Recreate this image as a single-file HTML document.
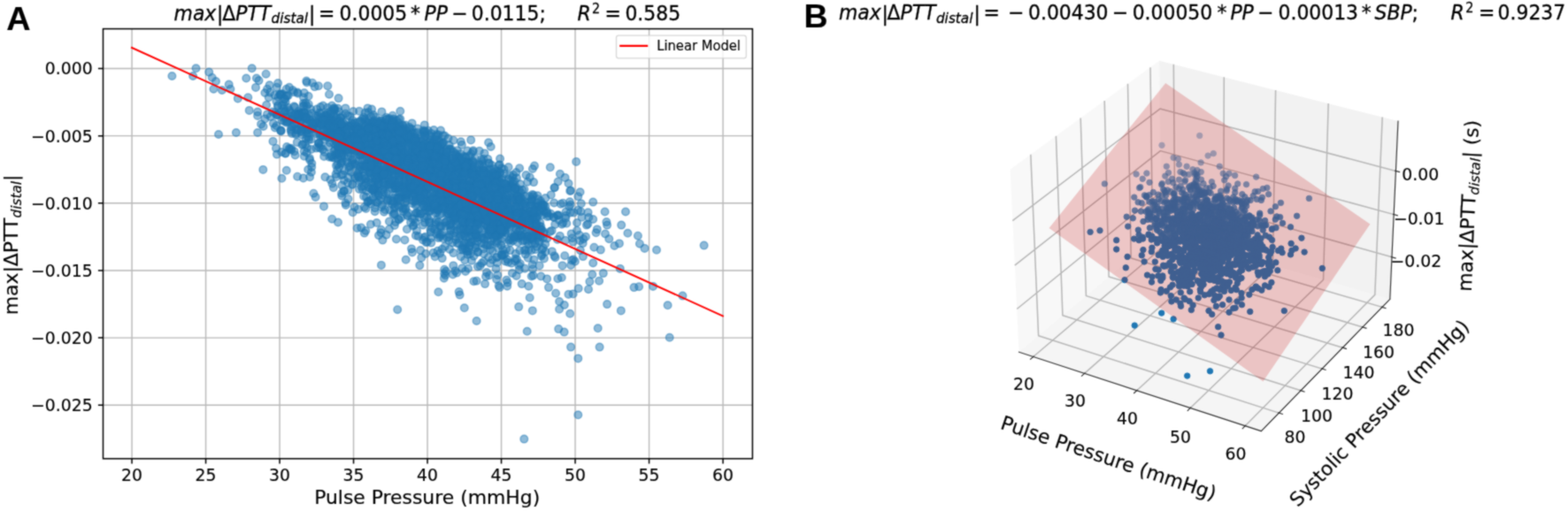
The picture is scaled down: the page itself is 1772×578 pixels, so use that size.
<!DOCTYPE html>
<html lang="en"><head><meta charset="utf-8"><title>Figure: PTT vs pulse pressure</title><style>html,body{margin:0;padding:0;background:#fff}body{width:1772px;height:578px;overflow:hidden}svg text{white-space:pre;stroke:#000;stroke-width:.16px;paint-order:stroke fill}</style></head><body><svg role="img" aria-label="Scatter plots of max delta PTT distal versus pulse pressure and systolic pressure" width="1772" height="578" viewBox="0 0 1772 578" style="display:block"><defs><filter id="soft" x="0" y="0" width="1772" height="578" filterUnits="userSpaceOnUse" color-interpolation-filters="sRGB"><feConvolveMatrix order="3" kernelMatrix="1 2 1 2 8 2 1 2 1" divisor="20" edgeMode="duplicate" preserveAlpha="true"/></filter></defs><g filter="url(#soft)"><rect width="1772" height="578" fill="#fff"/><rect x="116.5" y="32.6" width="733.9" height="486.2" fill="#fff"/>
<path d="M149.05 32.6V518.8M232.55 32.6V518.8M316.05 32.6V518.8M399.55 32.6V518.8M483.05 32.6V518.8M566.55 32.6V518.8M650.05 32.6V518.8M733.55 32.6V518.8M817.05 32.6V518.8M116.5 77.50H850.4M116.5 153.65H850.4M116.5 229.80H850.4M116.5 305.95H850.4M116.5 382.10H850.4M116.5 458.25H850.4" stroke="#b8b8b8" stroke-width="1.4" fill="none"/>
<g fill="#1f77b4" fill-opacity=".5" stroke="#1f77b4" stroke-opacity=".5" stroke-width="1.4">
<circle cx="544.4" cy="199.6" r="4.3"/><circle cx="470.1" cy="216.4" r="4.3"/><circle cx="487.4" cy="214.7" r="4.3"/><circle cx="543" cy="212.3" r="4.3"/><circle cx="504.7" cy="228.8" r="4.3"/><circle cx="362.2" cy="121.1" r="4.3"/><circle cx="439.2" cy="149.9" r="4.3"/><circle cx="561.9" cy="272.5" r="4.3"/><circle cx="545.9" cy="241.1" r="4.3"/><circle cx="420.6" cy="170.2" r="4.3"/><circle cx="377.3" cy="162.2" r="4.3"/><circle cx="492.6" cy="188.6" r="4.3"/><circle cx="450.6" cy="154.7" r="4.3"/><circle cx="494.5" cy="262.6" r="4.3"/><circle cx="587.8" cy="298.2" r="4.3"/><circle cx="534.3" cy="262.6" r="4.3"/><circle cx="560.5" cy="204.6" r="4.3"/><circle cx="569.3" cy="238" r="4.3"/><circle cx="503.4" cy="197.2" r="4.3"/><circle cx="559.9" cy="229.1" r="4.3"/><circle cx="590.2" cy="241.2" r="4.3"/><circle cx="562" cy="214" r="4.3"/><circle cx="503.9" cy="183.5" r="4.3"/><circle cx="404.9" cy="146.9" r="4.3"/><circle cx="465.1" cy="155.7" r="4.3"/><circle cx="522.6" cy="236" r="4.3"/><circle cx="541.9" cy="206.9" r="4.3"/><circle cx="426.4" cy="181.9" r="4.3"/><circle cx="424.2" cy="139.1" r="4.3"/><circle cx="336.1" cy="199.7" r="4.3"/><circle cx="505.3" cy="227.3" r="4.3"/><circle cx="432.1" cy="232" r="4.3"/><circle cx="459.9" cy="259.3" r="4.3"/><circle cx="435.2" cy="155" r="4.3"/><circle cx="498" cy="165.5" r="4.3"/><circle cx="488.3" cy="223.7" r="4.3"/><circle cx="398" cy="140.3" r="4.3"/><circle cx="596.6" cy="242.7" r="4.3"/><circle cx="576" cy="208.4" r="4.3"/><circle cx="407.3" cy="136.7" r="4.3"/><circle cx="612.4" cy="288" r="4.3"/><circle cx="529.3" cy="190.1" r="4.3"/><circle cx="463.7" cy="209.7" r="4.3"/><circle cx="510.5" cy="194.2" r="4.3"/><circle cx="428.8" cy="210.7" r="4.3"/><circle cx="563.1" cy="266.2" r="4.3"/><circle cx="523.7" cy="206.5" r="4.3"/><circle cx="447.6" cy="192.2" r="4.3"/><circle cx="595.3" cy="245" r="4.3"/><circle cx="553" cy="215.6" r="4.3"/><circle cx="371" cy="140.7" r="4.3"/><circle cx="613.7" cy="237.9" r="4.3"/><circle cx="551.3" cy="277.1" r="4.3"/><circle cx="335.8" cy="160.9" r="4.3"/><circle cx="540.6" cy="192" r="4.3"/><circle cx="441" cy="167.2" r="4.3"/><circle cx="564.8" cy="254.2" r="4.3"/><circle cx="532.7" cy="273.7" r="4.3"/><circle cx="392.6" cy="151.3" r="4.3"/><circle cx="546.2" cy="252" r="4.3"/><circle cx="387.4" cy="150.1" r="4.3"/><circle cx="586.2" cy="246.1" r="4.3"/><circle cx="658.7" cy="275.1" r="4.3"/><circle cx="527.4" cy="194" r="4.3"/><circle cx="509.1" cy="249.9" r="4.3"/><circle cx="481" cy="225.5" r="4.3"/><circle cx="635" cy="253.7" r="4.3"/><circle cx="506.5" cy="241.7" r="4.3"/><circle cx="439.4" cy="144.2" r="4.3"/><circle cx="513.2" cy="224" r="4.3"/><circle cx="464.3" cy="193.7" r="4.3"/><circle cx="441.2" cy="226.9" r="4.3"/><circle cx="455.9" cy="144.7" r="4.3"/><circle cx="473.7" cy="245.7" r="4.3"/><circle cx="577.8" cy="243.9" r="4.3"/><circle cx="440.8" cy="193.6" r="4.3"/><circle cx="471.6" cy="179.1" r="4.3"/><circle cx="453.5" cy="146.4" r="4.3"/><circle cx="515.7" cy="261.9" r="4.3"/><circle cx="440" cy="205.6" r="4.3"/><circle cx="533.1" cy="195.4" r="4.3"/><circle cx="454.6" cy="162.8" r="4.3"/><circle cx="549.5" cy="237.5" r="4.3"/><circle cx="551.7" cy="211.5" r="4.3"/><circle cx="576.5" cy="271" r="4.3"/><circle cx="462.8" cy="161.6" r="4.3"/><circle cx="593.8" cy="287.6" r="4.3"/><circle cx="471.6" cy="178.6" r="4.3"/><circle cx="487" cy="269.3" r="4.3"/><circle cx="468.9" cy="171.6" r="4.3"/><circle cx="505" cy="242.3" r="4.3"/><circle cx="371.1" cy="135.6" r="4.3"/><circle cx="495.3" cy="220.3" r="4.3"/><circle cx="343.7" cy="171.2" r="4.3"/><circle cx="468" cy="187.7" r="4.3"/><circle cx="435.2" cy="237.3" r="4.3"/><circle cx="433.3" cy="162" r="4.3"/><circle cx="515.3" cy="241.1" r="4.3"/><circle cx="594.5" cy="267.3" r="4.3"/><circle cx="445" cy="148.8" r="4.3"/><circle cx="398.4" cy="208.3" r="4.3"/><circle cx="508.4" cy="226.1" r="4.3"/><circle cx="533.5" cy="224" r="4.3"/><circle cx="518.2" cy="202.9" r="4.3"/><circle cx="424.8" cy="228.7" r="4.3"/><circle cx="491.6" cy="166.1" r="4.3"/><circle cx="386" cy="218.8" r="4.3"/><circle cx="531.6" cy="241.2" r="4.3"/><circle cx="430.7" cy="144.1" r="4.3"/><circle cx="471.5" cy="202.3" r="4.3"/><circle cx="478.3" cy="164.3" r="4.3"/><circle cx="484.6" cy="216.5" r="4.3"/><circle cx="490.3" cy="236.8" r="4.3"/><circle cx="370" cy="145.5" r="4.3"/><circle cx="432.1" cy="144.2" r="4.3"/><circle cx="646.7" cy="269.2" r="4.3"/><circle cx="592.7" cy="231" r="4.3"/><circle cx="430.5" cy="156.1" r="4.3"/><circle cx="495.5" cy="206" r="4.3"/><circle cx="403.6" cy="258" r="4.3"/><circle cx="531.6" cy="230.1" r="4.3"/><circle cx="485.2" cy="250.5" r="4.3"/><circle cx="507.4" cy="254.9" r="4.3"/><circle cx="539.3" cy="247.8" r="4.3"/><circle cx="489.3" cy="163.2" r="4.3"/><circle cx="521.3" cy="220.1" r="4.3"/><circle cx="468.3" cy="247.4" r="4.3"/><circle cx="505.3" cy="168.9" r="4.3"/><circle cx="550.4" cy="256.3" r="4.3"/><circle cx="569" cy="223.7" r="4.3"/><circle cx="484.7" cy="182.8" r="4.3"/><circle cx="399.6" cy="179.9" r="4.3"/><circle cx="523" cy="182.5" r="4.3"/><circle cx="387.2" cy="150.9" r="4.3"/><circle cx="567" cy="239.4" r="4.3"/><circle cx="439.4" cy="165.2" r="4.3"/><circle cx="467.7" cy="208.2" r="4.3"/><circle cx="554.9" cy="242.9" r="4.3"/><circle cx="566.7" cy="288.4" r="4.3"/><circle cx="493.4" cy="248.8" r="4.3"/><circle cx="408.6" cy="211.2" r="4.3"/><circle cx="481.3" cy="234" r="4.3"/><circle cx="570.4" cy="226.2" r="4.3"/><circle cx="434.6" cy="193.6" r="4.3"/><circle cx="489.5" cy="218.3" r="4.3"/><circle cx="394.3" cy="192.7" r="4.3"/><circle cx="465" cy="156" r="4.3"/><circle cx="568.4" cy="216.3" r="4.3"/><circle cx="482.8" cy="273.8" r="4.3"/><circle cx="579.2" cy="200.5" r="4.3"/><circle cx="457.2" cy="229.4" r="4.3"/><circle cx="389.6" cy="162.6" r="4.3"/><circle cx="413.8" cy="222.7" r="4.3"/><circle cx="421.9" cy="155.1" r="4.3"/><circle cx="561.4" cy="251.3" r="4.3"/><circle cx="550.3" cy="242.2" r="4.3"/><circle cx="462.4" cy="199.7" r="4.3"/><circle cx="501.7" cy="190.9" r="4.3"/><circle cx="480.1" cy="251.7" r="4.3"/><circle cx="546.2" cy="214.7" r="4.3"/><circle cx="406" cy="214" r="4.3"/><circle cx="427.1" cy="164.9" r="4.3"/><circle cx="541.5" cy="185.8" r="4.3"/><circle cx="491.5" cy="162" r="4.3"/><circle cx="436.5" cy="157.6" r="4.3"/><circle cx="559.4" cy="199.3" r="4.3"/><circle cx="500.1" cy="226.7" r="4.3"/><circle cx="583.1" cy="211.5" r="4.3"/><circle cx="590.1" cy="243.6" r="4.3"/><circle cx="377.7" cy="170.6" r="4.3"/><circle cx="454.1" cy="189.1" r="4.3"/><circle cx="366.2" cy="176.9" r="4.3"/><circle cx="455.7" cy="142.8" r="4.3"/><circle cx="344.1" cy="145.9" r="4.3"/><circle cx="446.5" cy="210.4" r="4.3"/><circle cx="445.8" cy="213.1" r="4.3"/><circle cx="555.9" cy="220.4" r="4.3"/><circle cx="526" cy="268.3" r="4.3"/><circle cx="618.2" cy="269.7" r="4.3"/><circle cx="374.2" cy="141.5" r="4.3"/><circle cx="567.6" cy="221.1" r="4.3"/><circle cx="462.4" cy="186" r="4.3"/><circle cx="527.6" cy="283.8" r="4.3"/><circle cx="359.2" cy="130.6" r="4.3"/><circle cx="423.8" cy="219.1" r="4.3"/><circle cx="541.9" cy="193.3" r="4.3"/><circle cx="415.2" cy="193.3" r="4.3"/><circle cx="563.1" cy="193.5" r="4.3"/><circle cx="352.2" cy="189" r="4.3"/><circle cx="388.4" cy="216.4" r="4.3"/><circle cx="528.9" cy="232" r="4.3"/><circle cx="430.5" cy="224.5" r="4.3"/><circle cx="480.7" cy="188.5" r="4.3"/><circle cx="597" cy="243.1" r="4.3"/><circle cx="551.3" cy="179.9" r="4.3"/><circle cx="405.5" cy="156.7" r="4.3"/><circle cx="586" cy="228.3" r="4.3"/><circle cx="503.2" cy="197.4" r="4.3"/><circle cx="576.9" cy="274.3" r="4.3"/><circle cx="442.8" cy="208.4" r="4.3"/><circle cx="494.3" cy="194" r="4.3"/><circle cx="519.1" cy="192.5" r="4.3"/><circle cx="483.9" cy="181.4" r="4.3"/><circle cx="548.4" cy="192.7" r="4.3"/><circle cx="459" cy="209.8" r="4.3"/><circle cx="529.9" cy="184.1" r="4.3"/><circle cx="544.5" cy="213.4" r="4.3"/><circle cx="567.7" cy="201.5" r="4.3"/><circle cx="489.9" cy="168.4" r="4.3"/><circle cx="485.4" cy="229.3" r="4.3"/><circle cx="535.6" cy="218.8" r="4.3"/><circle cx="424.2" cy="132.4" r="4.3"/><circle cx="412.6" cy="127.6" r="4.3"/><circle cx="575.8" cy="247.3" r="4.3"/><circle cx="405" cy="169.4" r="4.3"/><circle cx="547.5" cy="230.2" r="4.3"/><circle cx="577.9" cy="264.8" r="4.3"/><circle cx="605" cy="259.9" r="4.3"/><circle cx="588.4" cy="223.7" r="4.3"/><circle cx="431.3" cy="146.5" r="4.3"/><circle cx="560.4" cy="223.4" r="4.3"/><circle cx="520.7" cy="266.8" r="4.3"/><circle cx="324.9" cy="121.4" r="4.3"/><circle cx="434" cy="239.7" r="4.3"/><circle cx="505.9" cy="205.4" r="4.3"/><circle cx="592.7" cy="265.6" r="4.3"/><circle cx="553.8" cy="246.7" r="4.3"/><circle cx="571.2" cy="295.6" r="4.3"/><circle cx="386.7" cy="182.8" r="4.3"/><circle cx="449.3" cy="227.9" r="4.3"/><circle cx="549.6" cy="242.1" r="4.3"/><circle cx="484.5" cy="199.5" r="4.3"/><circle cx="556.3" cy="293.7" r="4.3"/><circle cx="329.3" cy="169.6" r="4.3"/><circle cx="500.2" cy="195.1" r="4.3"/><circle cx="432.7" cy="198.3" r="4.3"/><circle cx="583" cy="214.2" r="4.3"/><circle cx="388.7" cy="143.2" r="4.3"/><circle cx="530" cy="224.6" r="4.3"/><circle cx="433.9" cy="195" r="4.3"/><circle cx="516.7" cy="275.3" r="4.3"/><circle cx="509" cy="260.9" r="4.3"/><circle cx="428.5" cy="201.9" r="4.3"/><circle cx="475.4" cy="225.1" r="4.3"/><circle cx="491.6" cy="290.3" r="4.3"/><circle cx="535.8" cy="248.7" r="4.3"/><circle cx="535.3" cy="205.7" r="4.3"/><circle cx="447" cy="213.5" r="4.3"/><circle cx="426.8" cy="178.4" r="4.3"/><circle cx="536.1" cy="194.5" r="4.3"/><circle cx="529.8" cy="236.1" r="4.3"/><circle cx="586.8" cy="305.1" r="4.3"/><circle cx="546.1" cy="246" r="4.3"/><circle cx="447.8" cy="141.6" r="4.3"/><circle cx="491.4" cy="182.2" r="4.3"/><circle cx="515.3" cy="271.2" r="4.3"/><circle cx="445.2" cy="144.2" r="4.3"/><circle cx="614.7" cy="264" r="4.3"/><circle cx="481.5" cy="167.2" r="4.3"/><circle cx="402.1" cy="150.7" r="4.3"/><circle cx="609.2" cy="267.1" r="4.3"/><circle cx="494" cy="180.3" r="4.3"/><circle cx="456.6" cy="207.7" r="4.3"/><circle cx="508.1" cy="281.9" r="4.3"/><circle cx="423.9" cy="184" r="4.3"/><circle cx="404.2" cy="171.7" r="4.3"/><circle cx="397.2" cy="169.6" r="4.3"/><circle cx="532.3" cy="225.2" r="4.3"/><circle cx="440.7" cy="190.1" r="4.3"/><circle cx="466" cy="178.7" r="4.3"/><circle cx="494.2" cy="183" r="4.3"/><circle cx="582.1" cy="295.2" r="4.3"/><circle cx="559.1" cy="265.5" r="4.3"/><circle cx="561.2" cy="291.2" r="4.3"/><circle cx="559.4" cy="260" r="4.3"/><circle cx="584.5" cy="230" r="4.3"/><circle cx="473.1" cy="195.4" r="4.3"/><circle cx="424.8" cy="154.8" r="4.3"/><circle cx="470.7" cy="240.6" r="4.3"/><circle cx="408.6" cy="174.3" r="4.3"/><circle cx="558.4" cy="224.9" r="4.3"/><circle cx="546.4" cy="203.9" r="4.3"/><circle cx="503.4" cy="201.4" r="4.3"/><circle cx="514.6" cy="218.7" r="4.3"/><circle cx="480.4" cy="172.4" r="4.3"/><circle cx="563.6" cy="201.8" r="4.3"/><circle cx="537.1" cy="257.8" r="4.3"/><circle cx="526.5" cy="232.5" r="4.3"/><circle cx="492.3" cy="253.8" r="4.3"/><circle cx="510.8" cy="227.9" r="4.3"/><circle cx="372.2" cy="133.2" r="4.3"/><circle cx="494" cy="237.7" r="4.3"/><circle cx="584.3" cy="221.5" r="4.3"/><circle cx="523.9" cy="257.4" r="4.3"/><circle cx="535.7" cy="201.6" r="4.3"/><circle cx="537.6" cy="263.6" r="4.3"/><circle cx="482.7" cy="208.2" r="4.3"/><circle cx="488" cy="234.3" r="4.3"/><circle cx="440.4" cy="159.1" r="4.3"/><circle cx="566" cy="229.7" r="4.3"/><circle cx="454.7" cy="185" r="4.3"/><circle cx="584.6" cy="220" r="4.3"/><circle cx="423.4" cy="185.7" r="4.3"/><circle cx="438.7" cy="218.7" r="4.3"/><circle cx="598" cy="239.4" r="4.3"/><circle cx="496.7" cy="222.6" r="4.3"/><circle cx="499.2" cy="241.4" r="4.3"/><circle cx="439.5" cy="202.9" r="4.3"/><circle cx="530.3" cy="213.4" r="4.3"/><circle cx="524.4" cy="200.5" r="4.3"/><circle cx="492.2" cy="241.2" r="4.3"/><circle cx="471.3" cy="209.4" r="4.3"/><circle cx="379.5" cy="176.2" r="4.3"/><circle cx="460.4" cy="193.2" r="4.3"/><circle cx="482.6" cy="245.1" r="4.3"/><circle cx="588.4" cy="222.9" r="4.3"/><circle cx="568.1" cy="216.1" r="4.3"/><circle cx="507" cy="267.8" r="4.3"/><circle cx="377.7" cy="143.9" r="4.3"/><circle cx="438.1" cy="227.9" r="4.3"/><circle cx="411.6" cy="198.9" r="4.3"/><circle cx="644.5" cy="240.6" r="4.3"/><circle cx="478" cy="271.5" r="4.3"/><circle cx="430.1" cy="176" r="4.3"/><circle cx="529.3" cy="284.3" r="4.3"/><circle cx="379" cy="169.4" r="4.3"/><circle cx="420" cy="164.8" r="4.3"/><circle cx="546.8" cy="206.8" r="4.3"/><circle cx="503.4" cy="210.4" r="4.3"/><circle cx="537.8" cy="234.9" r="4.3"/><circle cx="600.9" cy="252.4" r="4.3"/><circle cx="346.6" cy="172.6" r="4.3"/><circle cx="405.2" cy="160.2" r="4.3"/><circle cx="400.7" cy="143.5" r="4.3"/><circle cx="639.6" cy="239.5" r="4.3"/><circle cx="447.5" cy="221" r="4.3"/><circle cx="541.4" cy="200.6" r="4.3"/><circle cx="514.4" cy="196.8" r="4.3"/><circle cx="418.9" cy="253.8" r="4.3"/><circle cx="333.1" cy="140.3" r="4.3"/><circle cx="647.9" cy="293.5" r="4.3"/><circle cx="474.4" cy="188.8" r="4.3"/><circle cx="551.5" cy="213.8" r="4.3"/><circle cx="457.1" cy="185.9" r="4.3"/><circle cx="523.4" cy="195.7" r="4.3"/><circle cx="558" cy="203.6" r="4.3"/><circle cx="388.7" cy="175.6" r="4.3"/><circle cx="528.1" cy="243.9" r="4.3"/><circle cx="447.9" cy="149.9" r="4.3"/><circle cx="593.2" cy="250.8" r="4.3"/><circle cx="556.8" cy="208.9" r="4.3"/><circle cx="594" cy="249.4" r="4.3"/><circle cx="595.4" cy="273.1" r="4.3"/><circle cx="546.7" cy="223.6" r="4.3"/><circle cx="493.4" cy="153.9" r="4.3"/><circle cx="553.8" cy="231.4" r="4.3"/><circle cx="447.6" cy="190.3" r="4.3"/><circle cx="479.5" cy="188.7" r="4.3"/><circle cx="546.4" cy="207.8" r="4.3"/><circle cx="419.6" cy="207.3" r="4.3"/><circle cx="531.3" cy="287.2" r="4.3"/><circle cx="391.7" cy="160.9" r="4.3"/><circle cx="501.9" cy="179.3" r="4.3"/><circle cx="377.5" cy="178.5" r="4.3"/><circle cx="440.3" cy="190.1" r="4.3"/><circle cx="362" cy="137.6" r="4.3"/><circle cx="443.7" cy="170.7" r="4.3"/><circle cx="327.3" cy="168.8" r="4.3"/><circle cx="404.6" cy="144.8" r="4.3"/><circle cx="529.3" cy="228.6" r="4.3"/><circle cx="380.8" cy="174.6" r="4.3"/><circle cx="447.9" cy="212" r="4.3"/><circle cx="416.3" cy="171.1" r="4.3"/><circle cx="396.8" cy="142.5" r="4.3"/><circle cx="459.8" cy="154.8" r="4.3"/><circle cx="395.2" cy="154" r="4.3"/><circle cx="391" cy="155.9" r="4.3"/><circle cx="534.6" cy="260.7" r="4.3"/><circle cx="467.6" cy="203.1" r="4.3"/><circle cx="649.9" cy="295.7" r="4.3"/><circle cx="522.3" cy="303.4" r="4.3"/><circle cx="578.1" cy="251.6" r="4.3"/><circle cx="521.4" cy="194.3" r="4.3"/><circle cx="584.2" cy="227.6" r="4.3"/><circle cx="410.2" cy="148.3" r="4.3"/><circle cx="505.3" cy="182.1" r="4.3"/><circle cx="411.7" cy="173.7" r="4.3"/><circle cx="453.2" cy="185.4" r="4.3"/><circle cx="457.7" cy="224.3" r="4.3"/><circle cx="464.4" cy="173.2" r="4.3"/><circle cx="405.6" cy="193.8" r="4.3"/><circle cx="463.1" cy="145.4" r="4.3"/><circle cx="445.5" cy="235.6" r="4.3"/><circle cx="474.9" cy="179.4" r="4.3"/><circle cx="448.5" cy="163.9" r="4.3"/><circle cx="586.4" cy="240" r="4.3"/><circle cx="537" cy="213.6" r="4.3"/><circle cx="412.8" cy="158.9" r="4.3"/><circle cx="577.2" cy="269" r="4.3"/><circle cx="563.9" cy="211.6" r="4.3"/><circle cx="439.2" cy="200" r="4.3"/><circle cx="469.6" cy="241.3" r="4.3"/><circle cx="350" cy="136.4" r="4.3"/><circle cx="387" cy="158.2" r="4.3"/><circle cx="509" cy="214.1" r="4.3"/><circle cx="450.4" cy="173.2" r="4.3"/><circle cx="419.4" cy="230.6" r="4.3"/><circle cx="536" cy="213" r="4.3"/><circle cx="422.9" cy="165.3" r="4.3"/><circle cx="509.4" cy="259.7" r="4.3"/><circle cx="560.4" cy="226.8" r="4.3"/><circle cx="506.1" cy="217.1" r="4.3"/><circle cx="455.8" cy="161.6" r="4.3"/><circle cx="503.9" cy="214.3" r="4.3"/><circle cx="466" cy="171.8" r="4.3"/><circle cx="560.6" cy="303.9" r="4.3"/><circle cx="379" cy="157" r="4.3"/><circle cx="529.1" cy="183.5" r="4.3"/><circle cx="469.8" cy="224.3" r="4.3"/><circle cx="524.6" cy="235.7" r="4.3"/><circle cx="543.9" cy="228.2" r="4.3"/><circle cx="368.3" cy="130.9" r="4.3"/><circle cx="510.8" cy="206.9" r="4.3"/><circle cx="374.2" cy="135.3" r="4.3"/><circle cx="582.9" cy="268.5" r="4.3"/><circle cx="345.7" cy="147.1" r="4.3"/><circle cx="376.9" cy="212.3" r="4.3"/><circle cx="519.8" cy="180.2" r="4.3"/><circle cx="424.3" cy="213.8" r="4.3"/><circle cx="343.5" cy="127.6" r="4.3"/><circle cx="404.9" cy="165.5" r="4.3"/><circle cx="432.6" cy="142.7" r="4.3"/><circle cx="512.4" cy="286.1" r="4.3"/><circle cx="458.3" cy="235.6" r="4.3"/><circle cx="466" cy="247.3" r="4.3"/><circle cx="485.2" cy="239.8" r="4.3"/><circle cx="484.2" cy="230.5" r="4.3"/><circle cx="464.2" cy="149.1" r="4.3"/><circle cx="563.3" cy="225.6" r="4.3"/><circle cx="489.5" cy="190.8" r="4.3"/><circle cx="388.7" cy="155.4" r="4.3"/><circle cx="533" cy="294.7" r="4.3"/><circle cx="449.5" cy="189.3" r="4.3"/><circle cx="626.6" cy="212.2" r="4.3"/><circle cx="503.2" cy="311.5" r="4.3"/><circle cx="506.9" cy="220.3" r="4.3"/><circle cx="440.2" cy="189.3" r="4.3"/><circle cx="544.2" cy="274.6" r="4.3"/><circle cx="468.2" cy="171.3" r="4.3"/><circle cx="334.4" cy="145.8" r="4.3"/><circle cx="392.6" cy="142.2" r="4.3"/><circle cx="512.2" cy="208.3" r="4.3"/><circle cx="498.1" cy="211.4" r="4.3"/><circle cx="477.6" cy="208.2" r="4.3"/><circle cx="544.7" cy="185.6" r="4.3"/><circle cx="472.7" cy="159.5" r="4.3"/><circle cx="455.4" cy="197.8" r="4.3"/><circle cx="500" cy="193.7" r="4.3"/><circle cx="596.3" cy="267.7" r="4.3"/><circle cx="377.8" cy="157.1" r="4.3"/><circle cx="434.2" cy="198.8" r="4.3"/><circle cx="578.4" cy="248.7" r="4.3"/><circle cx="553.2" cy="219.3" r="4.3"/><circle cx="486.5" cy="181.1" r="4.3"/><circle cx="382.9" cy="126.2" r="4.3"/><circle cx="515.1" cy="220.1" r="4.3"/><circle cx="521.2" cy="226.7" r="4.3"/><circle cx="448.5" cy="141.6" r="4.3"/><circle cx="442.2" cy="137" r="4.3"/><circle cx="558.8" cy="243.2" r="4.3"/><circle cx="614.3" cy="231.9" r="4.3"/><circle cx="531.6" cy="207.1" r="4.3"/><circle cx="531.1" cy="259.3" r="4.3"/><circle cx="507.8" cy="234.3" r="4.3"/><circle cx="459.9" cy="175.2" r="4.3"/><circle cx="555.8" cy="208.3" r="4.3"/><circle cx="448.7" cy="223.9" r="4.3"/><circle cx="575.9" cy="198.3" r="4.3"/><circle cx="493.7" cy="169.8" r="4.3"/><circle cx="385.9" cy="141.7" r="4.3"/><circle cx="463.9" cy="212.3" r="4.3"/><circle cx="465.7" cy="229.9" r="4.3"/><circle cx="585.8" cy="224.9" r="4.3"/><circle cx="452.3" cy="134.6" r="4.3"/><circle cx="509.8" cy="205.8" r="4.3"/><circle cx="397.4" cy="167.6" r="4.3"/><circle cx="414.5" cy="173.2" r="4.3"/><circle cx="507.8" cy="179.1" r="4.3"/><circle cx="500" cy="223" r="4.3"/><circle cx="600.5" cy="270.1" r="4.3"/><circle cx="422.1" cy="167.1" r="4.3"/><circle cx="397.6" cy="168.7" r="4.3"/><circle cx="616.5" cy="284.7" r="4.3"/><circle cx="573.7" cy="224.7" r="4.3"/><circle cx="414.3" cy="215.9" r="4.3"/><circle cx="440.4" cy="237.5" r="4.3"/><circle cx="441.5" cy="182" r="4.3"/><circle cx="518.5" cy="275.2" r="4.3"/><circle cx="468.2" cy="213.8" r="4.3"/><circle cx="640.3" cy="252.8" r="4.3"/><circle cx="433.5" cy="170.2" r="4.3"/><circle cx="495.7" cy="195.2" r="4.3"/><circle cx="417.6" cy="162" r="4.3"/><circle cx="554.1" cy="245.3" r="4.3"/><circle cx="400.8" cy="145.6" r="4.3"/><circle cx="340.8" cy="143.6" r="4.3"/><circle cx="591.3" cy="241.3" r="4.3"/><circle cx="534.2" cy="223.3" r="4.3"/><circle cx="555.1" cy="238.6" r="4.3"/><circle cx="412.9" cy="150.7" r="4.3"/><circle cx="537.4" cy="280" r="4.3"/><circle cx="446.7" cy="213.3" r="4.3"/><circle cx="389" cy="170.3" r="4.3"/><circle cx="547.9" cy="239.9" r="4.3"/><circle cx="511" cy="241.7" r="4.3"/><circle cx="577.9" cy="236.3" r="4.3"/><circle cx="532.6" cy="174.1" r="4.3"/><circle cx="515.2" cy="253.2" r="4.3"/><circle cx="452.7" cy="227.2" r="4.3"/><circle cx="566.8" cy="190.3" r="4.3"/><circle cx="458.1" cy="184.1" r="4.3"/><circle cx="401.2" cy="145.8" r="4.3"/><circle cx="561.7" cy="290.9" r="4.3"/><circle cx="416" cy="138.6" r="4.3"/><circle cx="566.2" cy="207.1" r="4.3"/><circle cx="441.7" cy="162.4" r="4.3"/><circle cx="605" cy="247.4" r="4.3"/><circle cx="394.3" cy="188.9" r="4.3"/><circle cx="407" cy="152.6" r="4.3"/><circle cx="474.3" cy="300.1" r="4.3"/><circle cx="548.9" cy="241.7" r="4.3"/><circle cx="480.6" cy="176.3" r="4.3"/><circle cx="643.9" cy="228.3" r="4.3"/><circle cx="447.2" cy="165" r="4.3"/><circle cx="507.2" cy="272.2" r="4.3"/><circle cx="393" cy="206.5" r="4.3"/><circle cx="515.5" cy="180.9" r="4.3"/><circle cx="554" cy="277.1" r="4.3"/><circle cx="519.6" cy="211.6" r="4.3"/><circle cx="369.2" cy="142.3" r="4.3"/><circle cx="406" cy="159.4" r="4.3"/><circle cx="387.5" cy="197.5" r="4.3"/><circle cx="502.5" cy="196.4" r="4.3"/><circle cx="513.8" cy="236.6" r="4.3"/><circle cx="552" cy="291" r="4.3"/><circle cx="462.1" cy="220.7" r="4.3"/><circle cx="602.4" cy="245.1" r="4.3"/><circle cx="362" cy="152.9" r="4.3"/><circle cx="385.4" cy="142.5" r="4.3"/><circle cx="416.2" cy="127.1" r="4.3"/><circle cx="447.2" cy="207.3" r="4.3"/><circle cx="580.8" cy="237.1" r="4.3"/><circle cx="547.9" cy="242.5" r="4.3"/><circle cx="532.2" cy="240.4" r="4.3"/><circle cx="540" cy="250.1" r="4.3"/><circle cx="554.9" cy="221.2" r="4.3"/><circle cx="495.4" cy="152.4" r="4.3"/><circle cx="446.1" cy="180.6" r="4.3"/><circle cx="594.1" cy="256.9" r="4.3"/><circle cx="332.6" cy="171.3" r="4.3"/><circle cx="383.8" cy="147.2" r="4.3"/><circle cx="481.8" cy="181.1" r="4.3"/><circle cx="412.5" cy="148.8" r="4.3"/><circle cx="497" cy="265.7" r="4.3"/><circle cx="455" cy="190.3" r="4.3"/><circle cx="643.2" cy="233.6" r="4.3"/><circle cx="447" cy="192.1" r="4.3"/><circle cx="497.1" cy="268" r="4.3"/><circle cx="379.3" cy="140.7" r="4.3"/><circle cx="492.4" cy="227.5" r="4.3"/><circle cx="429.8" cy="164.3" r="4.3"/><circle cx="601.9" cy="271.3" r="4.3"/><circle cx="517.5" cy="220.3" r="4.3"/><circle cx="326.5" cy="135.9" r="4.3"/><circle cx="562.9" cy="260.4" r="4.3"/><circle cx="485.5" cy="252.1" r="4.3"/><circle cx="523.3" cy="195.8" r="4.3"/><circle cx="582.9" cy="286.9" r="4.3"/><circle cx="409.4" cy="166.6" r="4.3"/><circle cx="423.8" cy="142.2" r="4.3"/><circle cx="507.6" cy="209.3" r="4.3"/><circle cx="464" cy="179" r="4.3"/><circle cx="384.7" cy="133.3" r="4.3"/><circle cx="382.6" cy="144" r="4.3"/><circle cx="524.9" cy="247" r="4.3"/><circle cx="443.4" cy="231.2" r="4.3"/><circle cx="439.5" cy="149.6" r="4.3"/><circle cx="425.5" cy="187.6" r="4.3"/><circle cx="486.5" cy="175.4" r="4.3"/><circle cx="515.5" cy="200.8" r="4.3"/><circle cx="588.6" cy="228.5" r="4.3"/><circle cx="450.3" cy="196" r="4.3"/><circle cx="579.3" cy="208.2" r="4.3"/><circle cx="501.7" cy="202.5" r="4.3"/><circle cx="487.9" cy="188" r="4.3"/><circle cx="463" cy="198" r="4.3"/><circle cx="589" cy="239" r="4.3"/><circle cx="480" cy="181.3" r="4.3"/><circle cx="565.6" cy="264.9" r="4.3"/><circle cx="461.6" cy="157.8" r="4.3"/><circle cx="466" cy="150.2" r="4.3"/><circle cx="495" cy="237.7" r="4.3"/><circle cx="560.8" cy="200.6" r="4.3"/><circle cx="430.8" cy="202.7" r="4.3"/><circle cx="382.6" cy="166.9" r="4.3"/><circle cx="497.2" cy="286.6" r="4.3"/><circle cx="360.3" cy="166.8" r="4.3"/><circle cx="589.8" cy="240.5" r="4.3"/><circle cx="560.7" cy="220.3" r="4.3"/><circle cx="585.5" cy="267.7" r="4.3"/><circle cx="479.1" cy="268.7" r="4.3"/><circle cx="492.6" cy="206.1" r="4.3"/><circle cx="525.5" cy="254.4" r="4.3"/><circle cx="471.5" cy="190.1" r="4.3"/><circle cx="611.3" cy="256" r="4.3"/><circle cx="593.9" cy="282.8" r="4.3"/><circle cx="548.1" cy="235.1" r="4.3"/><circle cx="519" cy="182.7" r="4.3"/><circle cx="490.6" cy="211.6" r="4.3"/><circle cx="604.6" cy="233.6" r="4.3"/><circle cx="567.5" cy="203.4" r="4.3"/><circle cx="472.2" cy="200.1" r="4.3"/><circle cx="612.1" cy="259.8" r="4.3"/><circle cx="466.4" cy="181.1" r="4.3"/><circle cx="556.7" cy="240.5" r="4.3"/><circle cx="559.3" cy="228.4" r="4.3"/><circle cx="486.9" cy="262.6" r="4.3"/><circle cx="547.1" cy="270.6" r="4.3"/><circle cx="449.2" cy="148.6" r="4.3"/><circle cx="561.2" cy="256.4" r="4.3"/><circle cx="417.4" cy="171.7" r="4.3"/><circle cx="477.7" cy="199.9" r="4.3"/><circle cx="470.9" cy="230.9" r="4.3"/><circle cx="566.5" cy="277.6" r="4.3"/><circle cx="567.3" cy="272.9" r="4.3"/><circle cx="437.7" cy="169.6" r="4.3"/><circle cx="532.3" cy="192.5" r="4.3"/><circle cx="512" cy="240.7" r="4.3"/><circle cx="516.8" cy="254.7" r="4.3"/><circle cx="489.1" cy="171.7" r="4.3"/><circle cx="406.7" cy="175.7" r="4.3"/><circle cx="558" cy="254.3" r="4.3"/><circle cx="656.3" cy="239.3" r="4.3"/><circle cx="368.4" cy="130.4" r="4.3"/><circle cx="608.2" cy="243" r="4.3"/><circle cx="603.9" cy="250.8" r="4.3"/><circle cx="478.9" cy="212.6" r="4.3"/><circle cx="523.1" cy="240.3" r="4.3"/><circle cx="558.2" cy="218.6" r="4.3"/><circle cx="569.1" cy="227.9" r="4.3"/><circle cx="479.6" cy="152.2" r="4.3"/><circle cx="457" cy="220.2" r="4.3"/><circle cx="454.7" cy="210.8" r="4.3"/><circle cx="469.5" cy="178.4" r="4.3"/><circle cx="579.6" cy="223.9" r="4.3"/><circle cx="519.6" cy="218.1" r="4.3"/><circle cx="547.7" cy="194.9" r="4.3"/><circle cx="537.9" cy="265.4" r="4.3"/><circle cx="530.3" cy="184.3" r="4.3"/><circle cx="403" cy="153.7" r="4.3"/><circle cx="555.4" cy="228.3" r="4.3"/><circle cx="589.4" cy="253.9" r="4.3"/><circle cx="538" cy="235.1" r="4.3"/><circle cx="334.5" cy="150.9" r="4.3"/><circle cx="418.8" cy="213.2" r="4.3"/><circle cx="587.5" cy="255.5" r="4.3"/><circle cx="379.1" cy="137.2" r="4.3"/><circle cx="416" cy="145.5" r="4.3"/><circle cx="551.2" cy="202.4" r="4.3"/><circle cx="524.2" cy="186.3" r="4.3"/><circle cx="614.9" cy="292.4" r="4.3"/><circle cx="522.8" cy="188.5" r="4.3"/><circle cx="528.3" cy="170.6" r="4.3"/><circle cx="467.6" cy="254.7" r="4.3"/><circle cx="332.3" cy="120.3" r="4.3"/><circle cx="535.9" cy="213.5" r="4.3"/><circle cx="494" cy="235.8" r="4.3"/><circle cx="435.4" cy="169.7" r="4.3"/><circle cx="493.2" cy="195.2" r="4.3"/><circle cx="529.6" cy="229.1" r="4.3"/><circle cx="433.5" cy="145.3" r="4.3"/><circle cx="478.3" cy="147.6" r="4.3"/><circle cx="591" cy="267.6" r="4.3"/><circle cx="556" cy="198.6" r="4.3"/><circle cx="514.9" cy="267.1" r="4.3"/><circle cx="396.8" cy="194.7" r="4.3"/><circle cx="456.1" cy="146.4" r="4.3"/><circle cx="516.1" cy="181.7" r="4.3"/><circle cx="515.2" cy="235.1" r="4.3"/><circle cx="441.5" cy="172.9" r="4.3"/><circle cx="537.5" cy="200" r="4.3"/><circle cx="601.1" cy="225.7" r="4.3"/><circle cx="549.4" cy="224.8" r="4.3"/><circle cx="406.3" cy="191.9" r="4.3"/><circle cx="469.4" cy="251.8" r="4.3"/><circle cx="386.2" cy="143.2" r="4.3"/><circle cx="494.7" cy="185.1" r="4.3"/><circle cx="512.9" cy="222.1" r="4.3"/><circle cx="512.3" cy="214.5" r="4.3"/><circle cx="413.8" cy="137.6" r="4.3"/><circle cx="594.9" cy="244.4" r="4.3"/><circle cx="515.1" cy="246.4" r="4.3"/><circle cx="586.7" cy="225.4" r="4.3"/><circle cx="486.6" cy="173.1" r="4.3"/><circle cx="421.5" cy="137.7" r="4.3"/><circle cx="565.5" cy="254.7" r="4.3"/><circle cx="513.1" cy="234.2" r="4.3"/><circle cx="565.2" cy="195.3" r="4.3"/><circle cx="375.7" cy="178.2" r="4.3"/><circle cx="426.4" cy="199.7" r="4.3"/><circle cx="550.9" cy="236.1" r="4.3"/><circle cx="450.1" cy="192.7" r="4.3"/><circle cx="574.5" cy="202.8" r="4.3"/><circle cx="586.4" cy="223.1" r="4.3"/><circle cx="430.5" cy="156.7" r="4.3"/><circle cx="554.7" cy="248.9" r="4.3"/><circle cx="375.2" cy="145.9" r="4.3"/><circle cx="562.3" cy="260.1" r="4.3"/><circle cx="561.2" cy="208.5" r="4.3"/><circle cx="556.2" cy="260.5" r="4.3"/><circle cx="526.7" cy="233" r="4.3"/><circle cx="501" cy="220.9" r="4.3"/><circle cx="354.8" cy="148.5" r="4.3"/><circle cx="511.6" cy="245.5" r="4.3"/><circle cx="479.6" cy="205.5" r="4.3"/><circle cx="471.3" cy="210" r="4.3"/><circle cx="458.7" cy="176.4" r="4.3"/><circle cx="584.5" cy="254.6" r="4.3"/><circle cx="631.6" cy="243.6" r="4.3"/><circle cx="493.7" cy="175.8" r="4.3"/><circle cx="505.8" cy="203.6" r="4.3"/><circle cx="330.2" cy="135" r="4.3"/><circle cx="388.9" cy="154.2" r="4.3"/><circle cx="523.2" cy="277.6" r="4.3"/><circle cx="512.8" cy="263.3" r="4.3"/><circle cx="513.1" cy="205" r="4.3"/><circle cx="555.5" cy="231.8" r="4.3"/><circle cx="501.9" cy="179" r="4.3"/><circle cx="395.4" cy="131.4" r="4.3"/><circle cx="437" cy="189.7" r="4.3"/><circle cx="550.7" cy="233.2" r="4.3"/><circle cx="539.6" cy="218" r="4.3"/><circle cx="488.7" cy="225.7" r="4.3"/><circle cx="515" cy="229" r="4.3"/><circle cx="423.3" cy="217.2" r="4.3"/><circle cx="391.1" cy="169.6" r="4.3"/><circle cx="547" cy="222.7" r="4.3"/><circle cx="575.5" cy="251.9" r="4.3"/><circle cx="527.7" cy="284.7" r="4.3"/><circle cx="539.9" cy="301.5" r="4.3"/><circle cx="453.7" cy="156.2" r="4.3"/><circle cx="566.7" cy="231.7" r="4.3"/><circle cx="469.1" cy="220.8" r="4.3"/><circle cx="564.5" cy="221.2" r="4.3"/><circle cx="393.8" cy="177.3" r="4.3"/><circle cx="577.3" cy="240.3" r="4.3"/><circle cx="563.9" cy="264.6" r="4.3"/><circle cx="552.9" cy="184.8" r="4.3"/><circle cx="517" cy="181.3" r="4.3"/><circle cx="408" cy="175.2" r="4.3"/><circle cx="448.8" cy="173.6" r="4.3"/><circle cx="381.9" cy="179.4" r="4.3"/><circle cx="499.3" cy="199.5" r="4.3"/><circle cx="393.5" cy="201.1" r="4.3"/><circle cx="400.6" cy="154.4" r="4.3"/><circle cx="602.1" cy="304.2" r="4.3"/><circle cx="557.8" cy="239.1" r="4.3"/><circle cx="609.6" cy="261.7" r="4.3"/><circle cx="487.3" cy="150.9" r="4.3"/><circle cx="505.9" cy="188.1" r="4.3"/><circle cx="522.9" cy="195.6" r="4.3"/><circle cx="400.9" cy="185.5" r="4.3"/><circle cx="524.6" cy="187.1" r="4.3"/><circle cx="325.2" cy="137.7" r="4.3"/><circle cx="522.5" cy="227.8" r="4.3"/><circle cx="391.8" cy="148.6" r="4.3"/><circle cx="440.6" cy="166.4" r="4.3"/><circle cx="578" cy="251.7" r="4.3"/><circle cx="432.4" cy="154.6" r="4.3"/><circle cx="337" cy="126.1" r="4.3"/><circle cx="545.9" cy="192.3" r="4.3"/><circle cx="554.6" cy="211.3" r="4.3"/><circle cx="421.9" cy="189.6" r="4.3"/><circle cx="597.3" cy="276.2" r="4.3"/><circle cx="460" cy="180.5" r="4.3"/><circle cx="409.3" cy="146.4" r="4.3"/><circle cx="528.3" cy="250.6" r="4.3"/><circle cx="502.1" cy="218.6" r="4.3"/><circle cx="515.6" cy="230" r="4.3"/><circle cx="393.4" cy="215.1" r="4.3"/><circle cx="534.3" cy="244.9" r="4.3"/><circle cx="491.2" cy="207.6" r="4.3"/><circle cx="530.4" cy="218.2" r="4.3"/><circle cx="465.5" cy="146.1" r="4.3"/><circle cx="571" cy="256.1" r="4.3"/><circle cx="360.2" cy="143.1" r="4.3"/><circle cx="514.2" cy="245.7" r="4.3"/><circle cx="444.8" cy="151.3" r="4.3"/><circle cx="427.9" cy="171.2" r="4.3"/><circle cx="470.7" cy="223.5" r="4.3"/><circle cx="614.6" cy="262.2" r="4.3"/><circle cx="469.1" cy="186.1" r="4.3"/><circle cx="379.6" cy="163.9" r="4.3"/><circle cx="503.6" cy="198.6" r="4.3"/><circle cx="520.5" cy="186.8" r="4.3"/><circle cx="480.8" cy="267.7" r="4.3"/><circle cx="489" cy="188.4" r="4.3"/><circle cx="379.7" cy="151.1" r="4.3"/><circle cx="450.9" cy="234.3" r="4.3"/><circle cx="428.2" cy="191.7" r="4.3"/><circle cx="580" cy="250.9" r="4.3"/><circle cx="545.7" cy="269.5" r="4.3"/><circle cx="412.4" cy="154.2" r="4.3"/><circle cx="424.9" cy="203.1" r="4.3"/><circle cx="558.9" cy="237.7" r="4.3"/><circle cx="447.9" cy="143" r="4.3"/><circle cx="535.8" cy="237.4" r="4.3"/><circle cx="404.1" cy="170.4" r="4.3"/><circle cx="585.6" cy="241.5" r="4.3"/><circle cx="451" cy="188.2" r="4.3"/><circle cx="601.6" cy="220" r="4.3"/><circle cx="486.8" cy="232.8" r="4.3"/><circle cx="423.6" cy="185.5" r="4.3"/><circle cx="535.3" cy="192.1" r="4.3"/><circle cx="501" cy="269.9" r="4.3"/><circle cx="570.7" cy="255.5" r="4.3"/><circle cx="444.5" cy="140.8" r="4.3"/><circle cx="523.1" cy="252" r="4.3"/><circle cx="494.9" cy="224.7" r="4.3"/><circle cx="375.1" cy="119.5" r="4.3"/><circle cx="459" cy="176.9" r="4.3"/><circle cx="573.4" cy="232.9" r="4.3"/><circle cx="582.3" cy="292.7" r="4.3"/><circle cx="532.7" cy="192.5" r="4.3"/><circle cx="504.2" cy="199.7" r="4.3"/><circle cx="502.5" cy="221.3" r="4.3"/><circle cx="480.5" cy="237.9" r="4.3"/><circle cx="372.8" cy="139.4" r="4.3"/><circle cx="536.6" cy="178.7" r="4.3"/><circle cx="498.7" cy="265.5" r="4.3"/><circle cx="489.8" cy="285.9" r="4.3"/><circle cx="439.5" cy="142.3" r="4.3"/><circle cx="458.9" cy="179.5" r="4.3"/><circle cx="550" cy="228" r="4.3"/><circle cx="511.8" cy="241.1" r="4.3"/><circle cx="592.4" cy="283.1" r="4.3"/><circle cx="630.2" cy="243.6" r="4.3"/><circle cx="497" cy="255.7" r="4.3"/><circle cx="525.4" cy="185.6" r="4.3"/><circle cx="485.6" cy="238.6" r="4.3"/><circle cx="467.3" cy="202.7" r="4.3"/><circle cx="547.3" cy="193.2" r="4.3"/><circle cx="418.1" cy="179" r="4.3"/><circle cx="343.8" cy="105.1" r="4.3"/><circle cx="473.4" cy="208.5" r="4.3"/><circle cx="618.1" cy="315.4" r="4.3"/><circle cx="571.5" cy="212.6" r="4.3"/><circle cx="561.9" cy="202.2" r="4.3"/><circle cx="586" cy="269.2" r="4.3"/><circle cx="531.3" cy="210.6" r="4.3"/><circle cx="468.9" cy="150.4" r="4.3"/><circle cx="455.6" cy="239.3" r="4.3"/><circle cx="626.2" cy="229.5" r="4.3"/><circle cx="563.9" cy="242" r="4.3"/><circle cx="487.5" cy="173.2" r="4.3"/><circle cx="561.4" cy="232.6" r="4.3"/><circle cx="632.8" cy="266.9" r="4.3"/><circle cx="528.5" cy="234.9" r="4.3"/><circle cx="451.4" cy="211.6" r="4.3"/><circle cx="556" cy="187.1" r="4.3"/><circle cx="534.5" cy="221.8" r="4.3"/><circle cx="612.1" cy="231.4" r="4.3"/><circle cx="396.7" cy="153.5" r="4.3"/><circle cx="513.1" cy="203.3" r="4.3"/><circle cx="476" cy="218.9" r="4.3"/><circle cx="510.4" cy="197.2" r="4.3"/><circle cx="487.4" cy="169.8" r="4.3"/><circle cx="561.2" cy="194.1" r="4.3"/><circle cx="411.8" cy="263.6" r="4.3"/><circle cx="377.9" cy="125" r="4.3"/><circle cx="552.3" cy="239.1" r="4.3"/><circle cx="513.9" cy="248.6" r="4.3"/><circle cx="438.5" cy="209" r="4.3"/><circle cx="574.7" cy="213.3" r="4.3"/><circle cx="413.5" cy="235.9" r="4.3"/><circle cx="556.6" cy="283.7" r="4.3"/><circle cx="419.7" cy="181.2" r="4.3"/><circle cx="534.8" cy="195.9" r="4.3"/><circle cx="432.4" cy="271.6" r="4.3"/><circle cx="329.1" cy="167.8" r="4.3"/><circle cx="535.9" cy="230.3" r="4.3"/><circle cx="576" cy="237.7" r="4.3"/><circle cx="495.5" cy="164.7" r="4.3"/><circle cx="435.8" cy="164.7" r="4.3"/><circle cx="604.8" cy="251.9" r="4.3"/><circle cx="429.1" cy="201" r="4.3"/><circle cx="433.4" cy="145.9" r="4.3"/><circle cx="567.1" cy="260" r="4.3"/><circle cx="422.2" cy="158.5" r="4.3"/><circle cx="541.2" cy="251.4" r="4.3"/><circle cx="449" cy="187.3" r="4.3"/><circle cx="565.7" cy="263.9" r="4.3"/><circle cx="436.5" cy="162.3" r="4.3"/><circle cx="625.4" cy="245.5" r="4.3"/><circle cx="561.1" cy="196.3" r="4.3"/><circle cx="384.1" cy="148.2" r="4.3"/><circle cx="447.5" cy="171.5" r="4.3"/><circle cx="529.6" cy="217.6" r="4.3"/><circle cx="489.5" cy="207.3" r="4.3"/><circle cx="459.9" cy="162.3" r="4.3"/><circle cx="444.8" cy="134.6" r="4.3"/><circle cx="419.3" cy="143.6" r="4.3"/><circle cx="433.5" cy="217.3" r="4.3"/><circle cx="367.3" cy="130" r="4.3"/><circle cx="563.9" cy="186.8" r="4.3"/><circle cx="394.9" cy="143.3" r="4.3"/><circle cx="379.6" cy="197" r="4.3"/><circle cx="559.7" cy="203.3" r="4.3"/><circle cx="424.1" cy="159.5" r="4.3"/><circle cx="438.5" cy="149.5" r="4.3"/><circle cx="568.6" cy="235" r="4.3"/><circle cx="546.7" cy="260.7" r="4.3"/><circle cx="589.6" cy="240.3" r="4.3"/><circle cx="504.1" cy="251.3" r="4.3"/><circle cx="524.6" cy="207.2" r="4.3"/><circle cx="564.9" cy="217.8" r="4.3"/><circle cx="411.1" cy="221.9" r="4.3"/><circle cx="377.3" cy="145" r="4.3"/><circle cx="544.5" cy="220.7" r="4.3"/><circle cx="524.8" cy="231.1" r="4.3"/><circle cx="450.9" cy="248.5" r="4.3"/><circle cx="431.9" cy="145.5" r="4.3"/><circle cx="398.3" cy="169.9" r="4.3"/><circle cx="371.1" cy="140.7" r="4.3"/><circle cx="438.7" cy="149.7" r="4.3"/><circle cx="430.1" cy="191.5" r="4.3"/><circle cx="456" cy="235.6" r="4.3"/><circle cx="456.6" cy="150.3" r="4.3"/><circle cx="434.3" cy="201.7" r="4.3"/><circle cx="503.1" cy="175" r="4.3"/><circle cx="421.1" cy="139.4" r="4.3"/><circle cx="606.1" cy="245.5" r="4.3"/><circle cx="502.9" cy="180.3" r="4.3"/><circle cx="526.3" cy="178.2" r="4.3"/><circle cx="523.8" cy="259" r="4.3"/><circle cx="570.5" cy="208" r="4.3"/><circle cx="423.7" cy="239.2" r="4.3"/><circle cx="474.9" cy="198.4" r="4.3"/><circle cx="419.2" cy="159.2" r="4.3"/><circle cx="336.9" cy="129.1" r="4.3"/><circle cx="495.6" cy="206.5" r="4.3"/><circle cx="424.9" cy="173.5" r="4.3"/><circle cx="503.6" cy="189.4" r="4.3"/><circle cx="589.6" cy="245.4" r="4.3"/><circle cx="408.7" cy="162.2" r="4.3"/><circle cx="348.2" cy="146.4" r="4.3"/><circle cx="482" cy="195.9" r="4.3"/><circle cx="550.9" cy="251" r="4.3"/><circle cx="490.3" cy="163.9" r="4.3"/><circle cx="552.1" cy="241.9" r="4.3"/><circle cx="559.8" cy="197.9" r="4.3"/><circle cx="423" cy="195.2" r="4.3"/><circle cx="556" cy="244.2" r="4.3"/><circle cx="623.6" cy="260.9" r="4.3"/><circle cx="445.7" cy="190.6" r="4.3"/><circle cx="474.1" cy="213.4" r="4.3"/><circle cx="524.2" cy="216.8" r="4.3"/><circle cx="515.8" cy="238.5" r="4.3"/><circle cx="503.2" cy="236.4" r="4.3"/><circle cx="459.7" cy="155.9" r="4.3"/><circle cx="552.9" cy="262.2" r="4.3"/><circle cx="542.3" cy="186.6" r="4.3"/><circle cx="466.8" cy="255.8" r="4.3"/><circle cx="584.7" cy="244.1" r="4.3"/><circle cx="528.3" cy="188.3" r="4.3"/><circle cx="522.7" cy="280.3" r="4.3"/><circle cx="510.7" cy="181.8" r="4.3"/><circle cx="458.3" cy="141.5" r="4.3"/><circle cx="372.3" cy="177.7" r="4.3"/><circle cx="374.1" cy="149.7" r="4.3"/><circle cx="563.9" cy="240.9" r="4.3"/><circle cx="479" cy="210.8" r="4.3"/><circle cx="454" cy="218.9" r="4.3"/><circle cx="574.1" cy="211.9" r="4.3"/><circle cx="494.6" cy="218.7" r="4.3"/><circle cx="420.4" cy="139.2" r="4.3"/><circle cx="409.6" cy="172.2" r="4.3"/><circle cx="364.3" cy="146.2" r="4.3"/><circle cx="374.9" cy="138.7" r="4.3"/><circle cx="613.8" cy="269.3" r="4.3"/><circle cx="521" cy="190.7" r="4.3"/><circle cx="519.2" cy="269.6" r="4.3"/><circle cx="416.4" cy="161.9" r="4.3"/><circle cx="400.9" cy="185.4" r="4.3"/><circle cx="505" cy="184.8" r="4.3"/><circle cx="502.8" cy="199.7" r="4.3"/><circle cx="466.8" cy="181.8" r="4.3"/><circle cx="556" cy="199.4" r="4.3"/><circle cx="642.5" cy="207.5" r="4.3"/><circle cx="503.1" cy="214.4" r="4.3"/><circle cx="605.8" cy="265.9" r="4.3"/><circle cx="340.3" cy="148.7" r="4.3"/><circle cx="406.2" cy="170.4" r="4.3"/><circle cx="517.8" cy="202.9" r="4.3"/><circle cx="591.6" cy="239" r="4.3"/><circle cx="450.8" cy="145.9" r="4.3"/><circle cx="497.9" cy="217.5" r="4.3"/><circle cx="438.3" cy="162" r="4.3"/><circle cx="483.5" cy="169.1" r="4.3"/><circle cx="516.8" cy="250.2" r="4.3"/><circle cx="636.3" cy="252.1" r="4.3"/><circle cx="495.7" cy="158.9" r="4.3"/><circle cx="410.8" cy="154.2" r="4.3"/><circle cx="491.5" cy="180.8" r="4.3"/><circle cx="495.4" cy="269.1" r="4.3"/><circle cx="532" cy="209.1" r="4.3"/><circle cx="392.9" cy="131" r="4.3"/><circle cx="564.7" cy="256.5" r="4.3"/><circle cx="571.9" cy="225.1" r="4.3"/><circle cx="561.3" cy="198.7" r="4.3"/><circle cx="508.9" cy="254.9" r="4.3"/><circle cx="549.9" cy="205.9" r="4.3"/><circle cx="457.7" cy="173.3" r="4.3"/><circle cx="556.8" cy="204.8" r="4.3"/><circle cx="389" cy="161.8" r="4.3"/><circle cx="359.1" cy="139.6" r="4.3"/><circle cx="358.3" cy="142.6" r="4.3"/><circle cx="395.8" cy="165.6" r="4.3"/><circle cx="429.5" cy="140.6" r="4.3"/><circle cx="423.3" cy="141" r="4.3"/><circle cx="552" cy="228.9" r="4.3"/><circle cx="482.1" cy="187.9" r="4.3"/><circle cx="397.8" cy="155.2" r="4.3"/><circle cx="515.5" cy="245.9" r="4.3"/><circle cx="439.8" cy="193.6" r="4.3"/><circle cx="630.1" cy="243.5" r="4.3"/><circle cx="542.2" cy="258.6" r="4.3"/><circle cx="361.6" cy="138.6" r="4.3"/><circle cx="588.6" cy="250" r="4.3"/><circle cx="534.8" cy="249" r="4.3"/><circle cx="502.8" cy="278.7" r="4.3"/><circle cx="557.1" cy="230.5" r="4.3"/><circle cx="493" cy="229.8" r="4.3"/><circle cx="450.4" cy="247.7" r="4.3"/><circle cx="432.6" cy="214.6" r="4.3"/><circle cx="533.7" cy="246.8" r="4.3"/><circle cx="561.4" cy="246.4" r="4.3"/><circle cx="391.4" cy="157.5" r="4.3"/><circle cx="518.5" cy="190" r="4.3"/><circle cx="483.9" cy="202.3" r="4.3"/><circle cx="534.2" cy="216.3" r="4.3"/><circle cx="423.3" cy="150.3" r="4.3"/><circle cx="413.6" cy="187.8" r="4.3"/><circle cx="423.4" cy="204.4" r="4.3"/><circle cx="494.2" cy="213.2" r="4.3"/><circle cx="523.1" cy="241.4" r="4.3"/><circle cx="340.4" cy="131" r="4.3"/><circle cx="354.3" cy="138.4" r="4.3"/><circle cx="587.5" cy="266.7" r="4.3"/><circle cx="387.5" cy="167.4" r="4.3"/><circle cx="596.7" cy="246.6" r="4.3"/><circle cx="443.3" cy="137.3" r="4.3"/><circle cx="502.3" cy="222.9" r="4.3"/><circle cx="342.5" cy="120.1" r="4.3"/><circle cx="430.1" cy="164.5" r="4.3"/><circle cx="385.8" cy="197.9" r="4.3"/><circle cx="519.5" cy="258.5" r="4.3"/><circle cx="478" cy="189.6" r="4.3"/><circle cx="528.6" cy="288" r="4.3"/><circle cx="561.4" cy="252.3" r="4.3"/><circle cx="446.4" cy="164.9" r="4.3"/><circle cx="487.9" cy="192.1" r="4.3"/><circle cx="437.7" cy="226.5" r="4.3"/><circle cx="525.6" cy="281.1" r="4.3"/><circle cx="597.6" cy="247.2" r="4.3"/><circle cx="596.6" cy="250.5" r="4.3"/><circle cx="392.2" cy="152.5" r="4.3"/><circle cx="413" cy="152.3" r="4.3"/><circle cx="460.8" cy="150.5" r="4.3"/><circle cx="519.5" cy="219.5" r="4.3"/><circle cx="487.3" cy="274.6" r="4.3"/><circle cx="520.4" cy="174" r="4.3"/><circle cx="402.7" cy="187.5" r="4.3"/><circle cx="475.5" cy="174.1" r="4.3"/><circle cx="383.3" cy="148.8" r="4.3"/><circle cx="450.2" cy="165.4" r="4.3"/><circle cx="465.6" cy="194.8" r="4.3"/><circle cx="498.8" cy="163.3" r="4.3"/><circle cx="373.4" cy="203.3" r="4.3"/><circle cx="552.9" cy="311.4" r="4.3"/><circle cx="564.3" cy="212.8" r="4.3"/><circle cx="612.5" cy="282.5" r="4.3"/><circle cx="523" cy="241.6" r="4.3"/><circle cx="377.1" cy="127.9" r="4.3"/><circle cx="511.7" cy="245.8" r="4.3"/><circle cx="547.8" cy="229.9" r="4.3"/><circle cx="475.7" cy="215" r="4.3"/><circle cx="479.4" cy="233.9" r="4.3"/><circle cx="491.3" cy="202.8" r="4.3"/><circle cx="582.5" cy="213.4" r="4.3"/><circle cx="550" cy="249.7" r="4.3"/><circle cx="447.6" cy="188.7" r="4.3"/><circle cx="422.9" cy="138.7" r="4.3"/><circle cx="457.2" cy="191.7" r="4.3"/><circle cx="459.1" cy="184.3" r="4.3"/><circle cx="528" cy="219.6" r="4.3"/><circle cx="496.5" cy="168.7" r="4.3"/><circle cx="582.9" cy="252.3" r="4.3"/><circle cx="601" cy="225.2" r="4.3"/><circle cx="509.4" cy="230.4" r="4.3"/><circle cx="370.9" cy="166.1" r="4.3"/><circle cx="576.3" cy="240.9" r="4.3"/><circle cx="363.9" cy="153.4" r="4.3"/><circle cx="516.2" cy="308.6" r="4.3"/><circle cx="474.3" cy="210.8" r="4.3"/><circle cx="419.1" cy="132.1" r="4.3"/><circle cx="586.6" cy="214.6" r="4.3"/><circle cx="595.4" cy="262.1" r="4.3"/><circle cx="570" cy="258" r="4.3"/><circle cx="432.2" cy="197.6" r="4.3"/><circle cx="533" cy="220.8" r="4.3"/><circle cx="423.7" cy="235.2" r="4.3"/><circle cx="578.1" cy="297.7" r="4.3"/><circle cx="574.1" cy="209.7" r="4.3"/><circle cx="533.5" cy="198.6" r="4.3"/><circle cx="415.5" cy="228.7" r="4.3"/><circle cx="428.9" cy="172.9" r="4.3"/><circle cx="496.6" cy="236" r="4.3"/><circle cx="593.5" cy="246" r="4.3"/><circle cx="515.8" cy="179.6" r="4.3"/><circle cx="388.9" cy="203.9" r="4.3"/><circle cx="454.9" cy="169.5" r="4.3"/><circle cx="436.4" cy="209.2" r="4.3"/><circle cx="394.7" cy="148.7" r="4.3"/><circle cx="496.2" cy="194" r="4.3"/><circle cx="597" cy="266.4" r="4.3"/><circle cx="447.5" cy="180.5" r="4.3"/><circle cx="378" cy="122.2" r="4.3"/><circle cx="564.4" cy="225.3" r="4.3"/><circle cx="523.8" cy="266.9" r="4.3"/><circle cx="486.2" cy="175.8" r="4.3"/><circle cx="457.4" cy="184.8" r="4.3"/><circle cx="598.1" cy="239" r="4.3"/><circle cx="542.5" cy="221.8" r="4.3"/><circle cx="458.7" cy="146.7" r="4.3"/><circle cx="419.2" cy="190.6" r="4.3"/><circle cx="347.6" cy="135.5" r="4.3"/><circle cx="445.9" cy="242.2" r="4.3"/><circle cx="559" cy="258.4" r="4.3"/><circle cx="373.7" cy="128.4" r="4.3"/><circle cx="452.8" cy="190.4" r="4.3"/><circle cx="527.7" cy="262.2" r="4.3"/><circle cx="411" cy="210.6" r="4.3"/><circle cx="596.6" cy="251.2" r="4.3"/><circle cx="564.6" cy="194.9" r="4.3"/><circle cx="563" cy="280.9" r="4.3"/><circle cx="552.8" cy="200.8" r="4.3"/><circle cx="516.1" cy="196.2" r="4.3"/><circle cx="378.3" cy="123.9" r="4.3"/><circle cx="471.8" cy="145.4" r="4.3"/><circle cx="525.4" cy="275" r="4.3"/><circle cx="371.4" cy="155.7" r="4.3"/><circle cx="404.8" cy="182.3" r="4.3"/><circle cx="530.8" cy="212" r="4.3"/><circle cx="421.8" cy="171.1" r="4.3"/><circle cx="428.2" cy="207.4" r="4.3"/><circle cx="435" cy="162.1" r="4.3"/><circle cx="539.6" cy="272.7" r="4.3"/><circle cx="520.6" cy="223.3" r="4.3"/><circle cx="436.6" cy="265.6" r="4.3"/><circle cx="417.1" cy="227.2" r="4.3"/><circle cx="441" cy="142.6" r="4.3"/><circle cx="432.2" cy="165.8" r="4.3"/><circle cx="370.3" cy="131.5" r="4.3"/><circle cx="524" cy="176.7" r="4.3"/><circle cx="548.2" cy="244" r="4.3"/><circle cx="562.4" cy="241" r="4.3"/><circle cx="577.6" cy="232.4" r="4.3"/><circle cx="459.9" cy="186.4" r="4.3"/><circle cx="458.7" cy="195.9" r="4.3"/><circle cx="508.3" cy="265.4" r="4.3"/><circle cx="413.8" cy="185.6" r="4.3"/><circle cx="440.9" cy="194.8" r="4.3"/><circle cx="570.7" cy="262.5" r="4.3"/><circle cx="555.2" cy="272.7" r="4.3"/><circle cx="426.4" cy="172.5" r="4.3"/><circle cx="384.3" cy="146.4" r="4.3"/><circle cx="547.3" cy="241.3" r="4.3"/><circle cx="536.4" cy="251.8" r="4.3"/><circle cx="577.6" cy="209.4" r="4.3"/><circle cx="499.6" cy="281.8" r="4.3"/><circle cx="511.4" cy="198.8" r="4.3"/><circle cx="430.9" cy="138.6" r="4.3"/><circle cx="467.6" cy="155" r="4.3"/><circle cx="526" cy="306.9" r="4.3"/><circle cx="476.8" cy="185.6" r="4.3"/><circle cx="466.4" cy="168.3" r="4.3"/><circle cx="542.6" cy="300.7" r="4.3"/><circle cx="352.3" cy="128" r="4.3"/><circle cx="465.7" cy="226.9" r="4.3"/><circle cx="412.5" cy="187.5" r="4.3"/><circle cx="446.8" cy="170.7" r="4.3"/><circle cx="551.7" cy="266.8" r="4.3"/><circle cx="514.5" cy="227.4" r="4.3"/><circle cx="479.6" cy="246.1" r="4.3"/><circle cx="472.2" cy="193.1" r="4.3"/><circle cx="468.6" cy="228" r="4.3"/><circle cx="341.4" cy="145.9" r="4.3"/><circle cx="596.7" cy="291.8" r="4.3"/><circle cx="352.7" cy="144.8" r="4.3"/><circle cx="533.2" cy="188.4" r="4.3"/><circle cx="521.3" cy="211" r="4.3"/><circle cx="488.4" cy="163.5" r="4.3"/><circle cx="569.1" cy="261.7" r="4.3"/><circle cx="556.2" cy="253.2" r="4.3"/><circle cx="590.4" cy="214.9" r="4.3"/><circle cx="444.3" cy="242.4" r="4.3"/><circle cx="553.1" cy="191.6" r="4.3"/><circle cx="380.1" cy="199.9" r="4.3"/><circle cx="602.1" cy="269.8" r="4.3"/><circle cx="440.1" cy="178.1" r="4.3"/><circle cx="405.5" cy="143.4" r="4.3"/><circle cx="577.8" cy="255.1" r="4.3"/><circle cx="514.9" cy="188.7" r="4.3"/><circle cx="516.7" cy="226.1" r="4.3"/><circle cx="377.1" cy="130.6" r="4.3"/><circle cx="500.7" cy="176.4" r="4.3"/><circle cx="569.1" cy="288.3" r="4.3"/><circle cx="374.6" cy="146.4" r="4.3"/><circle cx="450.6" cy="209.3" r="4.3"/><circle cx="462.9" cy="158.4" r="4.3"/><circle cx="565.7" cy="210" r="4.3"/><circle cx="402.2" cy="160.4" r="4.3"/><circle cx="356.6" cy="222.9" r="4.3"/><circle cx="547.7" cy="213.1" r="4.3"/><circle cx="607" cy="233.9" r="4.3"/><circle cx="488.1" cy="257.8" r="4.3"/><circle cx="477" cy="217" r="4.3"/><circle cx="455.3" cy="236.6" r="4.3"/><circle cx="357.2" cy="131.3" r="4.3"/><circle cx="416.6" cy="136.4" r="4.3"/><circle cx="539.3" cy="268.9" r="4.3"/><circle cx="494.9" cy="201" r="4.3"/><circle cx="534.4" cy="182.1" r="4.3"/><circle cx="382.5" cy="149.4" r="4.3"/><circle cx="542.7" cy="236.2" r="4.3"/><circle cx="477.7" cy="194.7" r="4.3"/><circle cx="528.9" cy="183.1" r="4.3"/><circle cx="341.4" cy="163.9" r="4.3"/><circle cx="531.9" cy="210.9" r="4.3"/><circle cx="459.9" cy="160.9" r="4.3"/><circle cx="577.5" cy="243.8" r="4.3"/><circle cx="446.8" cy="152.4" r="4.3"/><circle cx="402.3" cy="142.5" r="4.3"/><circle cx="431.7" cy="201.8" r="4.3"/><circle cx="568.3" cy="261.2" r="4.3"/><circle cx="544.8" cy="248.6" r="4.3"/><circle cx="517.4" cy="244.3" r="4.3"/><circle cx="495.6" cy="251" r="4.3"/><circle cx="564.7" cy="186.2" r="4.3"/><circle cx="414.9" cy="156.2" r="4.3"/><circle cx="538.8" cy="251.5" r="4.3"/><circle cx="402" cy="164.8" r="4.3"/><circle cx="508.1" cy="215.7" r="4.3"/><circle cx="530.9" cy="255.2" r="4.3"/><circle cx="414.4" cy="151" r="4.3"/><circle cx="530.7" cy="176.2" r="4.3"/><circle cx="464.4" cy="189.1" r="4.3"/><circle cx="554" cy="234.1" r="4.3"/><circle cx="495.1" cy="237.2" r="4.3"/><circle cx="487.1" cy="184.3" r="4.3"/><circle cx="480.7" cy="169.5" r="4.3"/><circle cx="422.6" cy="167.6" r="4.3"/><circle cx="630" cy="271" r="4.3"/><circle cx="356.4" cy="140.4" r="4.3"/><circle cx="507.5" cy="192.1" r="4.3"/><circle cx="444.7" cy="174.3" r="4.3"/><circle cx="578.4" cy="210.8" r="4.3"/><circle cx="518.2" cy="213.6" r="4.3"/><circle cx="569.4" cy="191.4" r="4.3"/><circle cx="509.5" cy="193.1" r="4.3"/><circle cx="371.4" cy="148.8" r="4.3"/><circle cx="496.4" cy="234.5" r="4.3"/><circle cx="453" cy="182.4" r="4.3"/><circle cx="585.2" cy="274.2" r="4.3"/><circle cx="418.5" cy="195.4" r="4.3"/><circle cx="518.5" cy="211.1" r="4.3"/><circle cx="424.5" cy="156" r="4.3"/><circle cx="553.9" cy="297.7" r="4.3"/><circle cx="405.5" cy="200.6" r="4.3"/><circle cx="496.3" cy="218.6" r="4.3"/><circle cx="439.9" cy="134.1" r="4.3"/><circle cx="462.6" cy="189.4" r="4.3"/><circle cx="451.4" cy="174.9" r="4.3"/><circle cx="506.7" cy="226.4" r="4.3"/><circle cx="490.1" cy="173.5" r="4.3"/><circle cx="509.4" cy="184.9" r="4.3"/><circle cx="534.4" cy="171.8" r="4.3"/><circle cx="446.5" cy="204.5" r="4.3"/><circle cx="475.2" cy="199.2" r="4.3"/><circle cx="422.8" cy="198.8" r="4.3"/><circle cx="452.3" cy="193.2" r="4.3"/><circle cx="567.6" cy="262.5" r="4.3"/><circle cx="535.4" cy="318.2" r="4.3"/><circle cx="495.2" cy="199.2" r="4.3"/><circle cx="480.7" cy="162.5" r="4.3"/><circle cx="632.9" cy="196.8" r="4.3"/><circle cx="550.9" cy="256.2" r="4.3"/><circle cx="590.5" cy="257.9" r="4.3"/><circle cx="496.8" cy="203.4" r="4.3"/><circle cx="524.8" cy="221.4" r="4.3"/><circle cx="369.7" cy="147.2" r="4.3"/><circle cx="520.1" cy="231" r="4.3"/><circle cx="437.3" cy="188.9" r="4.3"/><circle cx="543.2" cy="217.5" r="4.3"/><circle cx="618.3" cy="244.9" r="4.3"/><circle cx="428.9" cy="176.6" r="4.3"/><circle cx="470.2" cy="158.6" r="4.3"/><circle cx="534.1" cy="210.8" r="4.3"/><circle cx="517.1" cy="223.5" r="4.3"/><circle cx="344.7" cy="134.6" r="4.3"/><circle cx="511.8" cy="212.1" r="4.3"/><circle cx="460.5" cy="244.2" r="4.3"/><circle cx="449.5" cy="179" r="4.3"/><circle cx="554.6" cy="237.4" r="4.3"/><circle cx="437.1" cy="176.9" r="4.3"/><circle cx="483" cy="196.7" r="4.3"/><circle cx="479.1" cy="225.6" r="4.3"/><circle cx="437.4" cy="165.3" r="4.3"/><circle cx="581.6" cy="205.1" r="4.3"/><circle cx="498" cy="224.8" r="4.3"/><circle cx="539.6" cy="198.5" r="4.3"/><circle cx="634.8" cy="314" r="4.3"/><circle cx="455" cy="141.4" r="4.3"/><circle cx="493.3" cy="217.9" r="4.3"/><circle cx="479.9" cy="212.9" r="4.3"/><circle cx="583.2" cy="232.8" r="4.3"/><circle cx="530.3" cy="238.8" r="4.3"/><circle cx="552.2" cy="184.4" r="4.3"/><circle cx="371" cy="153.8" r="4.3"/><circle cx="512.3" cy="211.1" r="4.3"/><circle cx="471.4" cy="163.7" r="4.3"/><circle cx="482.8" cy="174.1" r="4.3"/><circle cx="509.9" cy="168.7" r="4.3"/><circle cx="389.2" cy="192.9" r="4.3"/><circle cx="439.2" cy="152" r="4.3"/><circle cx="433.7" cy="143.3" r="4.3"/><circle cx="484.4" cy="161" r="4.3"/><circle cx="532.4" cy="210.3" r="4.3"/><circle cx="560.7" cy="197.9" r="4.3"/><circle cx="457.2" cy="195.3" r="4.3"/><circle cx="566.6" cy="251.1" r="4.3"/><circle cx="482.7" cy="178.8" r="4.3"/><circle cx="496.4" cy="226.5" r="4.3"/><circle cx="533.6" cy="191.2" r="4.3"/><circle cx="481.3" cy="196.9" r="4.3"/><circle cx="486.6" cy="190.8" r="4.3"/><circle cx="431.2" cy="234.2" r="4.3"/><circle cx="464.1" cy="251.4" r="4.3"/><circle cx="601.6" cy="299.2" r="4.3"/><circle cx="411.5" cy="168" r="4.3"/><circle cx="508.1" cy="168.2" r="4.3"/><circle cx="440.8" cy="191.8" r="4.3"/><circle cx="491.1" cy="185.2" r="4.3"/><circle cx="476.6" cy="164.5" r="4.3"/><circle cx="546.9" cy="275.9" r="4.3"/><circle cx="534.4" cy="246.7" r="4.3"/><circle cx="589.8" cy="225.6" r="4.3"/><circle cx="603.2" cy="266" r="4.3"/><circle cx="416.3" cy="211.9" r="4.3"/><circle cx="537.7" cy="280.6" r="4.3"/><circle cx="534.7" cy="243.5" r="4.3"/><circle cx="425.3" cy="178" r="4.3"/><circle cx="423.1" cy="138.9" r="4.3"/><circle cx="570.6" cy="225.3" r="4.3"/><circle cx="490.2" cy="208.4" r="4.3"/><circle cx="535.7" cy="203" r="4.3"/><circle cx="364.8" cy="134.9" r="4.3"/><circle cx="513.9" cy="236.2" r="4.3"/><circle cx="585.4" cy="238.8" r="4.3"/><circle cx="391.1" cy="149.8" r="4.3"/><circle cx="381.7" cy="122.5" r="4.3"/><circle cx="582.9" cy="225.9" r="4.3"/><circle cx="360.9" cy="132.9" r="4.3"/><circle cx="450.1" cy="146.9" r="4.3"/><circle cx="554.9" cy="259.7" r="4.3"/><circle cx="415.3" cy="145.6" r="4.3"/><circle cx="462.5" cy="218.5" r="4.3"/><circle cx="577.1" cy="203.7" r="4.3"/><circle cx="412.9" cy="142" r="4.3"/><circle cx="586.4" cy="300.2" r="4.3"/><circle cx="425.5" cy="193.1" r="4.3"/><circle cx="610.3" cy="251.9" r="4.3"/><circle cx="423.9" cy="183.9" r="4.3"/><circle cx="421.9" cy="213.6" r="4.3"/><circle cx="507.1" cy="207.5" r="4.3"/><circle cx="540.7" cy="259.7" r="4.3"/><circle cx="577.3" cy="251.3" r="4.3"/><circle cx="543.6" cy="215.5" r="4.3"/><circle cx="498.4" cy="173.3" r="4.3"/><circle cx="567.2" cy="251" r="4.3"/><circle cx="504.5" cy="202.4" r="4.3"/><circle cx="363.3" cy="141.5" r="4.3"/><circle cx="502.5" cy="217.2" r="4.3"/><circle cx="422.2" cy="169.8" r="4.3"/><circle cx="366.1" cy="133.5" r="4.3"/><circle cx="544.5" cy="212.5" r="4.3"/><circle cx="485.8" cy="206" r="4.3"/><circle cx="423.7" cy="214.1" r="4.3"/><circle cx="390.9" cy="232" r="4.3"/><circle cx="487.5" cy="155" r="4.3"/><circle cx="575" cy="249.6" r="4.3"/><circle cx="430.1" cy="170.7" r="4.3"/><circle cx="427.8" cy="151.8" r="4.3"/><circle cx="570.2" cy="249.8" r="4.3"/><circle cx="427.2" cy="215.8" r="4.3"/><circle cx="502.3" cy="209.6" r="4.3"/><circle cx="500.3" cy="172" r="4.3"/><circle cx="415.7" cy="228" r="4.3"/><circle cx="444" cy="143.4" r="4.3"/><circle cx="448.1" cy="168.1" r="4.3"/><circle cx="542.2" cy="195.6" r="4.3"/><circle cx="495.4" cy="172.9" r="4.3"/><circle cx="595.9" cy="270.9" r="4.3"/><circle cx="503.4" cy="206.6" r="4.3"/><circle cx="421.4" cy="215.1" r="4.3"/><circle cx="533.6" cy="204.3" r="4.3"/><circle cx="447" cy="251.1" r="4.3"/><circle cx="470.7" cy="199.5" r="4.3"/><circle cx="478.4" cy="170.3" r="4.3"/><circle cx="583.5" cy="259.5" r="4.3"/><circle cx="413.4" cy="207.4" r="4.3"/><circle cx="387.5" cy="154.2" r="4.3"/><circle cx="410.1" cy="164.6" r="4.3"/><circle cx="443.4" cy="161.1" r="4.3"/><circle cx="403.2" cy="152.6" r="4.3"/><circle cx="485.9" cy="159" r="4.3"/><circle cx="558.5" cy="273.2" r="4.3"/><circle cx="467.3" cy="218.3" r="4.3"/><circle cx="574.5" cy="234.4" r="4.3"/><circle cx="486.6" cy="200" r="4.3"/><circle cx="573.4" cy="242.1" r="4.3"/><circle cx="516.1" cy="203.3" r="4.3"/><circle cx="423.9" cy="211.6" r="4.3"/><circle cx="535.3" cy="289.7" r="4.3"/><circle cx="617.9" cy="238.9" r="4.3"/><circle cx="648.5" cy="240.5" r="4.3"/><circle cx="370.7" cy="155.7" r="4.3"/><circle cx="442.8" cy="191.4" r="4.3"/><circle cx="423" cy="136.3" r="4.3"/><circle cx="365.7" cy="139.6" r="4.3"/><circle cx="381.1" cy="145.7" r="4.3"/><circle cx="551.7" cy="259.5" r="4.3"/><circle cx="408.2" cy="257.6" r="4.3"/><circle cx="446.1" cy="157.8" r="4.3"/><circle cx="603.3" cy="293.8" r="4.3"/><circle cx="459.1" cy="220.7" r="4.3"/><circle cx="662" cy="267.8" r="4.3"/><circle cx="549.7" cy="207" r="4.3"/><circle cx="430.5" cy="263.3" r="4.3"/><circle cx="450.3" cy="180.8" r="4.3"/><circle cx="521.5" cy="225.3" r="4.3"/><circle cx="599.5" cy="242.5" r="4.3"/><circle cx="468.7" cy="220.3" r="4.3"/><circle cx="411.8" cy="234.3" r="4.3"/><circle cx="496" cy="199" r="4.3"/><circle cx="320.5" cy="117.7" r="4.3"/><circle cx="368.6" cy="139.4" r="4.3"/><circle cx="422.8" cy="192.1" r="4.3"/><circle cx="562.8" cy="231.8" r="4.3"/><circle cx="602.6" cy="241.5" r="4.3"/><circle cx="338.2" cy="127.7" r="4.3"/><circle cx="551.6" cy="249.8" r="4.3"/><circle cx="474.1" cy="239.3" r="4.3"/><circle cx="490.5" cy="165.3" r="4.3"/><circle cx="532.5" cy="190" r="4.3"/><circle cx="495" cy="165.3" r="4.3"/><circle cx="548.9" cy="265.4" r="4.3"/><circle cx="543.9" cy="242.3" r="4.3"/><circle cx="491.1" cy="259.4" r="4.3"/><circle cx="474.1" cy="194.1" r="4.3"/><circle cx="416.7" cy="203.5" r="4.3"/><circle cx="487.9" cy="161.2" r="4.3"/><circle cx="509.1" cy="240.3" r="4.3"/><circle cx="427.5" cy="219.8" r="4.3"/><circle cx="516.5" cy="190.9" r="4.3"/><circle cx="498.5" cy="169" r="4.3"/><circle cx="451.8" cy="142.8" r="4.3"/><circle cx="522" cy="225.7" r="4.3"/><circle cx="485.1" cy="182.5" r="4.3"/><circle cx="494.7" cy="283.8" r="4.3"/><circle cx="481.6" cy="274.1" r="4.3"/><circle cx="531" cy="228.9" r="4.3"/><circle cx="376.9" cy="122.7" r="4.3"/><circle cx="614.2" cy="239" r="4.3"/><circle cx="608.7" cy="233.3" r="4.3"/><circle cx="515.1" cy="173.8" r="4.3"/><circle cx="452.8" cy="196.6" r="4.3"/><circle cx="415.6" cy="150.1" r="4.3"/><circle cx="322.3" cy="173.5" r="4.3"/><circle cx="350.1" cy="200.3" r="4.3"/><circle cx="386.7" cy="130.9" r="4.3"/><circle cx="472.8" cy="201.7" r="4.3"/><circle cx="599" cy="228.4" r="4.3"/><circle cx="463" cy="181.5" r="4.3"/><circle cx="577.3" cy="215.9" r="4.3"/><circle cx="567.3" cy="208.3" r="4.3"/><circle cx="430.9" cy="168.6" r="4.3"/><circle cx="590.5" cy="251.1" r="4.3"/><circle cx="429.4" cy="144.3" r="4.3"/><circle cx="515.8" cy="211" r="4.3"/><circle cx="570.2" cy="260.7" r="4.3"/><circle cx="438.6" cy="224.8" r="4.3"/><circle cx="575.7" cy="256.3" r="4.3"/><circle cx="465.6" cy="139.4" r="4.3"/><circle cx="511.9" cy="243" r="4.3"/><circle cx="549.9" cy="255.2" r="4.3"/><circle cx="562.9" cy="240.3" r="4.3"/><circle cx="367.4" cy="200.3" r="4.3"/><circle cx="373.5" cy="129" r="4.3"/><circle cx="461.5" cy="241" r="4.3"/><circle cx="385.9" cy="184.4" r="4.3"/><circle cx="485.6" cy="235" r="4.3"/><circle cx="431.2" cy="136.5" r="4.3"/><circle cx="564.2" cy="232.4" r="4.3"/><circle cx="579.8" cy="205.4" r="4.3"/><circle cx="537.7" cy="213.7" r="4.3"/><circle cx="412" cy="164.3" r="4.3"/><circle cx="443.3" cy="157.6" r="4.3"/><circle cx="489.9" cy="223.8" r="4.3"/><circle cx="456.9" cy="221.6" r="4.3"/><circle cx="502.3" cy="214.4" r="4.3"/><circle cx="580.1" cy="197.8" r="4.3"/><circle cx="462.2" cy="158.9" r="4.3"/><circle cx="465.5" cy="170.9" r="4.3"/><circle cx="577.4" cy="223.3" r="4.3"/><circle cx="503" cy="230.8" r="4.3"/><circle cx="430" cy="199.5" r="4.3"/><circle cx="604.2" cy="242.6" r="4.3"/><circle cx="593.6" cy="228.6" r="4.3"/><circle cx="448.1" cy="136.3" r="4.3"/><circle cx="559.1" cy="206.3" r="4.3"/><circle cx="420.5" cy="214.6" r="4.3"/><circle cx="526.6" cy="184.5" r="4.3"/><circle cx="501.4" cy="234.6" r="4.3"/><circle cx="409.2" cy="191.6" r="4.3"/><circle cx="550.1" cy="241.6" r="4.3"/><circle cx="496.1" cy="188.4" r="4.3"/><circle cx="521.6" cy="211.4" r="4.3"/><circle cx="441.7" cy="168.4" r="4.3"/><circle cx="479.2" cy="228.2" r="4.3"/><circle cx="509.4" cy="238.1" r="4.3"/><circle cx="546.3" cy="223.3" r="4.3"/><circle cx="514.8" cy="236.4" r="4.3"/><circle cx="343.8" cy="176.8" r="4.3"/><circle cx="504.5" cy="193.8" r="4.3"/><circle cx="450.7" cy="134.9" r="4.3"/><circle cx="503" cy="210.3" r="4.3"/><circle cx="598.1" cy="243.2" r="4.3"/><circle cx="346.4" cy="140.2" r="4.3"/><circle cx="470.1" cy="158.9" r="4.3"/><circle cx="497.4" cy="161.3" r="4.3"/><circle cx="514.2" cy="245.2" r="4.3"/><circle cx="525.3" cy="294.2" r="4.3"/><circle cx="385.6" cy="166.6" r="4.3"/><circle cx="466.6" cy="158.8" r="4.3"/><circle cx="482.4" cy="196.7" r="4.3"/><circle cx="499.4" cy="232.5" r="4.3"/><circle cx="410.8" cy="148.9" r="4.3"/><circle cx="535.4" cy="240.8" r="4.3"/><circle cx="534.3" cy="244.2" r="4.3"/><circle cx="559.1" cy="263.5" r="4.3"/><circle cx="518.7" cy="186.3" r="4.3"/><circle cx="386.3" cy="160.8" r="4.3"/><circle cx="500.6" cy="195" r="4.3"/><circle cx="539.8" cy="237.7" r="4.3"/><circle cx="566.8" cy="213.3" r="4.3"/><circle cx="546.3" cy="179.8" r="4.3"/><circle cx="603" cy="220.7" r="4.3"/><circle cx="490.6" cy="196.1" r="4.3"/><circle cx="540.4" cy="252.3" r="4.3"/><circle cx="555.4" cy="214.3" r="4.3"/><circle cx="451.3" cy="210.4" r="4.3"/><circle cx="544.4" cy="207.6" r="4.3"/><circle cx="479" cy="149.9" r="4.3"/><circle cx="533.8" cy="187.2" r="4.3"/><circle cx="555" cy="223.4" r="4.3"/><circle cx="545.1" cy="246.6" r="4.3"/><circle cx="429.4" cy="153" r="4.3"/><circle cx="602.1" cy="222.6" r="4.3"/><circle cx="491.2" cy="158" r="4.3"/><circle cx="445.7" cy="224" r="4.3"/><circle cx="453.8" cy="186.8" r="4.3"/><circle cx="573.5" cy="253.1" r="4.3"/><circle cx="504.1" cy="207.4" r="4.3"/><circle cx="529.8" cy="221.5" r="4.3"/><circle cx="526.3" cy="236.4" r="4.3"/><circle cx="531.1" cy="203.3" r="4.3"/><circle cx="396.8" cy="176.2" r="4.3"/><circle cx="514.7" cy="230.3" r="4.3"/><circle cx="540.1" cy="285" r="4.3"/><circle cx="410.7" cy="154.9" r="4.3"/><circle cx="548.7" cy="220.7" r="4.3"/><circle cx="327.2" cy="126.1" r="4.3"/><circle cx="427.5" cy="191.9" r="4.3"/><circle cx="493.3" cy="158.4" r="4.3"/><circle cx="488.9" cy="198.4" r="4.3"/><circle cx="416.2" cy="146.3" r="4.3"/><circle cx="423.3" cy="198.9" r="4.3"/><circle cx="508.4" cy="207.2" r="4.3"/><circle cx="398.2" cy="146.5" r="4.3"/><circle cx="590.7" cy="273" r="4.3"/><circle cx="567.7" cy="234" r="4.3"/><circle cx="379.4" cy="135.2" r="4.3"/><circle cx="527.2" cy="183.3" r="4.3"/><circle cx="458.7" cy="191.6" r="4.3"/><circle cx="612.8" cy="243.1" r="4.3"/><circle cx="593.8" cy="234.3" r="4.3"/><circle cx="645.7" cy="264.4" r="4.3"/><circle cx="535.8" cy="230" r="4.3"/><circle cx="396.4" cy="159.8" r="4.3"/><circle cx="366.6" cy="171.9" r="4.3"/><circle cx="485.3" cy="201.2" r="4.3"/><circle cx="422.2" cy="161.8" r="4.3"/><circle cx="482.8" cy="213.2" r="4.3"/><circle cx="576.3" cy="244.1" r="4.3"/><circle cx="479.1" cy="173.5" r="4.3"/><circle cx="468.1" cy="167.8" r="4.3"/><circle cx="540" cy="206.7" r="4.3"/><circle cx="584.1" cy="293.2" r="4.3"/><circle cx="360.7" cy="127.5" r="4.3"/><circle cx="449.3" cy="165.2" r="4.3"/><circle cx="488.5" cy="189.4" r="4.3"/><circle cx="346.7" cy="93.3" r="4.3"/><circle cx="462.2" cy="201.5" r="4.3"/><circle cx="517.4" cy="188" r="4.3"/><circle cx="482.1" cy="220.1" r="4.3"/><circle cx="593.1" cy="303.7" r="4.3"/><circle cx="546.7" cy="295.7" r="4.3"/><circle cx="563.9" cy="249.4" r="4.3"/><circle cx="374.6" cy="152.9" r="4.3"/><circle cx="408.7" cy="163.8" r="4.3"/><circle cx="472.6" cy="168.1" r="4.3"/><circle cx="588" cy="234.4" r="4.3"/><circle cx="573.6" cy="319.7" r="4.3"/><circle cx="451.1" cy="196.5" r="4.3"/><circle cx="463" cy="200.3" r="4.3"/><circle cx="400.9" cy="156.8" r="4.3"/><circle cx="420.3" cy="195.4" r="4.3"/><circle cx="493.8" cy="240.2" r="4.3"/><circle cx="605.2" cy="255.6" r="4.3"/><circle cx="587.4" cy="265.4" r="4.3"/><circle cx="339.4" cy="134.5" r="4.3"/><circle cx="466.7" cy="161" r="4.3"/><circle cx="503.2" cy="232.8" r="4.3"/><circle cx="439.8" cy="161" r="4.3"/><circle cx="433.8" cy="187.6" r="4.3"/><circle cx="340.6" cy="127.5" r="4.3"/><circle cx="626.5" cy="289.4" r="4.3"/><circle cx="470.6" cy="198.6" r="4.3"/><circle cx="477.1" cy="201.1" r="4.3"/><circle cx="425.6" cy="179.4" r="4.3"/><circle cx="488" cy="163" r="4.3"/><circle cx="443.7" cy="130.7" r="4.3"/><circle cx="540.6" cy="216" r="4.3"/><circle cx="563.9" cy="229.5" r="4.3"/><circle cx="492.5" cy="183.9" r="4.3"/><circle cx="519.9" cy="246.6" r="4.3"/><circle cx="390.5" cy="128.5" r="4.3"/><circle cx="536" cy="245.6" r="4.3"/><circle cx="553.8" cy="260" r="4.3"/><circle cx="588.8" cy="218.2" r="4.3"/><circle cx="346.3" cy="91.6" r="4.3"/><circle cx="395.4" cy="158.7" r="4.3"/><circle cx="413.1" cy="142.5" r="4.3"/><circle cx="588" cy="208.3" r="4.3"/><circle cx="611" cy="227.2" r="4.3"/><circle cx="529.8" cy="213" r="4.3"/><circle cx="518.1" cy="231.8" r="4.3"/><circle cx="437.9" cy="141.1" r="4.3"/><circle cx="429.6" cy="150.6" r="4.3"/><circle cx="491.7" cy="232.2" r="4.3"/><circle cx="520.8" cy="160.3" r="4.3"/><circle cx="362.1" cy="164" r="4.3"/><circle cx="498.2" cy="170.7" r="4.3"/><circle cx="435.8" cy="179.3" r="4.3"/><circle cx="527.6" cy="197.5" r="4.3"/><circle cx="555.6" cy="247.5" r="4.3"/><circle cx="601.1" cy="252.2" r="4.3"/><circle cx="537.5" cy="211.2" r="4.3"/><circle cx="453.8" cy="222.6" r="4.3"/><circle cx="554.8" cy="198.1" r="4.3"/><circle cx="442.4" cy="192.5" r="4.3"/><circle cx="460.1" cy="216.1" r="4.3"/><circle cx="594.3" cy="245.1" r="4.3"/><circle cx="450.5" cy="223.9" r="4.3"/><circle cx="517.1" cy="226.4" r="4.3"/><circle cx="554.9" cy="250.5" r="4.3"/><circle cx="580.9" cy="267.2" r="4.3"/><circle cx="518.8" cy="204" r="4.3"/><circle cx="386.3" cy="221.5" r="4.3"/><circle cx="534.6" cy="271.7" r="4.3"/><circle cx="541.7" cy="249.2" r="4.3"/><circle cx="503.5" cy="208.1" r="4.3"/><circle cx="392.9" cy="167.8" r="4.3"/><circle cx="368.8" cy="144.9" r="4.3"/><circle cx="517" cy="239.4" r="4.3"/><circle cx="606.4" cy="279" r="4.3"/><circle cx="487.6" cy="207" r="4.3"/><circle cx="533.4" cy="220" r="4.3"/><circle cx="432.4" cy="140" r="4.3"/><circle cx="497.1" cy="212" r="4.3"/><circle cx="412.5" cy="136.8" r="4.3"/><circle cx="508.1" cy="168.9" r="4.3"/><circle cx="519" cy="213.7" r="4.3"/><circle cx="483.9" cy="238.7" r="4.3"/><circle cx="617.3" cy="241.2" r="4.3"/><circle cx="569.5" cy="258.2" r="4.3"/><circle cx="603.9" cy="241.6" r="4.3"/><circle cx="485.6" cy="190.1" r="4.3"/><circle cx="557.1" cy="251.9" r="4.3"/><circle cx="518.9" cy="218.2" r="4.3"/><circle cx="436.5" cy="132.8" r="4.3"/><circle cx="472" cy="241" r="4.3"/><circle cx="554.3" cy="197.4" r="4.3"/><circle cx="385.6" cy="173.9" r="4.3"/><circle cx="450.8" cy="199.1" r="4.3"/><circle cx="626.7" cy="212.2" r="4.3"/><circle cx="478.4" cy="162.5" r="4.3"/><circle cx="502.1" cy="309.5" r="4.3"/><circle cx="353.4" cy="139.7" r="4.3"/><circle cx="529.2" cy="190.5" r="4.3"/><circle cx="425" cy="204.7" r="4.3"/><circle cx="544.9" cy="213.1" r="4.3"/><circle cx="487.4" cy="225.9" r="4.3"/><circle cx="588.7" cy="266.5" r="4.3"/><circle cx="451.9" cy="211.7" r="4.3"/><circle cx="467.6" cy="194.1" r="4.3"/><circle cx="446.4" cy="153.3" r="4.3"/><circle cx="537.2" cy="232.9" r="4.3"/><circle cx="518.6" cy="178.3" r="4.3"/><circle cx="424.1" cy="153" r="4.3"/><circle cx="427.6" cy="205.5" r="4.3"/><circle cx="439.6" cy="136" r="4.3"/><circle cx="427.1" cy="208.7" r="4.3"/><circle cx="459.2" cy="224.2" r="4.3"/><circle cx="529.3" cy="248.7" r="4.3"/><circle cx="386.9" cy="146" r="4.3"/><circle cx="448.9" cy="157.9" r="4.3"/><circle cx="549.5" cy="202.1" r="4.3"/><circle cx="479.2" cy="172" r="4.3"/><circle cx="396.2" cy="157.7" r="4.3"/><circle cx="507.6" cy="177.7" r="4.3"/><circle cx="493.9" cy="176.2" r="4.3"/><circle cx="463.7" cy="215.1" r="4.3"/><circle cx="496.7" cy="181.8" r="4.3"/><circle cx="644.7" cy="231.5" r="4.3"/><circle cx="550.9" cy="222.1" r="4.3"/><circle cx="428.7" cy="153.2" r="4.3"/><circle cx="348.2" cy="191.8" r="4.3"/><circle cx="462.5" cy="181.7" r="4.3"/><circle cx="418.7" cy="148.8" r="4.3"/><circle cx="347.1" cy="167.1" r="4.3"/><circle cx="556.9" cy="205.6" r="4.3"/><circle cx="417.7" cy="173.4" r="4.3"/><circle cx="529.7" cy="275" r="4.3"/><circle cx="525.1" cy="263.9" r="4.3"/><circle cx="348.6" cy="129.1" r="4.3"/><circle cx="494.8" cy="212.9" r="4.3"/><circle cx="517.3" cy="177.1" r="4.3"/><circle cx="375.3" cy="150.5" r="4.3"/><circle cx="551.8" cy="239.5" r="4.3"/><circle cx="585.8" cy="253.8" r="4.3"/><circle cx="657.5" cy="245.8" r="4.3"/><circle cx="564.7" cy="205.4" r="4.3"/><circle cx="543.4" cy="243.8" r="4.3"/><circle cx="456.1" cy="204.8" r="4.3"/><circle cx="551" cy="206.5" r="4.3"/><circle cx="435.5" cy="155.6" r="4.3"/><circle cx="466.7" cy="177.1" r="4.3"/><circle cx="413.6" cy="151.7" r="4.3"/><circle cx="534.8" cy="233.8" r="4.3"/><circle cx="525.6" cy="206.2" r="4.3"/><circle cx="605.1" cy="234.3" r="4.3"/><circle cx="419.4" cy="144.7" r="4.3"/><circle cx="609.8" cy="256.2" r="4.3"/><circle cx="444.8" cy="229.3" r="4.3"/><circle cx="512.5" cy="193.1" r="4.3"/><circle cx="362.2" cy="167.8" r="4.3"/><circle cx="526.9" cy="202" r="4.3"/><circle cx="534.1" cy="213" r="4.3"/><circle cx="553.8" cy="258.7" r="4.3"/><circle cx="441.6" cy="199.1" r="4.3"/><circle cx="436.4" cy="135.1" r="4.3"/><circle cx="448.5" cy="169.9" r="4.3"/><circle cx="532.3" cy="262.7" r="4.3"/><circle cx="432.8" cy="158.4" r="4.3"/><circle cx="555.7" cy="227.7" r="4.3"/><circle cx="521.4" cy="207.6" r="4.3"/><circle cx="379.5" cy="148.3" r="4.3"/><circle cx="407.1" cy="188.4" r="4.3"/><circle cx="459.9" cy="242.9" r="4.3"/><circle cx="540" cy="265.7" r="4.3"/><circle cx="402.1" cy="154.1" r="4.3"/><circle cx="477.7" cy="226.7" r="4.3"/><circle cx="443" cy="194.4" r="4.3"/><circle cx="571.7" cy="253.3" r="4.3"/><circle cx="550" cy="308.1" r="4.3"/><circle cx="630.6" cy="205.5" r="4.3"/><circle cx="441.6" cy="168" r="4.3"/><circle cx="476" cy="159.6" r="4.3"/><circle cx="469.7" cy="154.8" r="4.3"/><circle cx="501.6" cy="191.1" r="4.3"/><circle cx="406.5" cy="205.2" r="4.3"/><circle cx="514.5" cy="238.6" r="4.3"/><circle cx="503.5" cy="218.1" r="4.3"/><circle cx="364.8" cy="168.9" r="4.3"/><circle cx="525.5" cy="251.2" r="4.3"/><circle cx="478.8" cy="197.1" r="4.3"/><circle cx="500.2" cy="220.7" r="4.3"/><circle cx="526.2" cy="260.6" r="4.3"/><circle cx="562.3" cy="311.2" r="4.3"/><circle cx="450.5" cy="139.3" r="4.3"/><circle cx="544.2" cy="220" r="4.3"/><circle cx="484.1" cy="171.1" r="4.3"/><circle cx="420.5" cy="147.7" r="4.3"/><circle cx="479.6" cy="216.1" r="4.3"/><circle cx="411.5" cy="160.1" r="4.3"/><circle cx="392.7" cy="168.8" r="4.3"/><circle cx="587" cy="246.6" r="4.3"/><circle cx="415.2" cy="163.9" r="4.3"/><circle cx="499.7" cy="205.2" r="4.3"/><circle cx="539.9" cy="268.1" r="4.3"/><circle cx="381.6" cy="136.2" r="4.3"/><circle cx="426.5" cy="176.9" r="4.3"/><circle cx="520.6" cy="210.6" r="4.3"/><circle cx="468.3" cy="207.1" r="4.3"/><circle cx="609.9" cy="274.1" r="4.3"/><circle cx="512.2" cy="200.3" r="4.3"/><circle cx="498.1" cy="219.9" r="4.3"/><circle cx="535.8" cy="215.8" r="4.3"/><circle cx="583.7" cy="245.4" r="4.3"/><circle cx="504.5" cy="171" r="4.3"/><circle cx="413.1" cy="202.5" r="4.3"/><circle cx="524.4" cy="252.3" r="4.3"/><circle cx="425" cy="158.4" r="4.3"/><circle cx="560.5" cy="265.4" r="4.3"/><circle cx="505.2" cy="269" r="4.3"/><circle cx="626" cy="245.9" r="4.3"/><circle cx="425.5" cy="202.3" r="4.3"/><circle cx="580.1" cy="239.2" r="4.3"/><circle cx="602.8" cy="248.5" r="4.3"/><circle cx="435.5" cy="168.9" r="4.3"/><circle cx="410.1" cy="186.5" r="4.3"/><circle cx="476.9" cy="175.9" r="4.3"/><circle cx="483.9" cy="147.8" r="4.3"/><circle cx="427.1" cy="188.9" r="4.3"/><circle cx="602.1" cy="248.9" r="4.3"/><circle cx="622.4" cy="241.8" r="4.3"/><circle cx="542.1" cy="239.9" r="4.3"/><circle cx="495.4" cy="178.7" r="4.3"/><circle cx="529.6" cy="281.2" r="4.3"/><circle cx="594.6" cy="254" r="4.3"/><circle cx="611.8" cy="229.8" r="4.3"/><circle cx="416.5" cy="163.8" r="4.3"/><circle cx="480.8" cy="148.7" r="4.3"/><circle cx="468.7" cy="179.8" r="4.3"/><circle cx="507.7" cy="224.4" r="4.3"/><circle cx="386.5" cy="161.1" r="4.3"/><circle cx="507.1" cy="242.1" r="4.3"/><circle cx="386.8" cy="175.1" r="4.3"/><circle cx="377.4" cy="151.3" r="4.3"/><circle cx="459.2" cy="187" r="4.3"/><circle cx="462.6" cy="143.8" r="4.3"/><circle cx="496.4" cy="195.8" r="4.3"/><circle cx="601.9" cy="232.1" r="4.3"/><circle cx="403" cy="147.5" r="4.3"/><circle cx="423.2" cy="174.9" r="4.3"/><circle cx="462.2" cy="211.1" r="4.3"/><circle cx="486.2" cy="225.7" r="4.3"/><circle cx="445.1" cy="160.9" r="4.3"/><circle cx="408.2" cy="173.1" r="4.3"/><circle cx="522.9" cy="247.8" r="4.3"/><circle cx="483.1" cy="192.3" r="4.3"/><circle cx="495.6" cy="229.1" r="4.3"/><circle cx="546.8" cy="281.5" r="4.3"/><circle cx="546.7" cy="192.7" r="4.3"/><circle cx="553.8" cy="201.6" r="4.3"/><circle cx="529.7" cy="267.4" r="4.3"/><circle cx="531.7" cy="222.8" r="4.3"/><circle cx="456.3" cy="192.7" r="4.3"/><circle cx="544.7" cy="240.2" r="4.3"/><circle cx="598" cy="222.1" r="4.3"/><circle cx="401.3" cy="152.2" r="4.3"/><circle cx="627.2" cy="253.9" r="4.3"/><circle cx="527.4" cy="275.2" r="4.3"/><circle cx="460.2" cy="153.4" r="4.3"/><circle cx="360.1" cy="161.7" r="4.3"/><circle cx="430.8" cy="170.9" r="4.3"/><circle cx="557.2" cy="195.4" r="4.3"/><circle cx="409.8" cy="181" r="4.3"/><circle cx="388.9" cy="140.1" r="4.3"/><circle cx="443.5" cy="176.7" r="4.3"/><circle cx="571.9" cy="257.1" r="4.3"/><circle cx="534" cy="233.8" r="4.3"/><circle cx="567.7" cy="289.6" r="4.3"/><circle cx="396.9" cy="167.6" r="4.3"/><circle cx="497" cy="243" r="4.3"/><circle cx="512.5" cy="171.8" r="4.3"/><circle cx="583.9" cy="201.4" r="4.3"/><circle cx="559.7" cy="246.7" r="4.3"/><circle cx="446.1" cy="187.5" r="4.3"/><circle cx="570" cy="196.5" r="4.3"/><circle cx="509.3" cy="240.3" r="4.3"/><circle cx="511.3" cy="274.5" r="4.3"/><circle cx="463" cy="185.4" r="4.3"/><circle cx="374.2" cy="177.2" r="4.3"/><circle cx="509.9" cy="193.7" r="4.3"/><circle cx="454" cy="180" r="4.3"/><circle cx="456.9" cy="153.2" r="4.3"/><circle cx="438.2" cy="186" r="4.3"/><circle cx="486.4" cy="211.1" r="4.3"/><circle cx="404.9" cy="236.7" r="4.3"/><circle cx="449.4" cy="232.5" r="4.3"/><circle cx="387.7" cy="168.8" r="4.3"/><circle cx="610.9" cy="267.8" r="4.3"/><circle cx="633.7" cy="230.7" r="4.3"/><circle cx="381.7" cy="166" r="4.3"/><circle cx="431.5" cy="193.8" r="4.3"/><circle cx="382.6" cy="151.4" r="4.3"/><circle cx="432.4" cy="170.5" r="4.3"/><circle cx="487.9" cy="190.6" r="4.3"/><circle cx="570.8" cy="225.6" r="4.3"/><circle cx="424.2" cy="171.7" r="4.3"/><circle cx="570.3" cy="207.6" r="4.3"/><circle cx="636.2" cy="229.7" r="4.3"/><circle cx="445.6" cy="169.3" r="4.3"/><circle cx="561.1" cy="266" r="4.3"/><circle cx="345" cy="163.2" r="4.3"/><circle cx="563.1" cy="217.7" r="4.3"/><circle cx="579.7" cy="272.2" r="4.3"/><circle cx="381.6" cy="186.1" r="4.3"/><circle cx="531.6" cy="274.8" r="4.3"/><circle cx="412.2" cy="134.6" r="4.3"/><circle cx="556.4" cy="257.8" r="4.3"/><circle cx="484.7" cy="248.3" r="4.3"/><circle cx="479" cy="218.4" r="4.3"/><circle cx="435.2" cy="181.9" r="4.3"/><circle cx="421.9" cy="129.9" r="4.3"/><circle cx="379.5" cy="174" r="4.3"/><circle cx="600.1" cy="239" r="4.3"/><circle cx="475" cy="179.2" r="4.3"/><circle cx="533.4" cy="267.3" r="4.3"/><circle cx="404.4" cy="196.7" r="4.3"/><circle cx="627.5" cy="291.2" r="4.3"/><circle cx="455.6" cy="187.5" r="4.3"/><circle cx="556" cy="259.6" r="4.3"/><circle cx="337.2" cy="132.9" r="4.3"/><circle cx="474.7" cy="177.3" r="4.3"/><circle cx="451.5" cy="218.6" r="4.3"/><circle cx="474.7" cy="196.1" r="4.3"/><circle cx="539.4" cy="202.2" r="4.3"/><circle cx="524.6" cy="183" r="4.3"/><circle cx="459" cy="201.5" r="4.3"/><circle cx="498.4" cy="179.4" r="4.3"/><circle cx="490.5" cy="180.7" r="4.3"/><circle cx="528.8" cy="230.1" r="4.3"/><circle cx="579.5" cy="226.4" r="4.3"/><circle cx="458.7" cy="219.6" r="4.3"/><circle cx="547.4" cy="210.6" r="4.3"/><circle cx="351.9" cy="194.7" r="4.3"/><circle cx="384.9" cy="153.9" r="4.3"/><circle cx="385.2" cy="184.6" r="4.3"/><circle cx="586.9" cy="230.8" r="4.3"/><circle cx="367.6" cy="157.7" r="4.3"/><circle cx="483.5" cy="233.4" r="4.3"/><circle cx="572.9" cy="253.8" r="4.3"/><circle cx="379.9" cy="159.3" r="4.3"/><circle cx="373" cy="139.9" r="4.3"/><circle cx="475.5" cy="224.3" r="4.3"/><circle cx="525.6" cy="198.6" r="4.3"/><circle cx="419.2" cy="201.9" r="4.3"/><circle cx="322.8" cy="173.6" r="4.3"/><circle cx="573.6" cy="226.2" r="4.3"/><circle cx="507.1" cy="190.1" r="4.3"/><circle cx="418.2" cy="193.3" r="4.3"/><circle cx="470.6" cy="169.4" r="4.3"/><circle cx="385.7" cy="178.9" r="4.3"/><circle cx="549.9" cy="216.4" r="4.3"/><circle cx="491.2" cy="181.9" r="4.3"/><circle cx="578.8" cy="211" r="4.3"/><circle cx="569.2" cy="248.1" r="4.3"/><circle cx="456" cy="182.3" r="4.3"/><circle cx="502.7" cy="199.2" r="4.3"/><circle cx="568.7" cy="247.7" r="4.3"/><circle cx="518.7" cy="195.2" r="4.3"/><circle cx="388.4" cy="143" r="4.3"/><circle cx="489.4" cy="179.4" r="4.3"/><circle cx="351.7" cy="157.7" r="4.3"/><circle cx="508.2" cy="231.6" r="4.3"/><circle cx="560.1" cy="244.8" r="4.3"/><circle cx="600.7" cy="312.5" r="4.3"/><circle cx="473.5" cy="199.3" r="4.3"/><circle cx="347" cy="154.6" r="4.3"/><circle cx="421.6" cy="212.8" r="4.3"/><circle cx="461.1" cy="187" r="4.3"/><circle cx="432.8" cy="163.9" r="4.3"/><circle cx="489.3" cy="160.8" r="4.3"/><circle cx="405" cy="146.3" r="4.3"/><circle cx="525.5" cy="210" r="4.3"/><circle cx="436.6" cy="174.6" r="4.3"/><circle cx="540.3" cy="248.7" r="4.3"/><circle cx="428.9" cy="144.8" r="4.3"/><circle cx="429.3" cy="182" r="4.3"/><circle cx="564.6" cy="230.7" r="4.3"/><circle cx="499" cy="221.1" r="4.3"/><circle cx="360" cy="162" r="4.3"/><circle cx="525.7" cy="217.1" r="4.3"/><circle cx="506" cy="240.8" r="4.3"/><circle cx="411.1" cy="187.7" r="4.3"/><circle cx="585.8" cy="262.2" r="4.3"/><circle cx="519" cy="219" r="4.3"/><circle cx="352.3" cy="184.8" r="4.3"/><circle cx="472.7" cy="267.3" r="4.3"/><circle cx="440.9" cy="207.6" r="4.3"/><circle cx="446.5" cy="234" r="4.3"/><circle cx="575.6" cy="221.5" r="4.3"/><circle cx="443.3" cy="213.5" r="4.3"/><circle cx="431.7" cy="198" r="4.3"/><circle cx="409.7" cy="213.9" r="4.3"/><circle cx="523.2" cy="215.2" r="4.3"/><circle cx="444.2" cy="201.4" r="4.3"/><circle cx="398" cy="185.4" r="4.3"/><circle cx="492.5" cy="251.2" r="4.3"/><circle cx="443.8" cy="227.2" r="4.3"/><circle cx="449.8" cy="162.1" r="4.3"/><circle cx="492.4" cy="189" r="4.3"/><circle cx="475.9" cy="200.1" r="4.3"/><circle cx="461.4" cy="168.5" r="4.3"/><circle cx="538.7" cy="196.5" r="4.3"/><circle cx="351.2" cy="140.2" r="4.3"/><circle cx="460.1" cy="220.4" r="4.3"/><circle cx="496.7" cy="201.6" r="4.3"/><circle cx="385.6" cy="167.6" r="4.3"/><circle cx="478" cy="173.6" r="4.3"/><circle cx="515.3" cy="176" r="4.3"/><circle cx="577.4" cy="213.9" r="4.3"/><circle cx="336.3" cy="104.5" r="4.3"/><circle cx="602" cy="254.8" r="4.3"/><circle cx="469.7" cy="232.1" r="4.3"/><circle cx="549" cy="202.5" r="4.3"/><circle cx="477.9" cy="254.6" r="4.3"/><circle cx="383.2" cy="189.1" r="4.3"/><circle cx="382.3" cy="139.2" r="4.3"/><circle cx="520.8" cy="219.6" r="4.3"/><circle cx="529.2" cy="248.4" r="4.3"/><circle cx="409.4" cy="134.4" r="4.3"/><circle cx="504.3" cy="182.7" r="4.3"/><circle cx="536.8" cy="234.7" r="4.3"/><circle cx="471" cy="261" r="4.3"/><circle cx="397.9" cy="180.8" r="4.3"/><circle cx="487.9" cy="196.9" r="4.3"/><circle cx="433.8" cy="210.3" r="4.3"/><circle cx="425.4" cy="149.2" r="4.3"/><circle cx="374.1" cy="140.7" r="4.3"/><circle cx="492.2" cy="193.1" r="4.3"/><circle cx="576.7" cy="250.1" r="4.3"/><circle cx="591.8" cy="248.2" r="4.3"/><circle cx="572.3" cy="237.7" r="4.3"/><circle cx="573.8" cy="237.1" r="4.3"/><circle cx="501.2" cy="161.4" r="4.3"/><circle cx="607.2" cy="229.4" r="4.3"/><circle cx="565.8" cy="224.9" r="4.3"/><circle cx="600.4" cy="261.1" r="4.3"/><circle cx="510.1" cy="188.9" r="4.3"/><circle cx="468.3" cy="163.8" r="4.3"/><circle cx="430.2" cy="136.5" r="4.3"/><circle cx="571.6" cy="263.5" r="4.3"/><circle cx="555.4" cy="196.4" r="4.3"/><circle cx="533.3" cy="193.8" r="4.3"/><circle cx="601.3" cy="274.8" r="4.3"/><circle cx="458.3" cy="211.9" r="4.3"/><circle cx="559.9" cy="218.1" r="4.3"/><circle cx="597.3" cy="282.8" r="4.3"/><circle cx="561.4" cy="219.4" r="4.3"/><circle cx="524.8" cy="266.4" r="4.3"/><circle cx="364.4" cy="153.6" r="4.3"/><circle cx="548" cy="247.1" r="4.3"/><circle cx="407.3" cy="152" r="4.3"/><circle cx="592.5" cy="214.2" r="4.3"/><circle cx="520.6" cy="180.4" r="4.3"/><circle cx="569.7" cy="217.6" r="4.3"/><circle cx="462.1" cy="158.4" r="4.3"/><circle cx="539.2" cy="209.1" r="4.3"/><circle cx="571.2" cy="251.6" r="4.3"/><circle cx="639.6" cy="243.9" r="4.3"/><circle cx="328.7" cy="146.6" r="4.3"/><circle cx="439.9" cy="250.5" r="4.3"/><circle cx="387.5" cy="138" r="4.3"/><circle cx="606.3" cy="252.8" r="4.3"/><circle cx="435.7" cy="139.4" r="4.3"/><circle cx="585.6" cy="222.1" r="4.3"/><circle cx="443" cy="167" r="4.3"/><circle cx="545.1" cy="238.6" r="4.3"/><circle cx="593.7" cy="243.8" r="4.3"/><circle cx="511.3" cy="200.8" r="4.3"/><circle cx="596.9" cy="249.7" r="4.3"/><circle cx="516.6" cy="227.2" r="4.3"/><circle cx="594.2" cy="233.2" r="4.3"/><circle cx="427.1" cy="141.4" r="4.3"/><circle cx="485.8" cy="165.3" r="4.3"/><circle cx="446.1" cy="203.3" r="4.3"/><circle cx="455.8" cy="172.9" r="4.3"/><circle cx="497.7" cy="226.5" r="4.3"/><circle cx="453.2" cy="246.3" r="4.3"/><circle cx="493.1" cy="220.8" r="4.3"/><circle cx="539.7" cy="208" r="4.3"/><circle cx="553" cy="252.2" r="4.3"/><circle cx="400.6" cy="199.7" r="4.3"/><circle cx="445.6" cy="241.4" r="4.3"/><circle cx="448.7" cy="183.6" r="4.3"/><circle cx="502.8" cy="205.6" r="4.3"/><circle cx="549.2" cy="239" r="4.3"/><circle cx="362.9" cy="133.3" r="4.3"/><circle cx="557.8" cy="229.9" r="4.3"/><circle cx="492.8" cy="192.9" r="4.3"/><circle cx="521.2" cy="259.9" r="4.3"/><circle cx="526.2" cy="234" r="4.3"/><circle cx="552.3" cy="209.1" r="4.3"/><circle cx="372.8" cy="161.5" r="4.3"/><circle cx="532.4" cy="244" r="4.3"/><circle cx="382.3" cy="169.5" r="4.3"/><circle cx="606.4" cy="265.7" r="4.3"/><circle cx="534.3" cy="266.1" r="4.3"/><circle cx="419.6" cy="178.2" r="4.3"/><circle cx="384.4" cy="139.2" r="4.3"/><circle cx="513.8" cy="201.2" r="4.3"/><circle cx="557" cy="232.3" r="4.3"/><circle cx="428.5" cy="226.4" r="4.3"/><circle cx="540.3" cy="248.6" r="4.3"/><circle cx="438.7" cy="154.9" r="4.3"/><circle cx="537.9" cy="214.1" r="4.3"/><circle cx="417.2" cy="195" r="4.3"/><circle cx="484" cy="220.3" r="4.3"/><circle cx="514.6" cy="247" r="4.3"/><circle cx="370.1" cy="121.7" r="4.3"/><circle cx="490.2" cy="180" r="4.3"/><circle cx="390.5" cy="229.7" r="4.3"/><circle cx="434.4" cy="143.2" r="4.3"/><circle cx="554.3" cy="220.4" r="4.3"/><circle cx="468.4" cy="214.6" r="4.3"/><circle cx="572.8" cy="228.7" r="4.3"/><circle cx="431.3" cy="163.8" r="4.3"/><circle cx="365.5" cy="140.9" r="4.3"/><circle cx="443.9" cy="179.2" r="4.3"/><circle cx="423.5" cy="160.6" r="4.3"/><circle cx="375.4" cy="207.8" r="4.3"/><circle cx="396.5" cy="142" r="4.3"/><circle cx="411.1" cy="132.7" r="4.3"/><circle cx="581.4" cy="215.6" r="4.3"/><circle cx="478.6" cy="148.7" r="4.3"/><circle cx="493.4" cy="151.9" r="4.3"/><circle cx="575" cy="248.9" r="4.3"/><circle cx="450" cy="193.7" r="4.3"/><circle cx="566.3" cy="219.7" r="4.3"/><circle cx="506.5" cy="156.6" r="4.3"/><circle cx="446.1" cy="210" r="4.3"/><circle cx="470.3" cy="212.4" r="4.3"/><circle cx="457.2" cy="160.4" r="4.3"/><circle cx="428" cy="163.1" r="4.3"/><circle cx="430.7" cy="138.4" r="4.3"/><circle cx="574.3" cy="296.8" r="4.3"/><circle cx="555.3" cy="265.6" r="4.3"/><circle cx="444.6" cy="160.8" r="4.3"/><circle cx="360.3" cy="162.3" r="4.3"/><circle cx="531" cy="277.6" r="4.3"/><circle cx="417.3" cy="187.3" r="4.3"/><circle cx="330.3" cy="134.9" r="4.3"/><circle cx="326.7" cy="167.7" r="4.3"/><circle cx="503.9" cy="235.8" r="4.3"/><circle cx="564.9" cy="260.6" r="4.3"/><circle cx="342.3" cy="163.1" r="4.3"/><circle cx="586.8" cy="252.3" r="4.3"/><circle cx="544.9" cy="182.5" r="4.3"/><circle cx="429.9" cy="141.2" r="4.3"/><circle cx="550" cy="249.2" r="4.3"/><circle cx="395.8" cy="187.8" r="4.3"/><circle cx="410.2" cy="145.9" r="4.3"/><circle cx="466.2" cy="165.8" r="4.3"/><circle cx="521.9" cy="207.4" r="4.3"/><circle cx="463.4" cy="193.7" r="4.3"/><circle cx="409.3" cy="148.8" r="4.3"/><circle cx="392" cy="145.8" r="4.3"/><circle cx="477.9" cy="178.7" r="4.3"/><circle cx="385.2" cy="133" r="4.3"/><circle cx="489.3" cy="176.9" r="4.3"/><circle cx="542.9" cy="247.7" r="4.3"/><circle cx="550" cy="267.5" r="4.3"/><circle cx="614.6" cy="233.1" r="4.3"/><circle cx="336.6" cy="133.2" r="4.3"/><circle cx="417.9" cy="179.3" r="4.3"/><circle cx="469.9" cy="266.4" r="4.3"/><circle cx="498" cy="207.9" r="4.3"/><circle cx="477.7" cy="230" r="4.3"/><circle cx="568.3" cy="216" r="4.3"/><circle cx="358.1" cy="146.6" r="4.3"/><circle cx="453.4" cy="160.1" r="4.3"/><circle cx="376.2" cy="137.1" r="4.3"/><circle cx="495.7" cy="213.1" r="4.3"/><circle cx="380.3" cy="156.5" r="4.3"/><circle cx="545.1" cy="214.8" r="4.3"/><circle cx="456.7" cy="205.7" r="4.3"/><circle cx="463.4" cy="210.9" r="4.3"/><circle cx="473.3" cy="221.1" r="4.3"/><circle cx="382.2" cy="165.3" r="4.3"/><circle cx="605" cy="282.2" r="4.3"/><circle cx="519.6" cy="233.6" r="4.3"/><circle cx="524.6" cy="223.4" r="4.3"/><circle cx="442.3" cy="147.3" r="4.3"/><circle cx="482" cy="170.8" r="4.3"/><circle cx="530.7" cy="251.3" r="4.3"/><circle cx="416.6" cy="179.7" r="4.3"/><circle cx="550.5" cy="196.5" r="4.3"/><circle cx="498.3" cy="257" r="4.3"/><circle cx="451.2" cy="203.4" r="4.3"/><circle cx="482.9" cy="166" r="4.3"/><circle cx="385.6" cy="140.2" r="4.3"/><circle cx="491.6" cy="154.8" r="4.3"/><circle cx="576.4" cy="283.1" r="4.3"/><circle cx="456.4" cy="207.1" r="4.3"/><circle cx="450.6" cy="158.4" r="4.3"/><circle cx="523" cy="282.1" r="4.3"/><circle cx="489.9" cy="207.9" r="4.3"/><circle cx="391.7" cy="183.3" r="4.3"/><circle cx="406.4" cy="137.9" r="4.3"/><circle cx="449.8" cy="155.8" r="4.3"/><circle cx="562.7" cy="244.4" r="4.3"/><circle cx="576.9" cy="253.6" r="4.3"/><circle cx="406.6" cy="162.1" r="4.3"/><circle cx="528.3" cy="208.9" r="4.3"/><circle cx="546.7" cy="233.2" r="4.3"/><circle cx="393.5" cy="225" r="4.3"/><circle cx="515" cy="175.3" r="4.3"/><circle cx="613.9" cy="280.6" r="4.3"/><circle cx="500.5" cy="229.1" r="4.3"/><circle cx="442.6" cy="141.5" r="4.3"/><circle cx="578.9" cy="309" r="4.3"/><circle cx="445.3" cy="191.4" r="4.3"/><circle cx="482.9" cy="234.9" r="4.3"/><circle cx="393.5" cy="184.5" r="4.3"/><circle cx="513.8" cy="185.9" r="4.3"/><circle cx="440.2" cy="169.9" r="4.3"/><circle cx="452.3" cy="169" r="4.3"/><circle cx="655.3" cy="272.3" r="4.3"/><circle cx="443.9" cy="205.3" r="4.3"/><circle cx="486.7" cy="176.8" r="4.3"/><circle cx="380.5" cy="151" r="4.3"/><circle cx="426.9" cy="166.7" r="4.3"/><circle cx="407.4" cy="161.7" r="4.3"/><circle cx="427.2" cy="150.4" r="4.3"/><circle cx="609.3" cy="238.1" r="4.3"/><circle cx="469.4" cy="185.9" r="4.3"/><circle cx="616.4" cy="233.3" r="4.3"/><circle cx="492.5" cy="204.7" r="4.3"/><circle cx="472.2" cy="212.2" r="4.3"/><circle cx="544.3" cy="195.3" r="4.3"/><circle cx="581" cy="234.2" r="4.3"/><circle cx="406.4" cy="168.7" r="4.3"/><circle cx="372.8" cy="152.1" r="4.3"/><circle cx="552" cy="265" r="4.3"/><circle cx="445.9" cy="254.9" r="4.3"/><circle cx="535.1" cy="183.6" r="4.3"/><circle cx="452.6" cy="158.7" r="4.3"/><circle cx="583.6" cy="265.6" r="4.3"/><circle cx="423.4" cy="146.8" r="4.3"/><circle cx="455.3" cy="150.8" r="4.3"/><circle cx="459.1" cy="227.7" r="4.3"/><circle cx="474.8" cy="212" r="4.3"/><circle cx="491.9" cy="193.3" r="4.3"/><circle cx="480.8" cy="154" r="4.3"/><circle cx="401.9" cy="155.4" r="4.3"/><circle cx="507" cy="221.3" r="4.3"/><circle cx="539.5" cy="201.4" r="4.3"/><circle cx="511" cy="219.8" r="4.3"/><circle cx="454.9" cy="178.5" r="4.3"/><circle cx="590.2" cy="230.2" r="4.3"/><circle cx="454.6" cy="167.6" r="4.3"/><circle cx="534.2" cy="252.9" r="4.3"/><circle cx="471.3" cy="149.9" r="4.3"/><circle cx="531.9" cy="246.5" r="4.3"/><circle cx="357.3" cy="139.3" r="4.3"/><circle cx="487.6" cy="164.9" r="4.3"/><circle cx="426.8" cy="192.7" r="4.3"/><circle cx="474.4" cy="228" r="4.3"/><circle cx="379" cy="156.1" r="4.3"/><circle cx="560.3" cy="197.3" r="4.3"/><circle cx="545.2" cy="242.1" r="4.3"/><circle cx="578.3" cy="217.1" r="4.3"/><circle cx="561.8" cy="297.3" r="4.3"/><circle cx="644.2" cy="215.9" r="4.3"/><circle cx="654.8" cy="265.9" r="4.3"/><circle cx="609.7" cy="239.8" r="4.3"/><circle cx="607.9" cy="268.9" r="4.3"/><circle cx="576.2" cy="225.9" r="4.3"/><circle cx="567" cy="260.6" r="4.3"/><circle cx="377.8" cy="151.7" r="4.3"/><circle cx="498.7" cy="189" r="4.3"/><circle cx="484.2" cy="228.7" r="4.3"/><circle cx="460.1" cy="217.6" r="4.3"/><circle cx="536.8" cy="235.9" r="4.3"/><circle cx="601.5" cy="268" r="4.3"/><circle cx="519" cy="230.8" r="4.3"/><circle cx="416.1" cy="149.7" r="4.3"/><circle cx="362.9" cy="140.7" r="4.3"/><circle cx="478.8" cy="158" r="4.3"/><circle cx="407.7" cy="158.4" r="4.3"/><circle cx="563.7" cy="323.3" r="4.3"/><circle cx="531.3" cy="233.4" r="4.3"/><circle cx="570.9" cy="245.5" r="4.3"/><circle cx="434.2" cy="211.8" r="4.3"/><circle cx="431.5" cy="160.6" r="4.3"/><circle cx="567" cy="241.9" r="4.3"/><circle cx="485.6" cy="153" r="4.3"/><circle cx="506.6" cy="227.3" r="4.3"/><circle cx="466.9" cy="222.2" r="4.3"/><circle cx="351.7" cy="168.9" r="4.3"/><circle cx="409.3" cy="181.3" r="4.3"/><circle cx="399.9" cy="156.1" r="4.3"/><circle cx="398.3" cy="208.9" r="4.3"/><circle cx="456.6" cy="210.5" r="4.3"/><circle cx="414.5" cy="179.1" r="4.3"/><circle cx="560" cy="236.7" r="4.3"/><circle cx="510.8" cy="226.7" r="4.3"/><circle cx="471.1" cy="207.8" r="4.3"/><circle cx="536.3" cy="221.7" r="4.3"/><circle cx="443.6" cy="135.8" r="4.3"/><circle cx="513.8" cy="197.2" r="4.3"/><circle cx="467.8" cy="189" r="4.3"/><circle cx="439.9" cy="259.3" r="4.3"/><circle cx="569.8" cy="248.5" r="4.3"/><circle cx="492.1" cy="169" r="4.3"/><circle cx="522.8" cy="203.1" r="4.3"/><circle cx="515.9" cy="187.1" r="4.3"/><circle cx="343.6" cy="126.6" r="4.3"/><circle cx="664.3" cy="253.5" r="4.3"/><circle cx="433.4" cy="207.3" r="4.3"/><circle cx="479.9" cy="170.2" r="4.3"/><circle cx="498.3" cy="208.7" r="4.3"/><circle cx="526.3" cy="188" r="4.3"/><circle cx="362.4" cy="128" r="4.3"/><circle cx="380.6" cy="133.6" r="4.3"/><circle cx="515" cy="235.9" r="4.3"/><circle cx="493.1" cy="195.3" r="4.3"/><circle cx="413.9" cy="177.5" r="4.3"/><circle cx="536.5" cy="230.2" r="4.3"/><circle cx="429.4" cy="168.4" r="4.3"/><circle cx="486.5" cy="260" r="4.3"/><circle cx="534.3" cy="194.2" r="4.3"/><circle cx="366.6" cy="136" r="4.3"/><circle cx="609" cy="272.6" r="4.3"/><circle cx="567.2" cy="216.8" r="4.3"/><circle cx="507" cy="219.1" r="4.3"/><circle cx="490.1" cy="177.5" r="4.3"/><circle cx="508.6" cy="228" r="4.3"/><circle cx="479" cy="175.7" r="4.3"/><circle cx="442.5" cy="186.4" r="4.3"/><circle cx="406" cy="175.1" r="4.3"/><circle cx="631.7" cy="249" r="4.3"/><circle cx="531.7" cy="246.4" r="4.3"/><circle cx="464.3" cy="203.2" r="4.3"/><circle cx="430.9" cy="180.4" r="4.3"/><circle cx="478.8" cy="176.7" r="4.3"/><circle cx="480.2" cy="148.5" r="4.3"/><circle cx="455.7" cy="189.6" r="4.3"/><circle cx="485.6" cy="192.7" r="4.3"/><circle cx="437.6" cy="152" r="4.3"/><circle cx="473.6" cy="189.3" r="4.3"/><circle cx="381.4" cy="139.3" r="4.3"/><circle cx="463.9" cy="201.9" r="4.3"/><circle cx="460.2" cy="188.6" r="4.3"/><circle cx="522.4" cy="199.8" r="4.3"/><circle cx="432.1" cy="173.7" r="4.3"/><circle cx="454.3" cy="148.2" r="4.3"/><circle cx="548.8" cy="243.4" r="4.3"/><circle cx="545.1" cy="231" r="4.3"/><circle cx="403.6" cy="159" r="4.3"/><circle cx="597.3" cy="253.6" r="4.3"/><circle cx="401.4" cy="201.5" r="4.3"/><circle cx="434.4" cy="196.4" r="4.3"/><circle cx="433.5" cy="160.2" r="4.3"/><circle cx="480.5" cy="163" r="4.3"/><circle cx="427.8" cy="221.2" r="4.3"/><circle cx="419.1" cy="226.6" r="4.3"/><circle cx="478" cy="202.6" r="4.3"/><circle cx="507.5" cy="186.8" r="4.3"/><circle cx="567.3" cy="287.9" r="4.3"/><circle cx="586.9" cy="226" r="4.3"/><circle cx="469.7" cy="226.7" r="4.3"/><circle cx="571.9" cy="222.9" r="4.3"/><circle cx="403.7" cy="138.2" r="4.3"/><circle cx="469.8" cy="156" r="4.3"/><circle cx="408.4" cy="157.4" r="4.3"/><circle cx="533.1" cy="223.8" r="4.3"/><circle cx="437.6" cy="176.1" r="4.3"/><circle cx="548.2" cy="230" r="4.3"/><circle cx="439.4" cy="209.2" r="4.3"/><circle cx="451" cy="209.7" r="4.3"/><circle cx="504.2" cy="177.1" r="4.3"/><circle cx="540.1" cy="285.4" r="4.3"/><circle cx="432.2" cy="164.5" r="4.3"/><circle cx="450.9" cy="148.6" r="4.3"/><circle cx="498.8" cy="226.8" r="4.3"/><circle cx="503.1" cy="234.3" r="4.3"/><circle cx="593" cy="230.7" r="4.3"/><circle cx="581.7" cy="263.5" r="4.3"/><circle cx="616.2" cy="275.9" r="4.3"/><circle cx="568.4" cy="282.5" r="4.3"/><circle cx="455.2" cy="213" r="4.3"/><circle cx="532.6" cy="196.8" r="4.3"/><circle cx="423.1" cy="147.6" r="4.3"/><circle cx="471.9" cy="164.6" r="4.3"/><circle cx="558.2" cy="191.1" r="4.3"/><circle cx="493.6" cy="184.9" r="4.3"/><circle cx="587.3" cy="283.3" r="4.3"/><circle cx="442.2" cy="203.7" r="4.3"/><circle cx="502.6" cy="251.5" r="4.3"/><circle cx="429.2" cy="139.2" r="4.3"/><circle cx="554.4" cy="241.8" r="4.3"/><circle cx="329.7" cy="150.9" r="4.3"/><circle cx="372.6" cy="149.5" r="4.3"/><circle cx="522.3" cy="249.6" r="4.3"/><circle cx="525.4" cy="238.1" r="4.3"/><circle cx="471.9" cy="167.6" r="4.3"/><circle cx="404.7" cy="152.5" r="4.3"/><circle cx="527.6" cy="236.5" r="4.3"/><circle cx="477.1" cy="166.6" r="4.3"/><circle cx="404.7" cy="198.6" r="4.3"/><circle cx="477.5" cy="189.2" r="4.3"/><circle cx="549.5" cy="277.6" r="4.3"/><circle cx="461.8" cy="155.2" r="4.3"/><circle cx="527.1" cy="216.1" r="4.3"/><circle cx="499" cy="196.7" r="4.3"/><circle cx="405.3" cy="200" r="4.3"/><circle cx="572.1" cy="281.7" r="4.3"/><circle cx="370.9" cy="140.5" r="4.3"/><circle cx="529.3" cy="261.1" r="4.3"/><circle cx="484.5" cy="169.3" r="4.3"/><circle cx="511.9" cy="239.7" r="4.3"/><circle cx="546.6" cy="188.5" r="4.3"/><circle cx="420" cy="184.4" r="4.3"/><circle cx="492.3" cy="180.1" r="4.3"/><circle cx="425" cy="161.9" r="4.3"/><circle cx="463.5" cy="207.1" r="4.3"/><circle cx="499.8" cy="162.6" r="4.3"/><circle cx="576.4" cy="235.4" r="4.3"/><circle cx="502.3" cy="234" r="4.3"/><circle cx="556.5" cy="258.2" r="4.3"/><circle cx="499.1" cy="185.3" r="4.3"/><circle cx="555.5" cy="245.4" r="4.3"/><circle cx="476.1" cy="242" r="4.3"/><circle cx="493.3" cy="182" r="4.3"/><circle cx="544.7" cy="226.5" r="4.3"/><circle cx="563.9" cy="234.9" r="4.3"/><circle cx="355.8" cy="136.5" r="4.3"/><circle cx="403" cy="163.3" r="4.3"/><circle cx="438.2" cy="167.8" r="4.3"/><circle cx="411.4" cy="193.3" r="4.3"/><circle cx="502.2" cy="191.1" r="4.3"/><circle cx="475.1" cy="241.6" r="4.3"/><circle cx="506.8" cy="194.9" r="4.3"/><circle cx="484.4" cy="166.6" r="4.3"/><circle cx="367.5" cy="148.6" r="4.3"/><circle cx="508.5" cy="253.6" r="4.3"/><circle cx="436.8" cy="219.1" r="4.3"/><circle cx="421.6" cy="147" r="4.3"/><circle cx="432.2" cy="220.2" r="4.3"/><circle cx="537.8" cy="266" r="4.3"/><circle cx="510.8" cy="179.5" r="4.3"/><circle cx="543.7" cy="230.4" r="4.3"/><circle cx="511.3" cy="227.9" r="4.3"/><circle cx="478.8" cy="191.9" r="4.3"/><circle cx="370.3" cy="127.4" r="4.3"/><circle cx="575.4" cy="272" r="4.3"/><circle cx="537.8" cy="265.7" r="4.3"/><circle cx="365" cy="119.5" r="4.3"/><circle cx="653.1" cy="237.8" r="4.3"/><circle cx="417.5" cy="159" r="4.3"/><circle cx="500.3" cy="180.1" r="4.3"/><circle cx="471.8" cy="194.2" r="4.3"/><circle cx="379.5" cy="160.1" r="4.3"/><circle cx="379.4" cy="155.1" r="4.3"/><circle cx="488.9" cy="225.6" r="4.3"/><circle cx="416.2" cy="205.9" r="4.3"/><circle cx="525.3" cy="199.4" r="4.3"/><circle cx="611.7" cy="289.6" r="4.3"/><circle cx="523.3" cy="229.7" r="4.3"/><circle cx="415.6" cy="170" r="4.3"/><circle cx="376.8" cy="153.7" r="4.3"/><circle cx="529.4" cy="219.5" r="4.3"/><circle cx="517.2" cy="260.2" r="4.3"/><circle cx="454.9" cy="197.3" r="4.3"/><circle cx="373.3" cy="126" r="4.3"/><circle cx="486.2" cy="200.4" r="4.3"/><circle cx="560.5" cy="206.6" r="4.3"/><circle cx="426.4" cy="229.2" r="4.3"/><circle cx="583.6" cy="235.6" r="4.3"/><circle cx="396.4" cy="158.4" r="4.3"/><circle cx="455.3" cy="172" r="4.3"/><circle cx="435.8" cy="155.4" r="4.3"/><circle cx="460.3" cy="153.6" r="4.3"/><circle cx="468.1" cy="208.2" r="4.3"/><circle cx="491.3" cy="176.3" r="4.3"/><circle cx="348.5" cy="146.6" r="4.3"/><circle cx="471.3" cy="164.2" r="4.3"/><circle cx="514.7" cy="206.6" r="4.3"/><circle cx="463.8" cy="153.8" r="4.3"/><circle cx="616.4" cy="224.1" r="4.3"/><circle cx="345.7" cy="157" r="4.3"/><circle cx="481.3" cy="201.6" r="4.3"/><circle cx="349" cy="155.5" r="4.3"/><circle cx="524.1" cy="216.4" r="4.3"/><circle cx="529.5" cy="226.8" r="4.3"/><circle cx="514.6" cy="212.1" r="4.3"/><circle cx="500.2" cy="236.2" r="4.3"/><circle cx="427.7" cy="162.6" r="4.3"/><circle cx="570.1" cy="228.3" r="4.3"/><circle cx="411.1" cy="170" r="4.3"/><circle cx="604.7" cy="260.2" r="4.3"/><circle cx="346.2" cy="149.9" r="4.3"/><circle cx="579.5" cy="251.7" r="4.3"/><circle cx="494.9" cy="190.7" r="4.3"/><circle cx="573.2" cy="293.5" r="4.3"/><circle cx="506.9" cy="211.6" r="4.3"/><circle cx="469.1" cy="207.6" r="4.3"/><circle cx="521.6" cy="242.5" r="4.3"/><circle cx="530.3" cy="232.3" r="4.3"/><circle cx="339.8" cy="136.9" r="4.3"/><circle cx="439.3" cy="184.6" r="4.3"/><circle cx="452.4" cy="216.9" r="4.3"/><circle cx="613.4" cy="231.8" r="4.3"/><circle cx="469.8" cy="169" r="4.3"/><circle cx="546.7" cy="287" r="4.3"/><circle cx="552.1" cy="247.9" r="4.3"/><circle cx="492.1" cy="201.1" r="4.3"/><circle cx="604.5" cy="275.6" r="4.3"/><circle cx="384.7" cy="152.1" r="4.3"/><circle cx="523.9" cy="221.3" r="4.3"/><circle cx="478.1" cy="181.5" r="4.3"/><circle cx="499.6" cy="263.5" r="4.3"/><circle cx="464.2" cy="212" r="4.3"/><circle cx="466.6" cy="189.6" r="4.3"/><circle cx="544.3" cy="297.7" r="4.3"/><circle cx="415.5" cy="188.9" r="4.3"/><circle cx="321.3" cy="112.4" r="4.3"/><circle cx="477.2" cy="210.9" r="4.3"/><circle cx="458" cy="178.5" r="4.3"/><circle cx="458.4" cy="187.7" r="4.3"/><circle cx="424.5" cy="165.7" r="4.3"/><circle cx="416.7" cy="145" r="4.3"/><circle cx="483" cy="210.9" r="4.3"/><circle cx="460.6" cy="177.9" r="4.3"/><circle cx="543.6" cy="268.8" r="4.3"/><circle cx="500" cy="161.9" r="4.3"/><circle cx="564.3" cy="235.8" r="4.3"/><circle cx="400.7" cy="159.3" r="4.3"/><circle cx="554.2" cy="237.4" r="4.3"/><circle cx="582" cy="212.9" r="4.3"/><circle cx="587.5" cy="260.9" r="4.3"/><circle cx="507.8" cy="226.9" r="4.3"/><circle cx="384" cy="173.3" r="4.3"/><circle cx="620.5" cy="244.5" r="4.3"/><circle cx="342.9" cy="116.9" r="4.3"/><circle cx="447.4" cy="143.8" r="4.3"/><circle cx="341.8" cy="140.1" r="4.3"/><circle cx="479.6" cy="186.9" r="4.3"/><circle cx="600.5" cy="283.2" r="4.3"/><circle cx="621.7" cy="261.9" r="4.3"/><circle cx="482.1" cy="200.5" r="4.3"/><circle cx="419.6" cy="163.1" r="4.3"/><circle cx="605.3" cy="257.1" r="4.3"/><circle cx="399.7" cy="157.8" r="4.3"/><circle cx="415.5" cy="145" r="4.3"/><circle cx="394" cy="172.5" r="4.3"/><circle cx="471.6" cy="190.3" r="4.3"/><circle cx="381.1" cy="192.5" r="4.3"/><circle cx="431.6" cy="142.1" r="4.3"/><circle cx="570.6" cy="238.5" r="4.3"/><circle cx="526.4" cy="177.3" r="4.3"/><circle cx="479.7" cy="219.7" r="4.3"/><circle cx="526.5" cy="186.9" r="4.3"/><circle cx="561.5" cy="221.7" r="4.3"/><circle cx="536.2" cy="237.5" r="4.3"/><circle cx="383.5" cy="149.7" r="4.3"/><circle cx="504.2" cy="177.4" r="4.3"/><circle cx="546.2" cy="215.9" r="4.3"/><circle cx="384.6" cy="152.5" r="4.3"/><circle cx="434.2" cy="183.9" r="4.3"/><circle cx="494.1" cy="166.2" r="4.3"/><circle cx="558.1" cy="269.5" r="4.3"/><circle cx="497" cy="220" r="4.3"/><circle cx="449" cy="152.5" r="4.3"/><circle cx="507.6" cy="164.1" r="4.3"/><circle cx="560.5" cy="267.5" r="4.3"/><circle cx="478.6" cy="232.8" r="4.3"/><circle cx="450.5" cy="198.7" r="4.3"/><circle cx="329" cy="127.9" r="4.3"/><circle cx="437.9" cy="196.9" r="4.3"/><circle cx="541.3" cy="227.2" r="4.3"/><circle cx="498.6" cy="197.7" r="4.3"/><circle cx="520.6" cy="231.7" r="4.3"/><circle cx="456.3" cy="216.6" r="4.3"/><circle cx="492.5" cy="213.9" r="4.3"/><circle cx="448.2" cy="178.7" r="4.3"/><circle cx="521" cy="282.8" r="4.3"/><circle cx="399.2" cy="126" r="4.3"/><circle cx="453.6" cy="165.6" r="4.3"/><circle cx="349.1" cy="158" r="4.3"/><circle cx="456.1" cy="173.4" r="4.3"/><circle cx="532.5" cy="217.6" r="4.3"/><circle cx="516.7" cy="170.2" r="4.3"/><circle cx="433.8" cy="160" r="4.3"/><circle cx="357.9" cy="123.5" r="4.3"/><circle cx="427.1" cy="158.4" r="4.3"/><circle cx="555.1" cy="233.1" r="4.3"/><circle cx="413" cy="162.7" r="4.3"/><circle cx="556" cy="236.3" r="4.3"/><circle cx="557.6" cy="226.9" r="4.3"/><circle cx="531.3" cy="230.1" r="4.3"/><circle cx="407.7" cy="204" r="4.3"/><circle cx="601.5" cy="227.9" r="4.3"/><circle cx="450.4" cy="192.8" r="4.3"/><circle cx="408.4" cy="156.4" r="4.3"/><circle cx="534.5" cy="184" r="4.3"/><circle cx="365.5" cy="154.5" r="4.3"/><circle cx="474.6" cy="200.5" r="4.3"/><circle cx="566.7" cy="235.8" r="4.3"/><circle cx="611.5" cy="259.8" r="4.3"/><circle cx="539.3" cy="209.3" r="4.3"/><circle cx="503.2" cy="186.1" r="4.3"/><circle cx="407.2" cy="165.2" r="4.3"/><circle cx="374.6" cy="175.4" r="4.3"/><circle cx="385.7" cy="176.6" r="4.3"/><circle cx="618.6" cy="240.9" r="4.3"/><circle cx="454.3" cy="175.1" r="4.3"/><circle cx="437.2" cy="134.7" r="4.3"/><circle cx="556.4" cy="247.5" r="4.3"/><circle cx="549.8" cy="221.2" r="4.3"/><circle cx="461.3" cy="183.6" r="4.3"/><circle cx="397" cy="139.1" r="4.3"/><circle cx="424.5" cy="153.2" r="4.3"/><circle cx="443.9" cy="171.7" r="4.3"/><circle cx="437.4" cy="151.5" r="4.3"/><circle cx="543.6" cy="208.6" r="4.3"/><circle cx="361.6" cy="154" r="4.3"/><circle cx="384.2" cy="136.7" r="4.3"/><circle cx="555.6" cy="192.3" r="4.3"/><circle cx="428.9" cy="178.4" r="4.3"/><circle cx="541" cy="219.1" r="4.3"/><circle cx="511.1" cy="224.3" r="4.3"/><circle cx="426" cy="178.8" r="4.3"/><circle cx="338.8" cy="129.6" r="4.3"/><circle cx="541.5" cy="229.3" r="4.3"/><circle cx="471.6" cy="183.1" r="4.3"/><circle cx="449.2" cy="190.7" r="4.3"/><circle cx="357.4" cy="167.6" r="4.3"/><circle cx="545.7" cy="196.6" r="4.3"/><circle cx="532.7" cy="213.8" r="4.3"/><circle cx="554" cy="282.1" r="4.3"/><circle cx="482.5" cy="213.1" r="4.3"/><circle cx="531.2" cy="252.4" r="4.3"/><circle cx="398.3" cy="136" r="4.3"/><circle cx="522.8" cy="217.4" r="4.3"/><circle cx="503.7" cy="255.4" r="4.3"/><circle cx="386.1" cy="140" r="4.3"/><circle cx="505.1" cy="218.3" r="4.3"/><circle cx="602.4" cy="240.8" r="4.3"/><circle cx="444.7" cy="139.1" r="4.3"/><circle cx="383.7" cy="155.7" r="4.3"/><circle cx="450.5" cy="212.8" r="4.3"/><circle cx="607" cy="246.7" r="4.3"/><circle cx="623.8" cy="284.4" r="4.3"/><circle cx="372.7" cy="143.7" r="4.3"/><circle cx="476" cy="154.2" r="4.3"/><circle cx="486.1" cy="165.7" r="4.3"/><circle cx="483.5" cy="200.8" r="4.3"/><circle cx="478.7" cy="217.7" r="4.3"/><circle cx="449.8" cy="224.9" r="4.3"/><circle cx="507.7" cy="238" r="4.3"/><circle cx="483.2" cy="198.6" r="4.3"/><circle cx="589.8" cy="253.2" r="4.3"/><circle cx="465.5" cy="165" r="4.3"/><circle cx="466" cy="189" r="4.3"/><circle cx="439.5" cy="176.9" r="4.3"/><circle cx="503.7" cy="179.4" r="4.3"/><circle cx="490.9" cy="230.7" r="4.3"/><circle cx="484.6" cy="173" r="4.3"/><circle cx="550" cy="204.1" r="4.3"/><circle cx="509.9" cy="189.6" r="4.3"/><circle cx="520.8" cy="290.3" r="4.3"/><circle cx="580.8" cy="268.1" r="4.3"/><circle cx="461.5" cy="165.1" r="4.3"/><circle cx="573" cy="213.5" r="4.3"/><circle cx="509.8" cy="253.6" r="4.3"/><circle cx="496.9" cy="204" r="4.3"/><circle cx="434.5" cy="185.1" r="4.3"/><circle cx="432.2" cy="151.4" r="4.3"/><circle cx="551.9" cy="232.1" r="4.3"/><circle cx="541" cy="253.7" r="4.3"/><circle cx="521.9" cy="178.2" r="4.3"/><circle cx="599.8" cy="231.5" r="4.3"/><circle cx="581.9" cy="245.5" r="4.3"/><circle cx="380" cy="187.2" r="4.3"/><circle cx="567.5" cy="269.4" r="4.3"/><circle cx="398.7" cy="240.3" r="4.3"/><circle cx="549.8" cy="249.6" r="4.3"/><circle cx="416" cy="155.8" r="4.3"/><circle cx="481" cy="175.4" r="4.3"/><circle cx="471.7" cy="205.6" r="4.3"/><circle cx="505" cy="249.8" r="4.3"/><circle cx="670.2" cy="228.6" r="4.3"/><circle cx="451.2" cy="168.8" r="4.3"/><circle cx="479.4" cy="219.7" r="4.3"/><circle cx="493.1" cy="225.2" r="4.3"/><circle cx="561" cy="274.9" r="4.3"/><circle cx="544" cy="180.2" r="4.3"/><circle cx="412.2" cy="156.1" r="4.3"/><circle cx="598.8" cy="233.2" r="4.3"/><circle cx="567.9" cy="232.7" r="4.3"/><circle cx="593.3" cy="222" r="4.3"/><circle cx="606.3" cy="254.5" r="4.3"/><circle cx="386.3" cy="209.6" r="4.3"/><circle cx="553.9" cy="260.5" r="4.3"/><circle cx="442.9" cy="158.7" r="4.3"/><circle cx="497.7" cy="219" r="4.3"/><circle cx="457.9" cy="171.4" r="4.3"/><circle cx="437.8" cy="170.7" r="4.3"/><circle cx="413" cy="202.1" r="4.3"/><circle cx="405.1" cy="164.2" r="4.3"/><circle cx="495.4" cy="186.2" r="4.3"/><circle cx="530.9" cy="259.8" r="4.3"/><circle cx="401.4" cy="170.6" r="4.3"/><circle cx="505.4" cy="171.9" r="4.3"/><circle cx="385.7" cy="164.9" r="4.3"/><circle cx="434.9" cy="170.8" r="4.3"/><circle cx="480.2" cy="200.8" r="4.3"/><circle cx="527.6" cy="211.3" r="4.3"/><circle cx="401" cy="139" r="4.3"/><circle cx="446.1" cy="177.8" r="4.3"/><circle cx="475.8" cy="175.8" r="4.3"/><circle cx="514.3" cy="183.2" r="4.3"/><circle cx="438.6" cy="152.9" r="4.3"/><circle cx="467.3" cy="211.3" r="4.3"/><circle cx="349.9" cy="178.9" r="4.3"/><circle cx="413.1" cy="188.4" r="4.3"/><circle cx="425.2" cy="159.8" r="4.3"/><circle cx="336.8" cy="129.3" r="4.3"/><circle cx="570.6" cy="287.3" r="4.3"/><circle cx="479.4" cy="153.5" r="4.3"/><circle cx="562.5" cy="220.6" r="4.3"/><circle cx="451.8" cy="149.6" r="4.3"/><circle cx="447.5" cy="179.4" r="4.3"/><circle cx="449.3" cy="157.3" r="4.3"/><circle cx="433.9" cy="196.9" r="4.3"/><circle cx="608.4" cy="238.1" r="4.3"/><circle cx="476.3" cy="179.3" r="4.3"/><circle cx="558.1" cy="245.3" r="4.3"/><circle cx="603.6" cy="238.1" r="4.3"/><circle cx="585.5" cy="240.9" r="4.3"/><circle cx="424.6" cy="191.9" r="4.3"/><circle cx="559.5" cy="231.5" r="4.3"/><circle cx="439.5" cy="176.6" r="4.3"/><circle cx="421.7" cy="223.1" r="4.3"/><circle cx="381.5" cy="150.5" r="4.3"/><circle cx="475.1" cy="213.8" r="4.3"/><circle cx="563.1" cy="226.1" r="4.3"/><circle cx="447.6" cy="171.8" r="4.3"/><circle cx="461" cy="171.1" r="4.3"/><circle cx="489.6" cy="201.8" r="4.3"/><circle cx="419.2" cy="187.6" r="4.3"/><circle cx="503" cy="182.7" r="4.3"/><circle cx="403.9" cy="146" r="4.3"/><circle cx="535.4" cy="198" r="4.3"/><circle cx="377.4" cy="143.6" r="4.3"/><circle cx="479.3" cy="174.6" r="4.3"/><circle cx="474.9" cy="224.2" r="4.3"/><circle cx="575.7" cy="244.2" r="4.3"/><circle cx="408.6" cy="201.7" r="4.3"/><circle cx="408.1" cy="150.2" r="4.3"/><circle cx="559.7" cy="211.7" r="4.3"/><circle cx="546.7" cy="238.9" r="4.3"/><circle cx="357.4" cy="151.3" r="4.3"/><circle cx="404" cy="158.3" r="4.3"/><circle cx="515.2" cy="184" r="4.3"/><circle cx="470.4" cy="187.4" r="4.3"/><circle cx="444.3" cy="159.2" r="4.3"/><circle cx="450.1" cy="205.9" r="4.3"/><circle cx="514.5" cy="224.5" r="4.3"/><circle cx="498.2" cy="255.7" r="4.3"/><circle cx="445.8" cy="170" r="4.3"/><circle cx="525.9" cy="229.8" r="4.3"/><circle cx="458.3" cy="236.5" r="4.3"/><circle cx="537.4" cy="276.9" r="4.3"/><circle cx="498.3" cy="213.9" r="4.3"/><circle cx="500.5" cy="153.2" r="4.3"/><circle cx="525.2" cy="243.7" r="4.3"/><circle cx="502.2" cy="304.7" r="4.3"/><circle cx="602.1" cy="261.1" r="4.3"/><circle cx="536.4" cy="188.4" r="4.3"/><circle cx="539.2" cy="254.2" r="4.3"/><circle cx="473.1" cy="215.8" r="4.3"/><circle cx="536.7" cy="259.9" r="4.3"/><circle cx="592.5" cy="272" r="4.3"/><circle cx="511.4" cy="178.4" r="4.3"/><circle cx="321.4" cy="137.3" r="4.3"/><circle cx="489.5" cy="184.6" r="4.3"/><circle cx="509.5" cy="217.8" r="4.3"/><circle cx="442" cy="142.6" r="4.3"/><circle cx="524.8" cy="195.6" r="4.3"/><circle cx="539.5" cy="243.9" r="4.3"/><circle cx="608" cy="225.2" r="4.3"/><circle cx="612.1" cy="235.1" r="4.3"/><circle cx="426.7" cy="137.5" r="4.3"/><circle cx="639.3" cy="246.8" r="4.3"/><circle cx="552.1" cy="224.9" r="4.3"/><circle cx="475.8" cy="188.8" r="4.3"/><circle cx="565.8" cy="259.1" r="4.3"/><circle cx="468.4" cy="158.5" r="4.3"/><circle cx="523.2" cy="210.3" r="4.3"/><circle cx="416.6" cy="169.6" r="4.3"/><circle cx="538.8" cy="216.1" r="4.3"/><circle cx="350.1" cy="180.9" r="4.3"/><circle cx="365.6" cy="148.3" r="4.3"/><circle cx="493.2" cy="264.7" r="4.3"/><circle cx="381.4" cy="154.9" r="4.3"/><circle cx="534" cy="221.2" r="4.3"/><circle cx="389" cy="215.9" r="4.3"/><circle cx="437.6" cy="164.6" r="4.3"/><circle cx="335.7" cy="129.4" r="4.3"/><circle cx="342.1" cy="128.9" r="4.3"/><circle cx="301.9" cy="129.4" r="4.3"/><circle cx="346.9" cy="132.5" r="4.3"/><circle cx="305.6" cy="132" r="4.3"/><circle cx="317.5" cy="106.4" r="4.3"/><circle cx="348.6" cy="108.8" r="4.3"/><circle cx="331" cy="130.6" r="4.3"/><circle cx="332.5" cy="140.7" r="4.3"/><circle cx="317.4" cy="107.3" r="4.3"/><circle cx="353.7" cy="145.2" r="4.3"/><circle cx="336" cy="132.4" r="4.3"/><circle cx="336.9" cy="132.9" r="4.3"/><circle cx="343" cy="110.3" r="4.3"/><circle cx="340.1" cy="148.4" r="4.3"/><circle cx="317.1" cy="147.6" r="4.3"/><circle cx="335.7" cy="147.3" r="4.3"/><circle cx="322.5" cy="126.1" r="4.3"/><circle cx="330.9" cy="102" r="4.3"/><circle cx="326.9" cy="98.8" r="4.3"/><circle cx="351.2" cy="123.6" r="4.3"/><circle cx="310.8" cy="144.5" r="4.3"/><circle cx="314.1" cy="119.1" r="4.3"/><circle cx="335.8" cy="146.7" r="4.3"/><circle cx="319" cy="106.1" r="4.3"/><circle cx="324" cy="108.8" r="4.3"/><circle cx="312.4" cy="114.6" r="4.3"/><circle cx="317.6" cy="148.5" r="4.3"/><circle cx="312.8" cy="98.7" r="4.3"/><circle cx="305.2" cy="104.6" r="4.3"/><circle cx="334.4" cy="152.2" r="4.3"/><circle cx="318.6" cy="119.5" r="4.3"/><circle cx="341.1" cy="152.5" r="4.3"/><circle cx="322.9" cy="132.7" r="4.3"/><circle cx="343.9" cy="127.9" r="4.3"/><circle cx="323.7" cy="108.1" r="4.3"/><circle cx="317.4" cy="126.5" r="4.3"/><circle cx="343.5" cy="119.7" r="4.3"/><circle cx="323.7" cy="138.8" r="4.3"/><circle cx="324" cy="137.8" r="4.3"/><circle cx="312.4" cy="130.1" r="4.3"/><circle cx="337.1" cy="130.1" r="4.3"/><circle cx="317.7" cy="147.5" r="4.3"/><circle cx="345.3" cy="116.5" r="4.3"/><circle cx="310.6" cy="107.6" r="4.3"/><circle cx="346.7" cy="119.7" r="4.3"/><circle cx="345.8" cy="133.3" r="4.3"/><circle cx="320.6" cy="122.9" r="4.3"/><circle cx="329.5" cy="143.7" r="4.3"/><circle cx="328.9" cy="148.4" r="4.3"/><circle cx="343.3" cy="132.8" r="4.3"/><circle cx="320" cy="132.9" r="4.3"/><circle cx="350.1" cy="135.5" r="4.3"/><circle cx="313.1" cy="129.9" r="4.3"/><circle cx="352.7" cy="139.7" r="4.3"/><circle cx="346.2" cy="132.9" r="4.3"/><circle cx="348.2" cy="150.6" r="4.3"/><circle cx="310.8" cy="127.5" r="4.3"/><circle cx="348.7" cy="117.7" r="4.3"/><circle cx="331.3" cy="142.8" r="4.3"/><circle cx="322.1" cy="132.4" r="4.3"/><circle cx="325.7" cy="108.1" r="4.3"/><circle cx="347.2" cy="146.5" r="4.3"/><circle cx="314.3" cy="109.7" r="4.3"/><circle cx="316.1" cy="106.7" r="4.3"/><circle cx="332.1" cy="104.2" r="4.3"/><circle cx="341" cy="147.3" r="4.3"/><circle cx="331.2" cy="133.1" r="4.3"/><circle cx="333.7" cy="129.2" r="4.3"/><circle cx="333.2" cy="121.3" r="4.3"/><circle cx="314" cy="120.2" r="4.3"/><circle cx="322.7" cy="115.3" r="4.3"/><circle cx="327" cy="124.3" r="4.3"/><circle cx="351.9" cy="145.7" r="4.3"/><circle cx="321.6" cy="126.8" r="4.3"/><circle cx="194.4" cy="86" r="4.3"/><circle cx="218.1" cy="86" r="4.3"/><circle cx="221.5" cy="77.3" r="4.3"/><circle cx="236.2" cy="81.6" r="4.3"/><circle cx="239.7" cy="87.7" r="4.3"/><circle cx="244" cy="92" r="4.3"/><circle cx="241.4" cy="100.7" r="4.3"/><circle cx="250.9" cy="102" r="4.3"/><circle cx="258.7" cy="95.5" r="4.3"/><circle cx="260.4" cy="100.7" r="4.3"/><circle cx="268.8" cy="111.4" r="4.3"/><circle cx="280.3" cy="110.2" r="4.3"/><circle cx="278.3" cy="88.5" r="4.3"/><circle cx="284.7" cy="77.3" r="4.3"/><circle cx="289.9" cy="88.5" r="4.3"/><circle cx="292.5" cy="91.1" r="4.3"/><circle cx="300.6" cy="83.7" r="4.3"/><circle cx="289" cy="98.9" r="4.3"/><circle cx="281.7" cy="124.9" r="4.3"/><circle cx="291.1" cy="126.6" r="4.3"/><circle cx="291.1" cy="130.9" r="4.3"/><circle cx="247" cy="152" r="4.3"/><circle cx="266.9" cy="150" r="4.3"/><circle cx="291.1" cy="150" r="4.3"/><circle cx="314.1" cy="94.1" r="4.3"/><circle cx="304.6" cy="96.3" r="4.3"/><circle cx="302" cy="100.7" r="4.3"/><circle cx="299.4" cy="105" r="4.3"/><circle cx="303.7" cy="110.2" r="4.3"/><circle cx="301.1" cy="118.8" r="4.3"/><circle cx="308" cy="126.6" r="4.3"/><circle cx="299.4" cy="134.4" r="4.3"/><circle cx="295.1" cy="140.4" r="4.3"/><circle cx="297.6" cy="143" r="4.3"/><circle cx="308.9" cy="139.6" r="4.3"/><circle cx="312.4" cy="142.2" r="4.3"/><circle cx="323.6" cy="100.7" r="4.3"/><circle cx="316.7" cy="107.6" r="4.3"/><circle cx="321.9" cy="111.9" r="4.3"/><circle cx="336.6" cy="105.8" r="4.3"/><circle cx="353" cy="93.7" r="4.3"/><circle cx="355.6" cy="98.1" r="4.3"/><circle cx="359.9" cy="97.2" r="4.3"/><circle cx="370.3" cy="97.2" r="4.3"/><circle cx="372" cy="106.7" r="4.3"/><circle cx="313.2" cy="129.2" r="4.3"/><circle cx="318.4" cy="136.1" r="4.3"/><circle cx="382.6" cy="111.1" r="4.3"/><circle cx="390.4" cy="122.4" r="4.3"/><circle cx="406" cy="125.8" r="4.3"/><circle cx="415.5" cy="122.4" r="4.3"/><circle cx="420.1" cy="123.6" r="4.3"/><circle cx="431.4" cy="126.4" r="4.3"/><circle cx="452.3" cy="125.8" r="4.3"/><circle cx="479.8" cy="141.4" r="4.3"/><circle cx="490.2" cy="147.1" r="4.3"/><circle cx="498" cy="147.5" r="4.3"/><circle cx="502.5" cy="153.5" r="4.3"/><circle cx="512.4" cy="158.7" r="4.3"/><circle cx="532.2" cy="158.4" r="4.3"/><circle cx="521.9" cy="163.9" r="4.3"/><circle cx="552.1" cy="161.3" r="4.3"/><circle cx="554.7" cy="166" r="4.3"/><circle cx="534.8" cy="170.3" r="4.3"/><circle cx="541.8" cy="170.8" r="4.3"/><circle cx="547.5" cy="173.4" r="4.3"/><circle cx="565.1" cy="179.5" r="4.3"/><circle cx="574.6" cy="189" r="4.3"/><circle cx="587.1" cy="190.2" r="4.3"/><circle cx="583.3" cy="195" r="4.3"/><circle cx="604" cy="187.6" r="4.3"/><circle cx="601.9" cy="191" r="4.3"/><circle cx="621.8" cy="189.3" r="4.3"/><circle cx="651.2" cy="182.9" r="4.3"/><circle cx="638.6" cy="200.9" r="4.3"/><circle cx="594.5" cy="198" r="4.3"/><circle cx="598.8" cy="200.6" r="4.3"/><circle cx="603.1" cy="206.1" r="4.3"/><circle cx="596.2" cy="205.7" r="4.3"/><circle cx="645" cy="215.6" r="4.3"/><circle cx="655.6" cy="217.3" r="4.3"/><circle cx="653.3" cy="222.2" r="4.3"/><circle cx="656.8" cy="230.3" r="4.3"/><circle cx="622.7" cy="220.4" r="4.3"/><circle cx="664.6" cy="240.3" r="4.3"/><circle cx="683.6" cy="239.5" r="4.3"/><circle cx="707" cy="239.5" r="4.3"/><circle cx="607.5" cy="221.3" r="4.3"/><circle cx="795.6" cy="277.6" r="4.3"/><circle cx="742" cy="282.8" r="4.3"/><circle cx="728.5" cy="280.9" r="4.3"/><circle cx="722.9" cy="275.7" r="4.3"/><circle cx="720.9" cy="266.7" r="4.3"/><circle cx="709.4" cy="263.8" r="4.3"/><circle cx="702.2" cy="254.6" r="4.3"/><circle cx="685.4" cy="251.1" r="4.3"/><circle cx="686.1" cy="254.6" r="4.3"/><circle cx="665.3" cy="246" r="4.3"/><circle cx="670.2" cy="248" r="4.3"/><circle cx="662.9" cy="254.6" r="4.3"/><circle cx="674.8" cy="259.4" r="4.3"/><circle cx="673.6" cy="263.3" r="4.3"/><circle cx="684" cy="264.5" r="4.3"/><circle cx="688.3" cy="270.2" r="4.3"/><circle cx="694.4" cy="278" r="4.3"/><circle cx="699.9" cy="275.4" r="4.3"/><circle cx="671.4" cy="279.7" r="4.3"/><circle cx="678.8" cy="282.6" r="4.3"/><circle cx="670.2" cy="297.5" r="4.3"/><circle cx="700.8" cy="303.9" r="4.3"/><circle cx="669.3" cy="310.5" r="4.3"/><circle cx="681.8" cy="309.1" r="4.3"/><circle cx="677.1" cy="317.8" r="4.3"/><circle cx="666.4" cy="318.6" r="4.3"/><circle cx="630.4" cy="315.2" r="4.3"/><circle cx="652" cy="252" r="4.3"/><circle cx="652" cy="260.7" r="4.3"/><circle cx="659.4" cy="270.2" r="4.3"/><circle cx="655.8" cy="283.1" r="4.3"/><circle cx="658.9" cy="290.1" r="4.3"/><circle cx="646" cy="294.4" r="4.3"/><circle cx="638.2" cy="289.2" r="4.3"/><circle cx="635.6" cy="300.4" r="4.3"/><circle cx="647.7" cy="273.6" r="4.3"/><circle cx="639" cy="271.9" r="4.3"/><circle cx="665" cy="327.2" r="4.3"/><circle cx="653.7" cy="326.3" r="4.3"/><circle cx="647.7" cy="332.4" r="4.3"/><circle cx="642.5" cy="332.9" r="4.3"/><circle cx="628.1" cy="331.7" r="4.3"/><circle cx="632.1" cy="341" r="4.3"/><circle cx="637.8" cy="345" r="4.3"/><circle cx="632.1" cy="349.8" r="4.3"/><circle cx="644.2" cy="354.8" r="4.3"/><circle cx="686.1" cy="344.1" r="4.3"/><circle cx="701.8" cy="351.4" r="4.3"/><circle cx="716.5" cy="325.1" r="4.3"/><circle cx="722.1" cy="324.2" r="4.3"/><circle cx="738" cy="323.9" r="4.3"/><circle cx="771.4" cy="334.6" r="4.3"/><circle cx="754.6" cy="345.3" r="4.3"/><circle cx="756.7" cy="381.8" r="4.3"/><circle cx="675.7" cy="371.3" r="4.3"/><circle cx="631.2" cy="372.1" r="4.3"/><circle cx="637.6" cy="375.6" r="4.3"/><circle cx="645.1" cy="392.6" r="4.3"/><circle cx="677.6" cy="392.6" r="4.3"/><circle cx="620" cy="325.1" r="4.3"/><circle cx="645.1" cy="300" r="4.3"/><circle cx="449.2" cy="350.2" r="4.3"/><circle cx="458.7" cy="293.8" r="4.3"/><circle cx="476.3" cy="291.4" r="4.3"/><circle cx="499.7" cy="292.1" r="4.3"/><circle cx="495.4" cy="330.3" r="4.3"/><circle cx="501.8" cy="314.7" r="4.3"/><circle cx="504" cy="306.8" r="4.3"/><circle cx="511.8" cy="310.4" r="4.3"/><circle cx="512.3" cy="300.4" r="4.3"/><circle cx="514.4" cy="306.4" r="4.3"/><circle cx="518.7" cy="330.1" r="4.3"/><circle cx="519.6" cy="333.6" r="4.3"/><circle cx="524.8" cy="348.3" r="4.3"/><circle cx="538.6" cy="363" r="4.3"/><circle cx="529.1" cy="303.8" r="4.3"/><circle cx="538.6" cy="317.7" r="4.3"/><circle cx="548.1" cy="321.1" r="4.3"/><circle cx="549" cy="312.8" r="4.3"/><circle cx="561.1" cy="316" r="4.3"/><circle cx="564.6" cy="325.1" r="4.3"/><circle cx="573.2" cy="323.7" r="4.3"/><circle cx="572.4" cy="316.8" r="4.3"/><circle cx="583.6" cy="312" r="4.3"/><circle cx="589.7" cy="321.1" r="4.3"/><circle cx="597.4" cy="323.7" r="4.3"/><circle cx="602.6" cy="311.6" r="4.3"/><circle cx="611.3" cy="312.5" r="4.3"/><circle cx="609.6" cy="300.4" r="4.3"/><circle cx="598.7" cy="336.7" r="4.3"/><circle cx="586.2" cy="347.1" r="4.3"/><circle cx="601.8" cy="351.4" r="4.3"/><circle cx="595.7" cy="374.8" r="4.3"/><circle cx="653.3" cy="405.4" r="4.3"/><circle cx="653.3" cy="469.3" r="4.3"/><circle cx="592.3" cy="496.6" r="4.3"/><circle cx="297.3" cy="191.9" r="4.3"/><circle cx="323.8" cy="192.8" r="4.3"/><circle cx="318.4" cy="201.8" r="4.3"/><circle cx="342.8" cy="201.4" r="4.3"/><circle cx="354.4" cy="218.7" r="4.3"/><circle cx="366" cy="233.4" r="4.3"/><circle cx="312.9" cy="174.6" r="4.3"/><circle cx="312" cy="167.7" r="4.3"/><circle cx="308.5" cy="159.9" r="4.3"/><circle cx="318.1" cy="172" r="4.3"/><circle cx="324.1" cy="166" r="4.3"/><circle cx="333.6" cy="175.5" r="4.3"/><circle cx="400.6" cy="234.3" r="4.3"/><circle cx="375.2" cy="247.7" r="4.3"/><circle cx="382" cy="251.5" r="4.3"/><circle cx="413.3" cy="261" r="4.3"/><circle cx="425.7" cy="252" r="4.3"/><circle cx="430.6" cy="259.8" r="4.3"/><circle cx="428" cy="266.2" r="4.3"/><circle cx="430.9" cy="299.9" r="4.3"/><circle cx="447.9" cy="270.5" r="4.3"/><circle cx="457.4" cy="271.4" r="4.3"/><circle cx="465" cy="281.4" r="4.3"/><circle cx="465.9" cy="285.4" r="4.3"/><circle cx="475.1" cy="283.1" r="4.3"/><circle cx="481.1" cy="287" r="4.3"/>
</g>
<path d="M149 53.9L816.9 357.4" stroke="#f00" stroke-width="2" fill="none" stroke-linecap="square"/>
<rect x="116.5" y="32.6" width="733.9" height="486.2" fill="none" stroke="#000" stroke-width="1.5"/>
<path d="M149.05 518.8v5.6M232.55 518.8v5.6M316.05 518.8v5.6M399.55 518.8v5.6M483.05 518.8v5.6M566.55 518.8v5.6M650.05 518.8v5.6M733.55 518.8v5.6M817.05 518.8v5.6M116.5 77.50h-5.6M116.5 153.65h-5.6M116.5 229.80h-5.6M116.5 305.95h-5.6M116.5 382.10h-5.6M116.5 458.25h-5.6" stroke="#000" stroke-width="1.5" fill="none"/>
<g font-family='"DejaVu Sans","Liberation Sans",sans-serif' font-size="18.8" fill="#000">
<text x="149.05" y="544.3" text-anchor="middle">20</text>
<text x="232.55" y="544.3" text-anchor="middle">25</text>
<text x="316.05" y="544.3" text-anchor="middle">30</text>
<text x="399.55" y="544.3" text-anchor="middle">35</text>
<text x="483.05" y="544.3" text-anchor="middle">40</text>
<text x="566.55" y="544.3" text-anchor="middle">45</text>
<text x="650.05" y="544.3" text-anchor="middle">50</text>
<text x="733.55" y="544.3" text-anchor="middle">55</text>
<text x="817.05" y="544.3" text-anchor="middle">60</text>
<text x="104.6" y="84.40" text-anchor="end">0.000</text>
<text x="104.6" y="160.55" text-anchor="end">−0.005</text>
<text x="104.6" y="236.70" text-anchor="end">−0.010</text>
<text x="104.6" y="312.85" text-anchor="end">−0.015</text>
<text x="104.6" y="389.00" text-anchor="end">−0.020</text>
<text x="104.6" y="465.15" text-anchor="end">−0.025</text>
</g>
<text x="482.7" y="569.6" text-anchor="middle" font-family='"DejaVu Sans","Liberation Sans",sans-serif' font-size="21.9" fill="#000">Pulse Pressure (mmHg)</text>
<text transform="translate(19.9 356.2) rotate(-90)" font-family='"DejaVu Sans","Liberation Sans",sans-serif' font-size="21.9" fill="#000">max|ΔPTT<tspan font-style="italic" font-size="15.33" dy="3.6">distal</tspan><tspan dy="-3.6">|</tspan></text>
<rect x="696.5" y="40.1" width="146.8" height="25.7" rx="2.6" fill="#fff" fill-opacity=".8" stroke="#ccc" stroke-opacity=".8" stroke-width="1.28"/>
<path d="M700.2 51.9H732.2" stroke="#f00" stroke-width="2.4"/>
<text x="742.2" y="57.3" transform="matrix(1 0 0 1.07 0 -4.011)" font-family='"DejaVu Sans","Liberation Sans",sans-serif' font-size="14.75" fill="#000">Linear Model</text>
<text y="22.6" style="stroke-width:.3px" transform="matrix(1 0 0 1.055 0 -1.243)" font-family='"DejaVu Sans","Liberation Sans",sans-serif' font-size="21.9" fill="#000" xml:space="preserve"><tspan x="196.6" font-style="italic" y="22.6">max</tspan><tspan x="245.0" y="24.4">|</tspan><tspan x="251.2" y="22.6">Δ</tspan><tspan x="266.2" font-style="italic" y="22.6">PTT</tspan><tspan x="306.5" font-style="italic" y="26.2" font-size="15.33">distal</tspan><tspan x="349.0" y="24.4">|</tspan><tspan x="360.0" y="22.6">=</tspan><tspan x="383.6" y="22.6">0.0005</tspan><tspan x="464.0" y="22.6">*</tspan><tspan x="479.5" font-style="italic" y="22.6">PP</tspan><tspan x="510.3" y="22.6">−</tspan><tspan x="532.8" y="22.6">0.0115;</tspan><tspan x="652.6" font-style="italic" y="22.6">R</tspan><tspan x="669.0" y="15.0" font-size="14.34">2</tspan><tspan x="683.6" y="22.6">=</tspan><tspan x="706.4" y="22.6">0.585</tspan></text>
<text x="7.2" y="33.9" font-family='"Liberation Sans",sans-serif' font-weight="bold" font-size="37.8" fill="#000">A</text>
<text x="908.5" y="30.9" font-family='"Liberation Sans",sans-serif' font-weight="bold" font-size="37.5" fill="#000">B</text>
<path d="M1151.5 398.2L1312.5 263.3L1310.2 68.7L1141.6 191.8Z" fill="#f2f2f2" fill-opacity=".5"/>
<path d="M1312.5 263.3L1570.8 338.4L1580.0 137.1L1310.2 68.7Z" fill="#e6e6e6" fill-opacity=".5"/>
<path d="M1151.5 398.2L1425.3 487.6L1570.8 338.4L1312.5 263.3Z" fill="#ececec" fill-opacity=".5"/>
<path d="M1167.7 403.5L1327.9 267.7L1326.3 72.7M1225.6 422.4L1382.6 283.6L1383.3 87.2M1284.7 441.7L1438.4 299.9L1441.6 102.0M1345.2 461.5L1495.5 316.5L1501.2 117.1M1407.2 481.7L1553.8 333.4L1562.2 132.5M1445.4 467.1L1173.6 379.7L1164.8 174.8M1470.1 441.7L1200.9 356.8L1193.4 153.9M1494.0 417.1L1227.4 334.6L1221.2 133.6M1517.3 393.2L1253.1 313.0L1248.2 113.9M1539.9 370.0L1278.2 292.0L1274.5 94.8M1561.9 347.4L1302.6 271.5L1300.0 76.2M1144.3 249.6L1310.9 123.1L1577.4 193.4M1146.8 300.1L1311.4 170.6L1575.2 242.6M1149.2 349.5L1311.9 217.3L1573.0 290.8" stroke="#b6b6b6" stroke-width="1.5" fill="none" stroke-linejoin="round"/>
<g fill="#1f77b4" stroke="#1f77b4" stroke-width="1"><circle cx="1355.7" cy="153.4" r="3.2" opacity="0.40"/><circle cx="1313.0" cy="164.3" r="3.2" opacity="0.40"/><circle cx="1371.3" cy="173.6" r="3.2" opacity="0.45"/><circle cx="1365.1" cy="176.1" r="3.2" opacity="0.46"/><circle cx="1326.1" cy="178.3" r="3.2" opacity="0.47"/><circle cx="1331.4" cy="179.8" r="3.2" opacity="0.48"/><circle cx="1357.1" cy="183.9" r="3.2" opacity="0.50"/><circle cx="1332.4" cy="186.1" r="3.2" opacity="0.51"/><circle cx="1378.2" cy="188.2" r="3.2" opacity="0.53"/><circle cx="1318.3" cy="188.2" r="3.2" opacity="0.53"/><circle cx="1341.1" cy="188.2" r="3.2" opacity="0.53"/><circle cx="1347.9" cy="191.7" r="3.2" opacity="0.55"/><circle cx="1352.9" cy="192.5" r="3.2" opacity="0.55"/><circle cx="1333.9" cy="194.5" r="3.2" opacity="0.56"/><circle cx="1357.3" cy="194.5" r="3.2" opacity="0.56"/><circle cx="1349.9" cy="195.3" r="3.2" opacity="0.57"/><circle cx="1320.5" cy="195.4" r="3.2" opacity="0.57"/><circle cx="1337.0" cy="195.7" r="3.2" opacity="0.57"/><circle cx="1295.9" cy="196.0" r="3.2" opacity="0.57"/><circle cx="1382.2" cy="196.3" r="3.2" opacity="0.57"/><circle cx="1389.0" cy="196.3" r="3.2" opacity="0.57"/><circle cx="1352.0" cy="196.9" r="3.2" opacity="0.57"/><circle cx="1338.6" cy="197.0" r="3.2" opacity="0.57"/><circle cx="1284.1" cy="197.0" r="3.2" opacity="0.57"/><circle cx="1343.5" cy="197.3" r="3.2" opacity="0.58"/><circle cx="1350.3" cy="197.6" r="3.2" opacity="0.58"/><circle cx="1395.6" cy="198.5" r="3.2" opacity="0.58"/><circle cx="1353.2" cy="198.5" r="3.2" opacity="0.58"/><circle cx="1316.8" cy="199.1" r="3.2" opacity="0.59"/><circle cx="1385.7" cy="199.7" r="3.2" opacity="0.59"/><circle cx="1352.6" cy="200.1" r="3.2" opacity="0.59"/><circle cx="1419.6" cy="200.1" r="3.2" opacity="0.59"/><circle cx="1324.6" cy="202.3" r="3.2" opacity="0.60"/><circle cx="1291.2" cy="202.3" r="3.2" opacity="0.60"/><circle cx="1357.5" cy="203.1" r="3.2" opacity="0.61"/><circle cx="1332.4" cy="203.2" r="3.2" opacity="0.61"/><circle cx="1351.2" cy="203.6" r="3.2" opacity="0.61"/><circle cx="1339.6" cy="203.8" r="3.2" opacity="0.61"/><circle cx="1383.7" cy="203.8" r="3.2" opacity="0.61"/><circle cx="1352.1" cy="204.9" r="3.2" opacity="0.62"/><circle cx="1320.3" cy="205.4" r="3.2" opacity="0.62"/><circle cx="1338.8" cy="205.4" r="3.2" opacity="0.62"/><circle cx="1369.4" cy="205.7" r="3.2" opacity="0.62"/><circle cx="1299.0" cy="206.3" r="3.2" opacity="0.63"/><circle cx="1325.8" cy="206.7" r="3.2" opacity="0.63"/><circle cx="1313.3" cy="207.6" r="3.2" opacity="0.63"/><circle cx="1360.0" cy="207.7" r="3.2" opacity="0.63"/><circle cx="1349.5" cy="207.8" r="3.2" opacity="0.63"/><circle cx="1248.3" cy="207.9" r="3.2" opacity="0.63"/><circle cx="1398.7" cy="207.9" r="3.2" opacity="0.63"/><circle cx="1408.5" cy="208.6" r="3.2" opacity="0.64"/><circle cx="1312.7" cy="208.9" r="3.2" opacity="0.64"/><circle cx="1349.1" cy="209.0" r="3.2" opacity="0.64"/><circle cx="1346.3" cy="209.7" r="3.2" opacity="0.64"/><circle cx="1353.9" cy="210.0" r="3.2" opacity="0.65"/><circle cx="1388.1" cy="210.0" r="3.2" opacity="0.65"/><circle cx="1334.2" cy="210.4" r="3.2" opacity="0.65"/><circle cx="1351.7" cy="210.5" r="3.2" opacity="0.65"/><circle cx="1371.1" cy="210.5" r="3.2" opacity="0.65"/><circle cx="1349.4" cy="210.7" r="3.2" opacity="0.65"/><circle cx="1352.2" cy="210.7" r="3.2" opacity="0.65"/><circle cx="1343.9" cy="210.8" r="3.2" opacity="0.65"/><circle cx="1288.8" cy="211.6" r="3.2" opacity="0.65"/><circle cx="1328.9" cy="211.8" r="3.2" opacity="0.66"/><circle cx="1343.8" cy="212.1" r="3.2" opacity="0.66"/><circle cx="1431.9" cy="212.4" r="3.2" opacity="0.66"/><circle cx="1367.4" cy="212.4" r="3.2" opacity="0.66"/><circle cx="1287.6" cy="212.5" r="3.2" opacity="0.66"/><circle cx="1363.3" cy="212.7" r="3.2" opacity="0.66"/><circle cx="1395.7" cy="213.1" r="3.2" opacity="0.66"/><circle cx="1332.3" cy="213.4" r="3.2" opacity="0.66"/><circle cx="1427.3" cy="213.5" r="3.2" opacity="0.66"/><circle cx="1386.4" cy="213.9" r="3.2" opacity="0.67"/><circle cx="1314.6" cy="214.1" r="3.2" opacity="0.67"/><circle cx="1336.7" cy="214.4" r="3.2" opacity="0.67"/><circle cx="1350.2" cy="214.7" r="3.2" opacity="0.67"/><circle cx="1357.4" cy="214.9" r="3.2" opacity="0.67"/><circle cx="1319.3" cy="215.0" r="3.2" opacity="0.67"/><circle cx="1345.3" cy="215.0" r="3.2" opacity="0.67"/><circle cx="1355.2" cy="215.0" r="3.2" opacity="0.67"/><circle cx="1345.3" cy="215.1" r="3.2" opacity="0.67"/><circle cx="1316.0" cy="215.6" r="3.2" opacity="0.68"/><circle cx="1386.2" cy="215.9" r="3.2" opacity="0.68"/><circle cx="1353.9" cy="216.2" r="3.2" opacity="0.68"/><circle cx="1379.6" cy="216.2" r="3.2" opacity="0.68"/><circle cx="1352.3" cy="216.4" r="3.2" opacity="0.68"/><circle cx="1323.0" cy="216.6" r="3.2" opacity="0.68"/><circle cx="1421.7" cy="216.6" r="3.2" opacity="0.68"/><circle cx="1418.2" cy="216.8" r="3.2" opacity="0.68"/><circle cx="1358.7" cy="217.2" r="3.2" opacity="0.68"/><circle cx="1356.4" cy="217.3" r="3.2" opacity="0.69"/><circle cx="1303.3" cy="217.4" r="3.2" opacity="0.69"/><circle cx="1366.1" cy="217.6" r="3.2" opacity="0.69"/><circle cx="1362.5" cy="217.7" r="3.2" opacity="0.69"/><circle cx="1317.0" cy="217.8" r="3.2" opacity="0.69"/><circle cx="1395.7" cy="217.8" r="3.2" opacity="0.69"/><circle cx="1335.5" cy="218.0" r="3.2" opacity="0.69"/><circle cx="1360.9" cy="218.1" r="3.2" opacity="0.69"/><circle cx="1361.8" cy="218.4" r="3.2" opacity="0.69"/><circle cx="1368.2" cy="218.4" r="3.2" opacity="0.69"/><circle cx="1327.2" cy="218.6" r="3.2" opacity="0.69"/><circle cx="1326.4" cy="219.2" r="3.2" opacity="0.70"/><circle cx="1337.9" cy="219.3" r="3.2" opacity="0.70"/><circle cx="1433.6" cy="219.7" r="3.2" opacity="0.70"/><circle cx="1403.8" cy="219.7" r="3.2" opacity="0.70"/><circle cx="1308.8" cy="220.1" r="3.2" opacity="0.70"/><circle cx="1357.3" cy="220.1" r="3.2" opacity="0.70"/><circle cx="1358.3" cy="220.3" r="3.2" opacity="0.70"/><circle cx="1340.2" cy="220.4" r="3.2" opacity="0.70"/><circle cx="1360.8" cy="220.5" r="3.2" opacity="0.70"/><circle cx="1298.7" cy="220.6" r="3.2" opacity="0.70"/><circle cx="1355.7" cy="220.7" r="3.2" opacity="0.70"/><circle cx="1317.7" cy="220.8" r="3.2" opacity="0.70"/><circle cx="1355.6" cy="220.8" r="3.2" opacity="0.70"/><circle cx="1293.4" cy="220.9" r="3.2" opacity="0.71"/><circle cx="1378.7" cy="221.0" r="3.2" opacity="0.71"/><circle cx="1348.3" cy="221.2" r="3.2" opacity="0.71"/><circle cx="1313.4" cy="221.4" r="3.2" opacity="0.71"/><circle cx="1416.2" cy="221.5" r="3.2" opacity="0.71"/><circle cx="1351.6" cy="221.6" r="3.2" opacity="0.71"/><circle cx="1295.5" cy="221.6" r="3.2" opacity="0.71"/><circle cx="1376.2" cy="222.0" r="3.2" opacity="0.71"/><circle cx="1373.9" cy="222.2" r="3.2" opacity="0.71"/><circle cx="1327.3" cy="222.2" r="3.2" opacity="0.71"/><circle cx="1344.2" cy="222.3" r="3.2" opacity="0.71"/><circle cx="1295.4" cy="222.4" r="3.2" opacity="0.71"/><circle cx="1406.8" cy="222.7" r="3.2" opacity="0.71"/><circle cx="1350.7" cy="222.9" r="3.2" opacity="0.72"/><circle cx="1393.8" cy="222.9" r="3.2" opacity="0.72"/><circle cx="1379.7" cy="223.1" r="3.2" opacity="0.72"/><circle cx="1281.8" cy="223.1" r="3.2" opacity="0.72"/><circle cx="1295.7" cy="223.1" r="3.2" opacity="0.72"/><circle cx="1378.4" cy="223.2" r="3.2" opacity="0.72"/><circle cx="1426.4" cy="223.3" r="3.2" opacity="0.72"/><circle cx="1340.6" cy="223.9" r="3.2" opacity="0.72"/><circle cx="1386.6" cy="224.1" r="3.2" opacity="0.72"/><circle cx="1375.4" cy="224.2" r="3.2" opacity="0.72"/><circle cx="1362.4" cy="224.2" r="3.2" opacity="0.72"/><circle cx="1338.1" cy="224.3" r="3.2" opacity="0.72"/><circle cx="1379.1" cy="224.3" r="3.2" opacity="0.72"/><circle cx="1479.4" cy="224.4" r="3.2" opacity="0.72"/><circle cx="1373.6" cy="224.4" r="3.2" opacity="0.72"/><circle cx="1338.3" cy="224.9" r="3.2" opacity="0.73"/><circle cx="1328.4" cy="224.9" r="3.2" opacity="0.73"/><circle cx="1396.1" cy="225.1" r="3.2" opacity="0.73"/><circle cx="1342.4" cy="225.1" r="3.2" opacity="0.73"/><circle cx="1331.2" cy="225.4" r="3.2" opacity="0.73"/><circle cx="1309.2" cy="225.4" r="3.2" opacity="0.73"/><circle cx="1420.3" cy="225.4" r="3.2" opacity="0.73"/><circle cx="1335.2" cy="225.5" r="3.2" opacity="0.73"/><circle cx="1388.8" cy="225.6" r="3.2" opacity="0.73"/><circle cx="1372.3" cy="225.8" r="3.2" opacity="0.73"/><circle cx="1352.9" cy="225.8" r="3.2" opacity="0.73"/><circle cx="1381.2" cy="226.0" r="3.2" opacity="0.73"/><circle cx="1373.9" cy="226.1" r="3.2" opacity="0.73"/><circle cx="1352.9" cy="226.2" r="3.2" opacity="0.73"/><circle cx="1364.6" cy="226.2" r="3.2" opacity="0.73"/><circle cx="1410.0" cy="226.3" r="3.2" opacity="0.73"/><circle cx="1399.9" cy="226.4" r="3.2" opacity="0.73"/><circle cx="1326.0" cy="226.5" r="3.2" opacity="0.74"/><circle cx="1425.3" cy="226.5" r="3.2" opacity="0.74"/><circle cx="1413.1" cy="226.6" r="3.2" opacity="0.74"/><circle cx="1362.9" cy="226.9" r="3.2" opacity="0.74"/><circle cx="1363.7" cy="227.0" r="3.2" opacity="0.74"/><circle cx="1398.0" cy="227.1" r="3.2" opacity="0.74"/><circle cx="1317.6" cy="227.2" r="3.2" opacity="0.74"/><circle cx="1390.4" cy="227.2" r="3.2" opacity="0.74"/><circle cx="1404.0" cy="227.2" r="3.2" opacity="0.74"/><circle cx="1364.6" cy="227.6" r="3.2" opacity="0.74"/><circle cx="1311.8" cy="227.6" r="3.2" opacity="0.74"/><circle cx="1395.8" cy="227.6" r="3.2" opacity="0.74"/><circle cx="1302.1" cy="227.6" r="3.2" opacity="0.74"/><circle cx="1335.8" cy="227.7" r="3.2" opacity="0.74"/><circle cx="1359.1" cy="228.1" r="3.2" opacity="0.74"/><circle cx="1349.1" cy="228.1" r="3.2" opacity="0.74"/><circle cx="1338.1" cy="228.2" r="3.2" opacity="0.74"/><circle cx="1398.0" cy="228.2" r="3.2" opacity="0.74"/><circle cx="1304.7" cy="228.3" r="3.2" opacity="0.75"/><circle cx="1298.8" cy="228.3" r="3.2" opacity="0.75"/><circle cx="1402.6" cy="228.4" r="3.2" opacity="0.75"/><circle cx="1327.7" cy="228.4" r="3.2" opacity="0.75"/><circle cx="1346.5" cy="228.5" r="3.2" opacity="0.75"/><circle cx="1408.8" cy="228.7" r="3.2" opacity="0.75"/><circle cx="1393.7" cy="228.7" r="3.2" opacity="0.75"/><circle cx="1286.1" cy="228.8" r="3.2" opacity="0.75"/><circle cx="1330.6" cy="228.8" r="3.2" opacity="0.75"/><circle cx="1342.3" cy="228.9" r="3.2" opacity="0.75"/><circle cx="1376.6" cy="229.0" r="3.2" opacity="0.75"/><circle cx="1324.0" cy="229.1" r="3.2" opacity="0.75"/><circle cx="1337.5" cy="229.1" r="3.2" opacity="0.75"/><circle cx="1316.1" cy="229.1" r="3.2" opacity="0.75"/><circle cx="1381.7" cy="229.2" r="3.2" opacity="0.75"/><circle cx="1322.7" cy="229.3" r="3.2" opacity="0.75"/><circle cx="1318.5" cy="229.3" r="3.2" opacity="0.75"/><circle cx="1447.4" cy="229.4" r="3.2" opacity="0.75"/><circle cx="1361.3" cy="229.4" r="3.2" opacity="0.75"/><circle cx="1290.3" cy="229.7" r="3.2" opacity="0.75"/><circle cx="1349.0" cy="229.8" r="3.2" opacity="0.75"/><circle cx="1327.7" cy="229.8" r="3.2" opacity="0.75"/><circle cx="1403.5" cy="230.2" r="3.2" opacity="0.76"/><circle cx="1325.7" cy="230.3" r="3.2" opacity="0.76"/><circle cx="1403.3" cy="230.4" r="3.2" opacity="0.76"/><circle cx="1351.7" cy="230.6" r="3.2" opacity="0.76"/><circle cx="1382.3" cy="230.6" r="3.2" opacity="0.76"/><circle cx="1327.8" cy="230.7" r="3.2" opacity="0.76"/><circle cx="1369.5" cy="230.8" r="3.2" opacity="0.76"/><circle cx="1406.8" cy="231.2" r="3.2" opacity="0.76"/><circle cx="1356.5" cy="231.2" r="3.2" opacity="0.76"/><circle cx="1347.1" cy="231.3" r="3.2" opacity="0.76"/><circle cx="1305.3" cy="231.3" r="3.2" opacity="0.76"/><circle cx="1363.1" cy="231.3" r="3.2" opacity="0.76"/><circle cx="1325.1" cy="231.3" r="3.2" opacity="0.76"/><circle cx="1344.4" cy="231.4" r="3.2" opacity="0.76"/><circle cx="1364.5" cy="231.4" r="3.2" opacity="0.76"/><circle cx="1338.6" cy="231.7" r="3.2" opacity="0.76"/><circle cx="1366.6" cy="231.9" r="3.2" opacity="0.76"/><circle cx="1302.9" cy="232.1" r="3.2" opacity="0.77"/><circle cx="1363.3" cy="232.2" r="3.2" opacity="0.77"/><circle cx="1380.2" cy="232.2" r="3.2" opacity="0.77"/><circle cx="1387.3" cy="232.3" r="3.2" opacity="0.77"/><circle cx="1341.1" cy="232.6" r="3.2" opacity="0.77"/><circle cx="1353.3" cy="233.0" r="3.2" opacity="0.77"/><circle cx="1408.7" cy="233.1" r="3.2" opacity="0.77"/><circle cx="1307.6" cy="233.2" r="3.2" opacity="0.77"/><circle cx="1371.7" cy="233.2" r="3.2" opacity="0.77"/><circle cx="1357.6" cy="233.3" r="3.2" opacity="0.77"/><circle cx="1326.1" cy="233.4" r="3.2" opacity="0.77"/><circle cx="1377.7" cy="233.4" r="3.2" opacity="0.77"/><circle cx="1357.8" cy="233.5" r="3.2" opacity="0.77"/><circle cx="1368.0" cy="233.5" r="3.2" opacity="0.77"/><circle cx="1441.4" cy="233.7" r="3.2" opacity="0.77"/><circle cx="1342.5" cy="233.8" r="3.2" opacity="0.78"/><circle cx="1357.8" cy="234.0" r="3.2" opacity="0.78"/><circle cx="1377.7" cy="234.2" r="3.2" opacity="0.78"/><circle cx="1381.5" cy="234.3" r="3.2" opacity="0.78"/><circle cx="1333.1" cy="234.3" r="3.2" opacity="0.78"/><circle cx="1320.8" cy="234.5" r="3.2" opacity="0.78"/><circle cx="1375.6" cy="234.6" r="3.2" opacity="0.78"/><circle cx="1357.6" cy="234.6" r="3.2" opacity="0.78"/><circle cx="1404.2" cy="234.6" r="3.2" opacity="0.78"/><circle cx="1374.9" cy="234.6" r="3.2" opacity="0.78"/><circle cx="1345.0" cy="234.7" r="3.2" opacity="0.78"/><circle cx="1374.8" cy="234.8" r="3.2" opacity="0.78"/><circle cx="1345.0" cy="234.9" r="3.2" opacity="0.78"/><circle cx="1325.8" cy="235.0" r="3.2" opacity="0.78"/><circle cx="1323.4" cy="235.0" r="3.2" opacity="0.78"/><circle cx="1366.4" cy="235.0" r="3.2" opacity="0.78"/><circle cx="1356.7" cy="235.1" r="3.2" opacity="0.78"/><circle cx="1364.5" cy="235.2" r="3.2" opacity="0.78"/><circle cx="1394.7" cy="235.2" r="3.2" opacity="0.78"/><circle cx="1319.3" cy="235.2" r="3.2" opacity="0.78"/><circle cx="1318.3" cy="235.3" r="3.2" opacity="0.78"/><circle cx="1327.3" cy="235.4" r="3.2" opacity="0.78"/><circle cx="1361.9" cy="235.6" r="3.2" opacity="0.78"/><circle cx="1370.5" cy="235.6" r="3.2" opacity="0.79"/><circle cx="1386.4" cy="235.7" r="3.2" opacity="0.79"/><circle cx="1328.7" cy="235.7" r="3.2" opacity="0.79"/><circle cx="1362.7" cy="235.8" r="3.2" opacity="0.79"/><circle cx="1403.0" cy="235.8" r="3.2" opacity="0.79"/><circle cx="1389.6" cy="236.0" r="3.2" opacity="0.79"/><circle cx="1338.5" cy="236.0" r="3.2" opacity="0.79"/><circle cx="1336.9" cy="236.1" r="3.2" opacity="0.79"/><circle cx="1308.5" cy="236.1" r="3.2" opacity="0.79"/><circle cx="1313.1" cy="236.1" r="3.2" opacity="0.79"/><circle cx="1336.0" cy="236.4" r="3.2" opacity="0.79"/><circle cx="1323.3" cy="236.5" r="3.2" opacity="0.79"/><circle cx="1320.4" cy="236.5" r="3.2" opacity="0.79"/><circle cx="1359.1" cy="236.7" r="3.2" opacity="0.79"/><circle cx="1297.7" cy="236.7" r="3.2" opacity="0.79"/><circle cx="1348.5" cy="236.7" r="3.2" opacity="0.79"/><circle cx="1369.1" cy="236.8" r="3.2" opacity="0.79"/><circle cx="1391.7" cy="236.9" r="3.2" opacity="0.79"/><circle cx="1326.7" cy="236.9" r="3.2" opacity="0.79"/><circle cx="1380.1" cy="236.9" r="3.2" opacity="0.79"/><circle cx="1338.4" cy="237.0" r="3.2" opacity="0.79"/><circle cx="1336.5" cy="237.2" r="3.2" opacity="0.79"/><circle cx="1370.6" cy="237.3" r="3.2" opacity="0.79"/><circle cx="1379.9" cy="237.3" r="3.2" opacity="0.79"/><circle cx="1326.6" cy="237.8" r="3.2" opacity="0.80"/><circle cx="1303.8" cy="237.9" r="3.2" opacity="0.80"/><circle cx="1282.5" cy="238.1" r="3.2" opacity="0.80"/><circle cx="1406.9" cy="238.2" r="3.2" opacity="0.80"/><circle cx="1305.5" cy="238.2" r="3.2" opacity="0.80"/><circle cx="1383.9" cy="238.4" r="3.2" opacity="0.80"/><circle cx="1359.7" cy="238.4" r="3.2" opacity="0.80"/><circle cx="1322.9" cy="238.5" r="3.2" opacity="0.80"/><circle cx="1337.4" cy="238.5" r="3.2" opacity="0.80"/><circle cx="1362.9" cy="238.6" r="3.2" opacity="0.80"/><circle cx="1297.1" cy="238.7" r="3.2" opacity="0.80"/><circle cx="1341.2" cy="238.8" r="3.2" opacity="0.80"/><circle cx="1436.0" cy="238.9" r="3.2" opacity="0.80"/><circle cx="1382.5" cy="238.9" r="3.2" opacity="0.80"/><circle cx="1368.1" cy="239.1" r="3.2" opacity="0.80"/><circle cx="1289.4" cy="239.1" r="3.2" opacity="0.80"/><circle cx="1310.1" cy="239.2" r="3.2" opacity="0.80"/><circle cx="1294.9" cy="239.3" r="3.2" opacity="0.81"/><circle cx="1370.8" cy="239.5" r="3.2" opacity="0.81"/><circle cx="1333.3" cy="239.5" r="3.2" opacity="0.81"/><circle cx="1396.9" cy="239.6" r="3.2" opacity="0.81"/><circle cx="1368.2" cy="239.7" r="3.2" opacity="0.81"/><circle cx="1365.4" cy="239.9" r="3.2" opacity="0.81"/><circle cx="1385.3" cy="239.9" r="3.2" opacity="0.81"/><circle cx="1315.3" cy="240.0" r="3.2" opacity="0.81"/><circle cx="1319.8" cy="240.0" r="3.2" opacity="0.81"/><circle cx="1377.6" cy="240.0" r="3.2" opacity="0.81"/><circle cx="1330.4" cy="240.1" r="3.2" opacity="0.81"/><circle cx="1317.3" cy="240.2" r="3.2" opacity="0.81"/><circle cx="1405.4" cy="240.2" r="3.2" opacity="0.81"/><circle cx="1377.9" cy="240.2" r="3.2" opacity="0.81"/><circle cx="1392.5" cy="240.3" r="3.2" opacity="0.81"/><circle cx="1361.5" cy="240.3" r="3.2" opacity="0.81"/><circle cx="1376.9" cy="240.5" r="3.2" opacity="0.81"/><circle cx="1339.3" cy="240.5" r="3.2" opacity="0.81"/><circle cx="1359.0" cy="240.5" r="3.2" opacity="0.81"/><circle cx="1379.8" cy="240.9" r="3.2" opacity="0.81"/><circle cx="1392.1" cy="241.0" r="3.2" opacity="0.81"/><circle cx="1383.2" cy="241.0" r="3.2" opacity="0.81"/><circle cx="1423.7" cy="241.2" r="3.2" opacity="0.82"/><circle cx="1310.1" cy="241.2" r="3.2" opacity="0.82"/><circle cx="1299.8" cy="241.3" r="3.2" opacity="0.82"/><circle cx="1346.3" cy="241.4" r="3.2" opacity="0.82"/><circle cx="1365.7" cy="241.6" r="3.2" opacity="0.82"/><circle cx="1358.2" cy="241.6" r="3.2" opacity="0.82"/><circle cx="1383.5" cy="241.8" r="3.2" opacity="0.82"/><circle cx="1399.1" cy="242.0" r="3.2" opacity="0.82"/><circle cx="1388.2" cy="242.2" r="3.2" opacity="0.82"/><circle cx="1298.5" cy="242.2" r="3.2" opacity="0.82"/><circle cx="1347.7" cy="242.2" r="3.2" opacity="0.82"/><circle cx="1379.6" cy="242.2" r="3.2" opacity="0.82"/><circle cx="1335.0" cy="242.3" r="3.2" opacity="0.82"/><circle cx="1299.4" cy="242.3" r="3.2" opacity="0.82"/><circle cx="1368.5" cy="242.4" r="3.2" opacity="0.82"/><circle cx="1363.7" cy="242.4" r="3.2" opacity="0.82"/><circle cx="1362.8" cy="242.5" r="3.2" opacity="0.82"/><circle cx="1346.8" cy="242.5" r="3.2" opacity="0.82"/><circle cx="1368.6" cy="242.6" r="3.2" opacity="0.82"/><circle cx="1354.9" cy="242.7" r="3.2" opacity="0.82"/><circle cx="1387.3" cy="242.8" r="3.2" opacity="0.82"/><circle cx="1393.8" cy="242.8" r="3.2" opacity="0.82"/><circle cx="1365.4" cy="242.8" r="3.2" opacity="0.82"/><circle cx="1333.8" cy="242.9" r="3.2" opacity="0.82"/><circle cx="1367.0" cy="243.0" r="3.2" opacity="0.83"/><circle cx="1330.7" cy="243.1" r="3.2" opacity="0.83"/><circle cx="1376.9" cy="243.2" r="3.2" opacity="0.83"/><circle cx="1354.4" cy="243.3" r="3.2" opacity="0.83"/><circle cx="1373.5" cy="243.3" r="3.2" opacity="0.83"/><circle cx="1392.5" cy="243.3" r="3.2" opacity="0.83"/><circle cx="1423.7" cy="243.3" r="3.2" opacity="0.83"/><circle cx="1366.9" cy="243.3" r="3.2" opacity="0.83"/><circle cx="1357.5" cy="243.5" r="3.2" opacity="0.83"/><circle cx="1356.6" cy="243.6" r="3.2" opacity="0.83"/><circle cx="1382.4" cy="243.6" r="3.2" opacity="0.83"/><circle cx="1393.1" cy="243.7" r="3.2" opacity="0.83"/><circle cx="1411.9" cy="243.9" r="3.2" opacity="0.83"/><circle cx="1336.6" cy="244.1" r="3.2" opacity="0.83"/><circle cx="1411.6" cy="244.2" r="3.2" opacity="0.83"/><circle cx="1369.9" cy="244.2" r="3.2" opacity="0.83"/><circle cx="1339.7" cy="244.2" r="3.2" opacity="0.83"/><circle cx="1465.6" cy="244.3" r="3.2" opacity="0.83"/><circle cx="1394.0" cy="244.3" r="3.2" opacity="0.83"/><circle cx="1332.6" cy="244.3" r="3.2" opacity="0.83"/><circle cx="1315.4" cy="244.4" r="3.2" opacity="0.83"/><circle cx="1390.5" cy="244.4" r="3.2" opacity="0.83"/><circle cx="1366.6" cy="244.5" r="3.2" opacity="0.83"/><circle cx="1388.2" cy="244.5" r="3.2" opacity="0.83"/><circle cx="1356.2" cy="244.8" r="3.2" opacity="0.84"/><circle cx="1362.8" cy="244.8" r="3.2" opacity="0.84"/><circle cx="1442.9" cy="244.9" r="3.2" opacity="0.84"/><circle cx="1302.2" cy="245.0" r="3.2" opacity="0.84"/><circle cx="1351.1" cy="245.0" r="3.2" opacity="0.84"/><circle cx="1319.6" cy="245.0" r="3.2" opacity="0.84"/><circle cx="1354.3" cy="245.2" r="3.2" opacity="0.84"/><circle cx="1331.3" cy="245.2" r="3.2" opacity="0.84"/><circle cx="1273.2" cy="245.2" r="3.2" opacity="0.84"/><circle cx="1297.2" cy="245.2" r="3.2" opacity="0.84"/><circle cx="1346.6" cy="245.2" r="3.2" opacity="0.84"/><circle cx="1315.4" cy="245.3" r="3.2" opacity="0.84"/><circle cx="1393.3" cy="245.3" r="3.2" opacity="0.84"/><circle cx="1382.8" cy="245.3" r="3.2" opacity="0.84"/><circle cx="1407.8" cy="245.5" r="3.2" opacity="0.84"/><circle cx="1329.8" cy="245.5" r="3.2" opacity="0.84"/><circle cx="1365.3" cy="245.6" r="3.2" opacity="0.84"/><circle cx="1446.6" cy="245.6" r="3.2" opacity="0.84"/><circle cx="1390.1" cy="245.7" r="3.2" opacity="0.84"/><circle cx="1307.4" cy="245.7" r="3.2" opacity="0.84"/><circle cx="1401.9" cy="245.9" r="3.2" opacity="0.84"/><circle cx="1300.1" cy="245.9" r="3.2" opacity="0.84"/><circle cx="1348.0" cy="245.9" r="3.2" opacity="0.84"/><circle cx="1414.9" cy="246.0" r="3.2" opacity="0.84"/><circle cx="1346.4" cy="246.1" r="3.2" opacity="0.84"/><circle cx="1407.3" cy="246.2" r="3.2" opacity="0.84"/><circle cx="1380.8" cy="246.3" r="3.2" opacity="0.84"/><circle cx="1338.8" cy="246.4" r="3.2" opacity="0.84"/><circle cx="1344.0" cy="246.5" r="3.2" opacity="0.84"/><circle cx="1346.8" cy="246.6" r="3.2" opacity="0.85"/><circle cx="1408.9" cy="246.6" r="3.2" opacity="0.85"/><circle cx="1397.3" cy="246.7" r="3.2" opacity="0.85"/><circle cx="1352.1" cy="246.7" r="3.2" opacity="0.85"/><circle cx="1280.3" cy="246.8" r="3.2" opacity="0.85"/><circle cx="1352.4" cy="246.8" r="3.2" opacity="0.85"/><circle cx="1370.1" cy="246.9" r="3.2" opacity="0.85"/><circle cx="1325.3" cy="246.9" r="3.2" opacity="0.85"/><circle cx="1376.1" cy="247.1" r="3.2" opacity="0.85"/><circle cx="1356.5" cy="247.2" r="3.2" opacity="0.85"/><circle cx="1350.8" cy="247.2" r="3.2" opacity="0.85"/><circle cx="1319.5" cy="247.3" r="3.2" opacity="0.85"/><circle cx="1332.8" cy="247.3" r="3.2" opacity="0.85"/><circle cx="1364.4" cy="247.5" r="3.2" opacity="0.85"/><circle cx="1394.7" cy="247.5" r="3.2" opacity="0.85"/><circle cx="1350.0" cy="247.6" r="3.2" opacity="0.85"/><circle cx="1329.5" cy="247.6" r="3.2" opacity="0.85"/><circle cx="1306.5" cy="247.7" r="3.2" opacity="0.85"/><circle cx="1306.4" cy="247.7" r="3.2" opacity="0.85"/><circle cx="1372.4" cy="247.8" r="3.2" opacity="0.85"/><circle cx="1415.0" cy="247.9" r="3.2" opacity="0.85"/><circle cx="1306.4" cy="247.9" r="3.2" opacity="0.85"/><circle cx="1325.2" cy="248.0" r="3.2" opacity="0.85"/><circle cx="1315.9" cy="248.0" r="3.2" opacity="0.85"/><circle cx="1351.0" cy="248.0" r="3.2" opacity="0.85"/><circle cx="1373.5" cy="248.1" r="3.2" opacity="0.85"/><circle cx="1441.3" cy="248.2" r="3.2" opacity="0.85"/><circle cx="1381.6" cy="248.3" r="3.2" opacity="0.85"/><circle cx="1301.2" cy="248.3" r="3.2" opacity="0.85"/><circle cx="1296.9" cy="248.4" r="3.2" opacity="0.85"/><circle cx="1389.2" cy="248.4" r="3.2" opacity="0.86"/><circle cx="1378.3" cy="248.5" r="3.2" opacity="0.86"/><circle cx="1420.5" cy="248.5" r="3.2" opacity="0.86"/><circle cx="1405.0" cy="248.6" r="3.2" opacity="0.86"/><circle cx="1347.9" cy="248.7" r="3.2" opacity="0.86"/><circle cx="1397.3" cy="248.7" r="3.2" opacity="0.86"/><circle cx="1343.2" cy="248.7" r="3.2" opacity="0.86"/><circle cx="1325.2" cy="248.7" r="3.2" opacity="0.86"/><circle cx="1392.4" cy="248.8" r="3.2" opacity="0.86"/><circle cx="1320.2" cy="249.0" r="3.2" opacity="0.86"/><circle cx="1352.9" cy="249.1" r="3.2" opacity="0.86"/><circle cx="1377.2" cy="249.1" r="3.2" opacity="0.86"/><circle cx="1406.0" cy="249.1" r="3.2" opacity="0.86"/><circle cx="1399.4" cy="249.1" r="3.2" opacity="0.86"/><circle cx="1383.1" cy="249.2" r="3.2" opacity="0.86"/><circle cx="1423.5" cy="249.4" r="3.2" opacity="0.86"/><circle cx="1356.3" cy="249.4" r="3.2" opacity="0.86"/><circle cx="1335.6" cy="249.5" r="3.2" opacity="0.86"/><circle cx="1429.6" cy="249.5" r="3.2" opacity="0.86"/><circle cx="1333.5" cy="249.5" r="3.2" opacity="0.86"/><circle cx="1347.0" cy="249.7" r="3.2" opacity="0.86"/><circle cx="1359.4" cy="249.7" r="3.2" opacity="0.86"/><circle cx="1313.2" cy="249.9" r="3.2" opacity="0.86"/><circle cx="1331.9" cy="249.9" r="3.2" opacity="0.86"/><circle cx="1311.0" cy="250.0" r="3.2" opacity="0.86"/><circle cx="1332.2" cy="250.0" r="3.2" opacity="0.86"/><circle cx="1373.4" cy="250.1" r="3.2" opacity="0.86"/><circle cx="1404.5" cy="250.1" r="3.2" opacity="0.86"/><circle cx="1349.8" cy="250.2" r="3.2" opacity="0.86"/><circle cx="1335.1" cy="250.2" r="3.2" opacity="0.86"/><circle cx="1331.2" cy="250.2" r="3.2" opacity="0.86"/><circle cx="1361.7" cy="250.3" r="3.2" opacity="0.87"/><circle cx="1338.0" cy="250.4" r="3.2" opacity="0.87"/><circle cx="1292.0" cy="250.5" r="3.2" opacity="0.87"/><circle cx="1407.2" cy="250.5" r="3.2" opacity="0.87"/><circle cx="1353.8" cy="250.5" r="3.2" opacity="0.87"/><circle cx="1325.0" cy="250.6" r="3.2" opacity="0.87"/><circle cx="1337.5" cy="250.6" r="3.2" opacity="0.87"/><circle cx="1339.9" cy="250.6" r="3.2" opacity="0.87"/><circle cx="1373.6" cy="250.8" r="3.2" opacity="0.87"/><circle cx="1396.0" cy="251.2" r="3.2" opacity="0.87"/><circle cx="1398.5" cy="251.2" r="3.2" opacity="0.87"/><circle cx="1350.9" cy="251.3" r="3.2" opacity="0.87"/><circle cx="1344.5" cy="251.3" r="3.2" opacity="0.87"/><circle cx="1375.1" cy="251.4" r="3.2" opacity="0.87"/><circle cx="1392.0" cy="251.5" r="3.2" opacity="0.87"/><circle cx="1323.8" cy="251.6" r="3.2" opacity="0.87"/><circle cx="1401.4" cy="251.6" r="3.2" opacity="0.87"/><circle cx="1351.7" cy="251.7" r="3.2" opacity="0.87"/><circle cx="1343.0" cy="251.8" r="3.2" opacity="0.87"/><circle cx="1395.3" cy="251.8" r="3.2" opacity="0.87"/><circle cx="1367.6" cy="251.8" r="3.2" opacity="0.87"/><circle cx="1380.4" cy="251.9" r="3.2" opacity="0.87"/><circle cx="1391.5" cy="251.9" r="3.2" opacity="0.87"/><circle cx="1368.8" cy="252.0" r="3.2" opacity="0.87"/><circle cx="1416.5" cy="252.0" r="3.2" opacity="0.87"/><circle cx="1415.3" cy="252.0" r="3.2" opacity="0.87"/><circle cx="1354.2" cy="252.1" r="3.2" opacity="0.88"/><circle cx="1373.4" cy="252.3" r="3.2" opacity="0.88"/><circle cx="1376.3" cy="252.3" r="3.2" opacity="0.88"/><circle cx="1336.0" cy="252.4" r="3.2" opacity="0.88"/><circle cx="1413.8" cy="252.4" r="3.2" opacity="0.88"/><circle cx="1449.5" cy="252.4" r="3.2" opacity="0.88"/><circle cx="1338.0" cy="252.5" r="3.2" opacity="0.88"/><circle cx="1324.5" cy="252.5" r="3.2" opacity="0.88"/><circle cx="1324.6" cy="252.7" r="3.2" opacity="0.88"/><circle cx="1315.7" cy="252.7" r="3.2" opacity="0.88"/><circle cx="1341.0" cy="252.7" r="3.2" opacity="0.88"/><circle cx="1409.3" cy="252.9" r="3.2" opacity="0.88"/><circle cx="1337.7" cy="253.0" r="3.2" opacity="0.88"/><circle cx="1332.1" cy="253.0" r="3.2" opacity="0.88"/><circle cx="1395.6" cy="253.1" r="3.2" opacity="0.88"/><circle cx="1346.6" cy="253.1" r="3.2" opacity="0.88"/><circle cx="1351.7" cy="253.1" r="3.2" opacity="0.88"/><circle cx="1385.2" cy="253.3" r="3.2" opacity="0.88"/><circle cx="1398.3" cy="253.3" r="3.2" opacity="0.88"/><circle cx="1312.8" cy="253.4" r="3.2" opacity="0.88"/><circle cx="1331.9" cy="253.4" r="3.2" opacity="0.88"/><circle cx="1329.8" cy="253.4" r="3.2" opacity="0.88"/><circle cx="1331.6" cy="253.5" r="3.2" opacity="0.88"/><circle cx="1376.8" cy="253.5" r="3.2" opacity="0.88"/><circle cx="1379.1" cy="253.6" r="3.2" opacity="0.88"/><circle cx="1361.7" cy="253.6" r="3.2" opacity="0.88"/><circle cx="1350.1" cy="253.7" r="3.2" opacity="0.88"/><circle cx="1328.2" cy="253.7" r="3.2" opacity="0.88"/><circle cx="1369.6" cy="253.8" r="3.2" opacity="0.88"/><circle cx="1385.5" cy="254.0" r="3.2" opacity="0.89"/><circle cx="1307.5" cy="254.0" r="3.2" opacity="0.89"/><circle cx="1413.4" cy="254.0" r="3.2" opacity="0.89"/><circle cx="1305.1" cy="254.1" r="3.2" opacity="0.89"/><circle cx="1334.8" cy="254.2" r="3.2" opacity="0.89"/><circle cx="1324.7" cy="254.3" r="3.2" opacity="0.89"/><circle cx="1327.1" cy="254.4" r="3.2" opacity="0.89"/><circle cx="1416.5" cy="254.5" r="3.2" opacity="0.89"/><circle cx="1360.4" cy="254.6" r="3.2" opacity="0.89"/><circle cx="1360.7" cy="254.7" r="3.2" opacity="0.89"/><circle cx="1430.8" cy="254.7" r="3.2" opacity="0.89"/><circle cx="1425.6" cy="254.8" r="3.2" opacity="0.89"/><circle cx="1349.5" cy="255.0" r="3.2" opacity="0.89"/><circle cx="1389.5" cy="255.0" r="3.2" opacity="0.89"/><circle cx="1352.6" cy="255.0" r="3.2" opacity="0.89"/><circle cx="1378.7" cy="255.0" r="3.2" opacity="0.89"/><circle cx="1429.0" cy="255.1" r="3.2" opacity="0.89"/><circle cx="1413.2" cy="255.1" r="3.2" opacity="0.89"/><circle cx="1427.8" cy="255.1" r="3.2" opacity="0.89"/><circle cx="1408.9" cy="255.1" r="3.2" opacity="0.89"/><circle cx="1334.2" cy="255.2" r="3.2" opacity="0.89"/><circle cx="1348.0" cy="255.2" r="3.2" opacity="0.89"/><circle cx="1309.1" cy="255.2" r="3.2" opacity="0.89"/><circle cx="1365.8" cy="255.4" r="3.2" opacity="0.89"/><circle cx="1313.9" cy="255.4" r="3.2" opacity="0.89"/><circle cx="1370.2" cy="255.4" r="3.2" opacity="0.89"/><circle cx="1402.6" cy="255.5" r="3.2" opacity="0.89"/><circle cx="1416.2" cy="255.5" r="3.2" opacity="0.89"/><circle cx="1398.6" cy="255.5" r="3.2" opacity="0.89"/><circle cx="1359.8" cy="255.6" r="3.2" opacity="0.89"/><circle cx="1352.2" cy="255.6" r="3.2" opacity="0.89"/><circle cx="1383.5" cy="255.6" r="3.2" opacity="0.89"/><circle cx="1331.4" cy="255.7" r="3.2" opacity="0.89"/><circle cx="1400.4" cy="255.7" r="3.2" opacity="0.89"/><circle cx="1421.5" cy="255.8" r="3.2" opacity="0.90"/><circle cx="1342.1" cy="255.9" r="3.2" opacity="0.90"/><circle cx="1347.9" cy="256.0" r="3.2" opacity="0.90"/><circle cx="1382.4" cy="256.0" r="3.2" opacity="0.90"/><circle cx="1274.7" cy="256.1" r="3.2" opacity="0.90"/><circle cx="1399.0" cy="256.2" r="3.2" opacity="0.90"/><circle cx="1363.6" cy="256.4" r="3.2" opacity="0.90"/><circle cx="1373.5" cy="256.4" r="3.2" opacity="0.90"/><circle cx="1392.5" cy="256.5" r="3.2" opacity="0.90"/><circle cx="1320.5" cy="256.7" r="3.2" opacity="0.90"/><circle cx="1458.5" cy="256.8" r="3.2" opacity="0.90"/><circle cx="1354.3" cy="257.0" r="3.2" opacity="0.90"/><circle cx="1402.2" cy="257.1" r="3.2" opacity="0.90"/><circle cx="1366.7" cy="257.2" r="3.2" opacity="0.90"/><circle cx="1341.3" cy="257.2" r="3.2" opacity="0.90"/><circle cx="1378.6" cy="257.2" r="3.2" opacity="0.90"/><circle cx="1377.9" cy="257.2" r="3.2" opacity="0.90"/><circle cx="1363.1" cy="257.2" r="3.2" opacity="0.90"/><circle cx="1365.7" cy="257.3" r="3.2" opacity="0.90"/><circle cx="1402.3" cy="257.5" r="3.2" opacity="0.90"/><circle cx="1387.7" cy="257.5" r="3.2" opacity="0.90"/><circle cx="1374.9" cy="257.5" r="3.2" opacity="0.90"/><circle cx="1306.6" cy="257.6" r="3.2" opacity="0.91"/><circle cx="1442.0" cy="257.7" r="3.2" opacity="0.91"/><circle cx="1299.4" cy="257.7" r="3.2" opacity="0.91"/><circle cx="1320.1" cy="257.7" r="3.2" opacity="0.91"/><circle cx="1389.3" cy="257.7" r="3.2" opacity="0.91"/><circle cx="1346.3" cy="257.8" r="3.2" opacity="0.91"/><circle cx="1343.5" cy="257.8" r="3.2" opacity="0.91"/><circle cx="1357.9" cy="258.0" r="3.2" opacity="0.91"/><circle cx="1405.6" cy="258.0" r="3.2" opacity="0.91"/><circle cx="1377.8" cy="258.1" r="3.2" opacity="0.91"/><circle cx="1356.3" cy="258.1" r="3.2" opacity="0.91"/><circle cx="1413.2" cy="258.2" r="3.2" opacity="0.91"/><circle cx="1344.7" cy="258.2" r="3.2" opacity="0.91"/><circle cx="1377.3" cy="258.2" r="3.2" opacity="0.91"/><circle cx="1333.3" cy="258.4" r="3.2" opacity="0.91"/><circle cx="1366.2" cy="258.6" r="3.2" opacity="0.91"/><circle cx="1383.5" cy="258.6" r="3.2" opacity="0.91"/><circle cx="1353.9" cy="258.6" r="3.2" opacity="0.91"/><circle cx="1324.5" cy="258.7" r="3.2" opacity="0.91"/><circle cx="1376.4" cy="258.7" r="3.2" opacity="0.91"/><circle cx="1395.4" cy="258.8" r="3.2" opacity="0.91"/><circle cx="1363.2" cy="258.8" r="3.2" opacity="0.91"/><circle cx="1410.4" cy="258.8" r="3.2" opacity="0.91"/><circle cx="1437.5" cy="258.8" r="3.2" opacity="0.91"/><circle cx="1352.5" cy="258.8" r="3.2" opacity="0.91"/><circle cx="1348.7" cy="258.9" r="3.2" opacity="0.91"/><circle cx="1337.9" cy="258.9" r="3.2" opacity="0.91"/><circle cx="1352.1" cy="259.0" r="3.2" opacity="0.91"/><circle cx="1393.2" cy="259.0" r="3.2" opacity="0.91"/><circle cx="1364.2" cy="259.1" r="3.2" opacity="0.91"/><circle cx="1320.5" cy="259.2" r="3.2" opacity="0.91"/><circle cx="1410.3" cy="259.3" r="3.2" opacity="0.91"/><circle cx="1402.2" cy="259.3" r="3.2" opacity="0.91"/><circle cx="1342.6" cy="259.3" r="3.2" opacity="0.91"/><circle cx="1362.5" cy="259.3" r="3.2" opacity="0.91"/><circle cx="1437.4" cy="259.4" r="3.2" opacity="0.91"/><circle cx="1390.4" cy="259.4" r="3.2" opacity="0.92"/><circle cx="1383.3" cy="259.4" r="3.2" opacity="0.92"/><circle cx="1361.2" cy="259.5" r="3.2" opacity="0.92"/><circle cx="1372.2" cy="259.7" r="3.2" opacity="0.92"/><circle cx="1346.3" cy="259.7" r="3.2" opacity="0.92"/><circle cx="1368.2" cy="260.1" r="3.2" opacity="0.92"/><circle cx="1286.3" cy="260.1" r="3.2" opacity="0.92"/><circle cx="1318.4" cy="260.1" r="3.2" opacity="0.92"/><circle cx="1427.2" cy="260.2" r="3.2" opacity="0.92"/><circle cx="1307.6" cy="260.3" r="3.2" opacity="0.92"/><circle cx="1396.9" cy="260.3" r="3.2" opacity="0.92"/><circle cx="1355.3" cy="260.3" r="3.2" opacity="0.92"/><circle cx="1338.4" cy="260.5" r="3.2" opacity="0.92"/><circle cx="1367.2" cy="260.6" r="3.2" opacity="0.92"/><circle cx="1367.4" cy="260.6" r="3.2" opacity="0.92"/><circle cx="1326.8" cy="260.6" r="3.2" opacity="0.92"/><circle cx="1375.1" cy="260.8" r="3.2" opacity="0.92"/><circle cx="1243.0" cy="260.8" r="3.2" opacity="0.92"/><circle cx="1343.6" cy="260.8" r="3.2" opacity="0.92"/><circle cx="1332.7" cy="260.9" r="3.2" opacity="0.92"/><circle cx="1355.5" cy="261.0" r="3.2" opacity="0.92"/><circle cx="1339.2" cy="261.1" r="3.2" opacity="0.92"/><circle cx="1394.3" cy="261.1" r="3.2" opacity="0.92"/><circle cx="1380.0" cy="261.1" r="3.2" opacity="0.92"/><circle cx="1347.7" cy="261.2" r="3.2" opacity="0.92"/><circle cx="1412.0" cy="261.2" r="3.2" opacity="0.92"/><circle cx="1396.0" cy="261.2" r="3.2" opacity="0.92"/><circle cx="1395.7" cy="261.3" r="3.2" opacity="0.93"/><circle cx="1406.4" cy="261.6" r="3.2" opacity="0.93"/><circle cx="1356.9" cy="261.6" r="3.2" opacity="0.93"/><circle cx="1371.7" cy="261.6" r="3.2" opacity="0.93"/><circle cx="1398.8" cy="261.6" r="3.2" opacity="0.93"/><circle cx="1338.2" cy="261.6" r="3.2" opacity="0.93"/><circle cx="1406.0" cy="261.7" r="3.2" opacity="0.93"/><circle cx="1415.0" cy="261.7" r="3.2" opacity="0.93"/><circle cx="1367.0" cy="261.8" r="3.2" opacity="0.93"/><circle cx="1361.9" cy="261.9" r="3.2" opacity="0.93"/><circle cx="1378.8" cy="261.9" r="3.2" opacity="0.93"/><circle cx="1370.7" cy="262.0" r="3.2" opacity="0.93"/><circle cx="1385.3" cy="262.0" r="3.2" opacity="0.93"/><circle cx="1357.6" cy="262.0" r="3.2" opacity="0.93"/><circle cx="1382.7" cy="262.0" r="3.2" opacity="0.93"/><circle cx="1364.4" cy="262.1" r="3.2" opacity="0.93"/><circle cx="1362.9" cy="262.1" r="3.2" opacity="0.93"/><circle cx="1379.3" cy="262.1" r="3.2" opacity="0.93"/><circle cx="1363.4" cy="262.2" r="3.2" opacity="0.93"/><circle cx="1343.1" cy="262.2" r="3.2" opacity="0.93"/><circle cx="1395.3" cy="262.2" r="3.2" opacity="0.93"/><circle cx="1374.4" cy="262.3" r="3.2" opacity="0.93"/><circle cx="1232.1" cy="262.4" r="3.2" opacity="0.93"/><circle cx="1346.2" cy="262.4" r="3.2" opacity="0.93"/><circle cx="1310.8" cy="262.4" r="3.2" opacity="0.93"/><circle cx="1333.0" cy="262.4" r="3.2" opacity="0.93"/><circle cx="1410.2" cy="262.5" r="3.2" opacity="0.93"/><circle cx="1376.4" cy="262.6" r="3.2" opacity="0.93"/><circle cx="1370.4" cy="262.7" r="3.2" opacity="0.93"/><circle cx="1383.9" cy="262.8" r="3.2" opacity="0.93"/><circle cx="1368.1" cy="262.8" r="3.2" opacity="0.93"/><circle cx="1360.4" cy="262.9" r="3.2" opacity="0.93"/><circle cx="1385.4" cy="263.1" r="3.2" opacity="0.94"/><circle cx="1367.1" cy="263.1" r="3.2" opacity="0.94"/><circle cx="1372.8" cy="263.2" r="3.2" opacity="0.94"/><circle cx="1402.3" cy="263.2" r="3.2" opacity="0.94"/><circle cx="1348.8" cy="263.3" r="3.2" opacity="0.94"/><circle cx="1354.7" cy="263.3" r="3.2" opacity="0.94"/><circle cx="1348.8" cy="263.5" r="3.2" opacity="0.94"/><circle cx="1321.5" cy="263.6" r="3.2" opacity="0.94"/><circle cx="1361.8" cy="263.7" r="3.2" opacity="0.94"/><circle cx="1364.1" cy="263.7" r="3.2" opacity="0.94"/><circle cx="1380.5" cy="263.9" r="3.2" opacity="0.94"/><circle cx="1372.4" cy="263.9" r="3.2" opacity="0.94"/><circle cx="1339.6" cy="263.9" r="3.2" opacity="0.94"/><circle cx="1394.0" cy="263.9" r="3.2" opacity="0.94"/><circle cx="1341.6" cy="263.9" r="3.2" opacity="0.94"/><circle cx="1379.3" cy="264.0" r="3.2" opacity="0.94"/><circle cx="1326.6" cy="264.0" r="3.2" opacity="0.94"/><circle cx="1397.9" cy="264.3" r="3.2" opacity="0.94"/><circle cx="1385.9" cy="264.3" r="3.2" opacity="0.94"/><circle cx="1366.3" cy="264.4" r="3.2" opacity="0.94"/><circle cx="1336.1" cy="264.5" r="3.2" opacity="0.94"/><circle cx="1357.4" cy="264.6" r="3.2" opacity="0.94"/><circle cx="1314.8" cy="264.7" r="3.2" opacity="0.94"/><circle cx="1390.3" cy="264.8" r="3.2" opacity="0.94"/><circle cx="1345.1" cy="264.8" r="3.2" opacity="0.94"/><circle cx="1370.1" cy="264.9" r="3.2" opacity="0.94"/><circle cx="1298.0" cy="265.0" r="3.2" opacity="0.95"/><circle cx="1340.2" cy="265.0" r="3.2" opacity="0.95"/><circle cx="1390.4" cy="265.1" r="3.2" opacity="0.95"/><circle cx="1343.7" cy="265.1" r="3.2" opacity="0.95"/><circle cx="1402.3" cy="265.2" r="3.2" opacity="0.95"/><circle cx="1408.3" cy="265.2" r="3.2" opacity="0.95"/><circle cx="1355.9" cy="265.3" r="3.2" opacity="0.95"/><circle cx="1287.1" cy="265.5" r="3.2" opacity="0.95"/><circle cx="1361.1" cy="265.5" r="3.2" opacity="0.95"/><circle cx="1338.1" cy="265.7" r="3.2" opacity="0.95"/><circle cx="1421.1" cy="265.8" r="3.2" opacity="0.95"/><circle cx="1336.1" cy="265.8" r="3.2" opacity="0.95"/><circle cx="1392.3" cy="265.8" r="3.2" opacity="0.95"/><circle cx="1406.9" cy="265.9" r="3.2" opacity="0.95"/><circle cx="1298.2" cy="265.9" r="3.2" opacity="0.95"/><circle cx="1362.3" cy="266.0" r="3.2" opacity="0.95"/><circle cx="1364.7" cy="266.0" r="3.2" opacity="0.95"/><circle cx="1375.1" cy="266.1" r="3.2" opacity="0.95"/><circle cx="1347.5" cy="266.1" r="3.2" opacity="0.95"/><circle cx="1407.0" cy="266.3" r="3.2" opacity="0.95"/><circle cx="1430.2" cy="266.3" r="3.2" opacity="0.95"/><circle cx="1362.1" cy="266.3" r="3.2" opacity="0.95"/><circle cx="1359.8" cy="266.3" r="3.2" opacity="0.95"/><circle cx="1347.6" cy="266.4" r="3.2" opacity="0.95"/><circle cx="1377.4" cy="266.4" r="3.2" opacity="0.95"/><circle cx="1388.2" cy="266.5" r="3.2" opacity="0.95"/><circle cx="1352.3" cy="266.6" r="3.2" opacity="0.95"/><circle cx="1410.3" cy="266.8" r="3.2" opacity="0.96"/><circle cx="1327.9" cy="266.8" r="3.2" opacity="0.96"/><circle cx="1408.4" cy="266.8" r="3.2" opacity="0.96"/><circle cx="1312.9" cy="266.8" r="3.2" opacity="0.96"/><circle cx="1369.2" cy="266.8" r="3.2" opacity="0.96"/><circle cx="1368.9" cy="266.9" r="3.2" opacity="0.96"/><circle cx="1328.5" cy="267.0" r="3.2" opacity="0.96"/><circle cx="1301.7" cy="267.1" r="3.2" opacity="0.96"/><circle cx="1360.6" cy="267.1" r="3.2" opacity="0.96"/><circle cx="1389.5" cy="267.2" r="3.2" opacity="0.96"/><circle cx="1392.6" cy="267.4" r="3.2" opacity="0.96"/><circle cx="1365.7" cy="267.4" r="3.2" opacity="0.96"/><circle cx="1364.2" cy="267.4" r="3.2" opacity="0.96"/><circle cx="1357.8" cy="267.5" r="3.2" opacity="0.96"/><circle cx="1354.2" cy="267.5" r="3.2" opacity="0.96"/><circle cx="1354.7" cy="267.9" r="3.2" opacity="0.96"/><circle cx="1388.0" cy="267.9" r="3.2" opacity="0.96"/><circle cx="1344.4" cy="268.0" r="3.2" opacity="0.96"/><circle cx="1421.0" cy="268.1" r="3.2" opacity="0.96"/><circle cx="1360.5" cy="268.1" r="3.2" opacity="0.96"/><circle cx="1400.0" cy="268.2" r="3.2" opacity="0.96"/><circle cx="1434.5" cy="268.2" r="3.2" opacity="0.96"/><circle cx="1291.3" cy="268.3" r="3.2" opacity="0.96"/><circle cx="1386.5" cy="268.4" r="3.2" opacity="0.96"/><circle cx="1392.0" cy="268.5" r="3.2" opacity="0.96"/><circle cx="1379.1" cy="268.6" r="3.2" opacity="0.97"/><circle cx="1347.4" cy="268.6" r="3.2" opacity="0.97"/><circle cx="1343.0" cy="268.7" r="3.2" opacity="0.97"/><circle cx="1345.4" cy="268.8" r="3.2" opacity="0.97"/><circle cx="1358.6" cy="268.8" r="3.2" opacity="0.97"/><circle cx="1317.3" cy="268.9" r="3.2" opacity="0.97"/><circle cx="1376.7" cy="268.9" r="3.2" opacity="0.97"/><circle cx="1343.6" cy="269.0" r="3.2" opacity="0.97"/><circle cx="1394.6" cy="269.2" r="3.2" opacity="0.97"/><circle cx="1470.9" cy="269.2" r="3.2" opacity="0.97"/><circle cx="1323.3" cy="269.3" r="3.2" opacity="0.97"/><circle cx="1372.2" cy="269.6" r="3.2" opacity="0.97"/><circle cx="1336.9" cy="269.6" r="3.2" opacity="0.97"/><circle cx="1348.0" cy="269.7" r="3.2" opacity="0.97"/><circle cx="1390.1" cy="269.8" r="3.2" opacity="0.97"/><circle cx="1365.3" cy="269.8" r="3.2" opacity="0.97"/><circle cx="1425.0" cy="269.8" r="3.2" opacity="0.97"/><circle cx="1420.3" cy="269.9" r="3.2" opacity="0.97"/><circle cx="1353.5" cy="270.0" r="3.2" opacity="0.97"/><circle cx="1281.6" cy="270.1" r="3.2" opacity="0.97"/><circle cx="1291.6" cy="270.1" r="3.2" opacity="0.97"/><circle cx="1305.0" cy="270.2" r="3.2" opacity="0.97"/><circle cx="1367.9" cy="270.2" r="3.2" opacity="0.97"/><circle cx="1357.0" cy="270.4" r="3.2" opacity="0.97"/><circle cx="1363.2" cy="270.4" r="3.2" opacity="0.97"/><circle cx="1368.8" cy="270.4" r="3.2" opacity="0.97"/><circle cx="1384.2" cy="270.5" r="3.2" opacity="0.98"/><circle cx="1417.9" cy="270.5" r="3.2" opacity="0.98"/><circle cx="1317.4" cy="270.5" r="3.2" opacity="0.98"/><circle cx="1382.3" cy="270.6" r="3.2" opacity="0.98"/><circle cx="1308.6" cy="270.7" r="3.2" opacity="0.98"/><circle cx="1346.4" cy="270.7" r="3.2" opacity="0.98"/><circle cx="1325.8" cy="270.8" r="3.2" opacity="0.98"/><circle cx="1371.1" cy="270.9" r="3.2" opacity="0.98"/><circle cx="1352.0" cy="270.9" r="3.2" opacity="0.98"/><circle cx="1407.3" cy="271.0" r="3.2" opacity="0.98"/><circle cx="1332.4" cy="271.0" r="3.2" opacity="0.98"/><circle cx="1301.2" cy="271.1" r="3.2" opacity="0.98"/><circle cx="1354.3" cy="271.1" r="3.2" opacity="0.98"/><circle cx="1335.0" cy="271.1" r="3.2" opacity="0.98"/><circle cx="1340.5" cy="271.1" r="3.2" opacity="0.98"/><circle cx="1403.3" cy="271.1" r="3.2" opacity="0.98"/><circle cx="1370.0" cy="271.3" r="3.2" opacity="0.98"/><circle cx="1362.6" cy="271.3" r="3.2" opacity="0.98"/><circle cx="1402.9" cy="271.4" r="3.2" opacity="0.98"/><circle cx="1400.4" cy="271.5" r="3.2" opacity="0.98"/><circle cx="1330.9" cy="271.5" r="3.2" opacity="0.98"/><circle cx="1437.5" cy="271.5" r="3.2" opacity="0.98"/><circle cx="1338.4" cy="271.6" r="3.2" opacity="0.98"/><circle cx="1365.2" cy="271.6" r="3.2" opacity="0.98"/><circle cx="1331.9" cy="271.7" r="3.2" opacity="0.98"/><circle cx="1261.7" cy="271.7" r="3.2" opacity="0.98"/><circle cx="1287.2" cy="271.7" r="3.2" opacity="0.98"/><circle cx="1352.0" cy="271.8" r="3.2" opacity="0.98"/><circle cx="1347.9" cy="271.8" r="3.2" opacity="0.98"/><circle cx="1345.3" cy="271.9" r="3.2" opacity="0.98"/><circle cx="1397.0" cy="272.0" r="3.2" opacity="0.98"/><circle cx="1372.1" cy="272.0" r="3.2" opacity="0.98"/><circle cx="1381.8" cy="272.0" r="3.2" opacity="0.98"/><circle cx="1359.4" cy="272.2" r="3.2" opacity="0.98"/><circle cx="1374.3" cy="272.2" r="3.2" opacity="0.98"/><circle cx="1400.1" cy="272.2" r="3.2" opacity="0.98"/><circle cx="1381.9" cy="272.3" r="3.2" opacity="0.99"/><circle cx="1384.3" cy="272.4" r="3.2" opacity="0.99"/><circle cx="1386.7" cy="272.4" r="3.2" opacity="0.99"/><circle cx="1421.2" cy="272.5" r="3.2" opacity="0.99"/><circle cx="1374.9" cy="272.5" r="3.2" opacity="0.99"/><circle cx="1360.9" cy="272.6" r="3.2" opacity="0.99"/><circle cx="1364.4" cy="272.7" r="3.2" opacity="0.99"/><circle cx="1342.6" cy="272.7" r="3.2" opacity="0.99"/><circle cx="1338.1" cy="272.8" r="3.2" opacity="0.99"/><circle cx="1320.9" cy="272.8" r="3.2" opacity="0.99"/><circle cx="1413.6" cy="272.8" r="3.2" opacity="0.99"/><circle cx="1385.2" cy="272.9" r="3.2" opacity="0.99"/><circle cx="1314.0" cy="272.9" r="3.2" opacity="0.99"/><circle cx="1357.5" cy="273.0" r="3.2" opacity="0.99"/><circle cx="1333.3" cy="273.2" r="3.2" opacity="0.99"/><circle cx="1393.4" cy="273.2" r="3.2" opacity="0.99"/><circle cx="1315.7" cy="273.3" r="3.2" opacity="0.99"/><circle cx="1420.3" cy="273.6" r="3.2" opacity="0.99"/><circle cx="1374.2" cy="273.8" r="3.2" opacity="0.99"/><circle cx="1338.5" cy="273.9" r="3.2" opacity="0.99"/><circle cx="1343.9" cy="274.0" r="3.2" opacity="0.99"/><circle cx="1328.9" cy="274.0" r="3.2" opacity="0.99"/><circle cx="1368.5" cy="274.3" r="3.2"/><circle cx="1319.1" cy="274.3" r="3.2"/><circle cx="1392.7" cy="274.3" r="3.2"/><circle cx="1370.9" cy="274.4" r="3.2"/><circle cx="1396.8" cy="274.6" r="3.2"/><circle cx="1346.5" cy="274.7" r="3.2"/><circle cx="1388.7" cy="274.8" r="3.2"/><circle cx="1409.4" cy="274.9" r="3.2"/><circle cx="1307.7" cy="274.9" r="3.2"/><circle cx="1360.7" cy="275.1" r="3.2"/><circle cx="1404.5" cy="275.1" r="3.2"/><circle cx="1327.8" cy="275.1" r="3.2"/><circle cx="1374.2" cy="275.2" r="3.2"/><circle cx="1459.1" cy="275.4" r="3.2"/><circle cx="1380.6" cy="275.4" r="3.2"/><circle cx="1387.7" cy="275.5" r="3.2"/><circle cx="1416.6" cy="275.7" r="3.2"/><circle cx="1366.3" cy="275.7" r="3.2"/><circle cx="1351.5" cy="275.7" r="3.2"/><circle cx="1395.0" cy="275.8" r="3.2"/><circle cx="1424.9" cy="275.9" r="3.2"/><circle cx="1374.7" cy="275.9" r="3.2"/><circle cx="1349.0" cy="275.9" r="3.2"/><circle cx="1340.4" cy="276.0" r="3.2"/><circle cx="1369.8" cy="276.0" r="3.2"/><circle cx="1417.1" cy="276.0" r="3.2"/><circle cx="1361.5" cy="276.1" r="3.2"/><circle cx="1386.3" cy="276.1" r="3.2"/><circle cx="1365.8" cy="276.2" r="3.2"/><circle cx="1419.0" cy="276.2" r="3.2"/><circle cx="1400.4" cy="276.2" r="3.2"/><circle cx="1326.8" cy="276.3" r="3.2"/><circle cx="1369.4" cy="276.3" r="3.2"/><circle cx="1327.0" cy="276.3" r="3.2"/><circle cx="1403.8" cy="276.4" r="3.2"/><circle cx="1391.9" cy="276.5" r="3.2"/><circle cx="1368.0" cy="276.5" r="3.2"/><circle cx="1365.4" cy="276.5" r="3.2"/><circle cx="1342.5" cy="276.6" r="3.2"/><circle cx="1377.3" cy="276.6" r="3.2"/><circle cx="1411.5" cy="276.6" r="3.2"/><circle cx="1368.9" cy="276.7" r="3.2"/><circle cx="1376.1" cy="276.8" r="3.2"/><circle cx="1388.4" cy="277.0" r="3.2"/><circle cx="1317.3" cy="277.1" r="3.2"/><circle cx="1388.7" cy="277.1" r="3.2"/><circle cx="1372.7" cy="277.2" r="3.2"/><circle cx="1321.4" cy="277.2" r="3.2"/><circle cx="1404.0" cy="277.3" r="3.2"/><circle cx="1402.3" cy="277.3" r="3.2"/><circle cx="1393.1" cy="277.5" r="3.2"/><circle cx="1316.9" cy="277.5" r="3.2"/><circle cx="1373.3" cy="277.8" r="3.2"/><circle cx="1322.1" cy="277.8" r="3.2"/><circle cx="1405.2" cy="277.9" r="3.2"/><circle cx="1403.0" cy="277.9" r="3.2"/><circle cx="1348.3" cy="278.0" r="3.2"/><circle cx="1316.1" cy="278.2" r="3.2"/><circle cx="1377.3" cy="278.3" r="3.2"/><circle cx="1350.5" cy="278.3" r="3.2"/><circle cx="1424.0" cy="278.3" r="3.2"/><circle cx="1320.8" cy="278.4" r="3.2"/><circle cx="1395.7" cy="278.4" r="3.2"/><circle cx="1424.0" cy="278.4" r="3.2"/><circle cx="1342.6" cy="278.5" r="3.2"/><circle cx="1346.7" cy="278.5" r="3.2"/><circle cx="1401.0" cy="278.6" r="3.2"/><circle cx="1326.8" cy="278.6" r="3.2"/><circle cx="1404.4" cy="278.6" r="3.2"/><circle cx="1320.2" cy="278.7" r="3.2"/><circle cx="1417.2" cy="278.9" r="3.2"/><circle cx="1385.9" cy="278.9" r="3.2"/><circle cx="1396.2" cy="278.9" r="3.2"/><circle cx="1427.0" cy="278.9" r="3.2"/><circle cx="1384.9" cy="278.9" r="3.2"/><circle cx="1368.7" cy="278.9" r="3.2"/><circle cx="1349.9" cy="279.2" r="3.2"/><circle cx="1382.8" cy="279.2" r="3.2"/><circle cx="1378.4" cy="279.3" r="3.2"/><circle cx="1438.1" cy="279.4" r="3.2"/><circle cx="1349.8" cy="279.5" r="3.2"/><circle cx="1372.7" cy="279.6" r="3.2"/><circle cx="1352.1" cy="279.7" r="3.2"/><circle cx="1339.5" cy="279.7" r="3.2"/><circle cx="1399.8" cy="279.8" r="3.2"/><circle cx="1406.5" cy="279.9" r="3.2"/><circle cx="1357.2" cy="280.1" r="3.2"/><circle cx="1361.8" cy="280.2" r="3.2"/><circle cx="1371.8" cy="280.2" r="3.2"/><circle cx="1301.9" cy="280.2" r="3.2"/><circle cx="1316.8" cy="280.3" r="3.2"/><circle cx="1399.1" cy="280.4" r="3.2"/><circle cx="1317.3" cy="280.4" r="3.2"/><circle cx="1401.6" cy="280.6" r="3.2"/><circle cx="1369.0" cy="280.6" r="3.2"/><circle cx="1367.0" cy="280.7" r="3.2"/><circle cx="1344.4" cy="280.7" r="3.2"/><circle cx="1350.2" cy="280.7" r="3.2"/><circle cx="1379.7" cy="280.8" r="3.2"/><circle cx="1369.9" cy="280.9" r="3.2"/><circle cx="1386.1" cy="280.9" r="3.2"/><circle cx="1386.9" cy="280.9" r="3.2"/><circle cx="1420.3" cy="280.9" r="3.2"/><circle cx="1331.3" cy="281.0" r="3.2"/><circle cx="1464.1" cy="281.0" r="3.2"/><circle cx="1389.9" cy="281.0" r="3.2"/><circle cx="1447.8" cy="281.1" r="3.2"/><circle cx="1350.4" cy="281.1" r="3.2"/><circle cx="1411.6" cy="281.2" r="3.2"/><circle cx="1329.1" cy="281.4" r="3.2"/><circle cx="1397.0" cy="281.5" r="3.2"/><circle cx="1400.5" cy="281.5" r="3.2"/><circle cx="1358.9" cy="281.7" r="3.2"/><circle cx="1329.9" cy="281.7" r="3.2"/><circle cx="1391.0" cy="281.7" r="3.2"/><circle cx="1331.7" cy="281.8" r="3.2"/><circle cx="1353.7" cy="282.0" r="3.2"/><circle cx="1389.5" cy="282.0" r="3.2"/><circle cx="1261.7" cy="282.0" r="3.2"/><circle cx="1426.4" cy="282.2" r="3.2"/><circle cx="1333.3" cy="282.3" r="3.2"/><circle cx="1386.3" cy="282.5" r="3.2"/><circle cx="1430.1" cy="282.5" r="3.2"/><circle cx="1361.3" cy="282.5" r="3.2"/><circle cx="1397.2" cy="282.5" r="3.2"/><circle cx="1291.9" cy="282.6" r="3.2"/><circle cx="1386.7" cy="282.6" r="3.2"/><circle cx="1362.5" cy="282.6" r="3.2"/><circle cx="1358.1" cy="282.7" r="3.2"/><circle cx="1327.9" cy="282.7" r="3.2"/><circle cx="1372.1" cy="282.7" r="3.2"/><circle cx="1350.5" cy="282.7" r="3.2"/><circle cx="1369.6" cy="282.8" r="3.2"/><circle cx="1347.9" cy="282.8" r="3.2"/><circle cx="1349.7" cy="282.9" r="3.2"/><circle cx="1399.2" cy="283.1" r="3.2"/><circle cx="1430.9" cy="283.1" r="3.2"/><circle cx="1313.8" cy="283.2" r="3.2"/><circle cx="1363.0" cy="283.2" r="3.2"/><circle cx="1358.8" cy="283.3" r="3.2"/><circle cx="1352.1" cy="283.3" r="3.2"/><circle cx="1459.9" cy="283.3" r="3.2"/><circle cx="1377.0" cy="283.5" r="3.2"/><circle cx="1444.5" cy="283.5" r="3.2"/><circle cx="1392.2" cy="283.5" r="3.2"/><circle cx="1382.7" cy="283.8" r="3.2"/><circle cx="1330.0" cy="283.8" r="3.2"/><circle cx="1391.7" cy="283.9" r="3.2"/><circle cx="1337.9" cy="284.0" r="3.2"/><circle cx="1390.8" cy="284.1" r="3.2"/><circle cx="1354.0" cy="284.1" r="3.2"/><circle cx="1436.8" cy="284.2" r="3.2"/><circle cx="1354.2" cy="284.3" r="3.2"/><circle cx="1379.1" cy="284.3" r="3.2"/><circle cx="1359.0" cy="284.4" r="3.2"/><circle cx="1366.7" cy="284.4" r="3.2"/><circle cx="1353.2" cy="284.5" r="3.2"/><circle cx="1317.8" cy="284.5" r="3.2"/><circle cx="1373.3" cy="284.5" r="3.2"/><circle cx="1416.3" cy="284.5" r="3.2"/><circle cx="1361.9" cy="284.6" r="3.2"/><circle cx="1377.2" cy="284.6" r="3.2"/><circle cx="1368.4" cy="284.7" r="3.2"/><circle cx="1301.3" cy="284.7" r="3.2"/><circle cx="1370.6" cy="284.8" r="3.2"/><circle cx="1474.1" cy="285.1" r="3.2"/><circle cx="1419.7" cy="285.2" r="3.2"/><circle cx="1421.8" cy="285.2" r="3.2"/><circle cx="1399.7" cy="285.4" r="3.2"/><circle cx="1372.7" cy="285.5" r="3.2"/><circle cx="1357.0" cy="285.6" r="3.2"/><circle cx="1391.9" cy="285.6" r="3.2"/><circle cx="1434.9" cy="285.7" r="3.2"/><circle cx="1449.1" cy="285.7" r="3.2"/><circle cx="1389.7" cy="285.8" r="3.2"/><circle cx="1404.2" cy="285.8" r="3.2"/><circle cx="1377.6" cy="285.9" r="3.2"/><circle cx="1376.0" cy="285.9" r="3.2"/><circle cx="1372.1" cy="286.0" r="3.2"/><circle cx="1359.0" cy="286.3" r="3.2"/><circle cx="1345.5" cy="286.3" r="3.2"/><circle cx="1421.6" cy="286.3" r="3.2"/><circle cx="1379.3" cy="286.5" r="3.2"/><circle cx="1376.7" cy="286.6" r="3.2"/><circle cx="1369.1" cy="286.7" r="3.2"/><circle cx="1373.8" cy="286.7" r="3.2"/><circle cx="1383.6" cy="286.8" r="3.2"/><circle cx="1349.1" cy="286.8" r="3.2"/><circle cx="1354.4" cy="286.9" r="3.2"/><circle cx="1311.8" cy="286.9" r="3.2"/><circle cx="1374.4" cy="287.0" r="3.2"/><circle cx="1380.2" cy="287.0" r="3.2"/><circle cx="1435.5" cy="287.0" r="3.2"/><circle cx="1359.2" cy="287.1" r="3.2"/><circle cx="1354.8" cy="287.2" r="3.2"/><circle cx="1374.4" cy="287.4" r="3.2"/><circle cx="1324.0" cy="287.4" r="3.2"/><circle cx="1324.1" cy="287.4" r="3.2"/><circle cx="1377.3" cy="287.4" r="3.2"/><circle cx="1381.5" cy="287.5" r="3.2"/><circle cx="1351.5" cy="287.5" r="3.2"/><circle cx="1386.0" cy="287.6" r="3.2"/><circle cx="1345.6" cy="287.6" r="3.2"/><circle cx="1391.6" cy="287.8" r="3.2"/><circle cx="1346.3" cy="287.8" r="3.2"/><circle cx="1359.0" cy="287.9" r="3.2"/><circle cx="1458.5" cy="287.9" r="3.2"/><circle cx="1371.8" cy="288.0" r="3.2"/><circle cx="1398.7" cy="288.0" r="3.2"/><circle cx="1404.1" cy="288.0" r="3.2"/><circle cx="1397.7" cy="288.1" r="3.2"/><circle cx="1384.4" cy="288.3" r="3.2"/><circle cx="1388.8" cy="288.4" r="3.2"/><circle cx="1412.8" cy="288.4" r="3.2"/><circle cx="1355.0" cy="288.4" r="3.2"/><circle cx="1309.2" cy="288.5" r="3.2"/><circle cx="1391.6" cy="288.5" r="3.2"/><circle cx="1362.2" cy="288.6" r="3.2"/><circle cx="1333.2" cy="288.6" r="3.2"/><circle cx="1408.6" cy="288.7" r="3.2"/><circle cx="1343.3" cy="288.7" r="3.2"/><circle cx="1405.6" cy="288.7" r="3.2"/><circle cx="1423.1" cy="288.8" r="3.2"/><circle cx="1290.3" cy="288.8" r="3.2"/><circle cx="1376.4" cy="288.9" r="3.2"/><circle cx="1363.1" cy="289.1" r="3.2"/><circle cx="1319.4" cy="289.3" r="3.2"/><circle cx="1414.1" cy="289.5" r="3.2"/><circle cx="1381.0" cy="289.6" r="3.2"/><circle cx="1373.5" cy="289.6" r="3.2"/><circle cx="1406.8" cy="289.7" r="3.2"/><circle cx="1381.6" cy="289.8" r="3.2"/><circle cx="1415.9" cy="289.8" r="3.2"/><circle cx="1376.0" cy="289.8" r="3.2"/><circle cx="1335.8" cy="289.9" r="3.2"/><circle cx="1383.3" cy="290.0" r="3.2"/><circle cx="1343.9" cy="290.1" r="3.2"/><circle cx="1374.3" cy="290.1" r="3.2"/><circle cx="1404.9" cy="290.2" r="3.2"/><circle cx="1362.7" cy="290.2" r="3.2"/><circle cx="1356.1" cy="290.2" r="3.2"/><circle cx="1375.5" cy="290.2" r="3.2"/><circle cx="1382.8" cy="290.3" r="3.2"/><circle cx="1314.2" cy="290.4" r="3.2"/><circle cx="1274.1" cy="290.4" r="3.2"/><circle cx="1327.6" cy="290.7" r="3.2"/><circle cx="1349.6" cy="290.7" r="3.2"/><circle cx="1346.2" cy="290.7" r="3.2"/><circle cx="1388.8" cy="290.8" r="3.2"/><circle cx="1420.3" cy="290.8" r="3.2"/><circle cx="1365.8" cy="290.8" r="3.2"/><circle cx="1337.0" cy="290.9" r="3.2"/><circle cx="1353.6" cy="290.9" r="3.2"/><circle cx="1401.8" cy="291.2" r="3.2"/><circle cx="1433.7" cy="291.2" r="3.2"/><circle cx="1361.0" cy="291.2" r="3.2"/><circle cx="1360.5" cy="291.2" r="3.2"/><circle cx="1352.4" cy="291.2" r="3.2"/><circle cx="1415.2" cy="291.4" r="3.2"/><circle cx="1423.1" cy="291.5" r="3.2"/><circle cx="1351.2" cy="291.5" r="3.2"/><circle cx="1367.0" cy="291.6" r="3.2"/><circle cx="1356.3" cy="291.8" r="3.2"/><circle cx="1332.4" cy="292.0" r="3.2"/><circle cx="1399.3" cy="292.0" r="3.2"/><circle cx="1363.3" cy="292.0" r="3.2"/><circle cx="1356.6" cy="292.1" r="3.2"/><circle cx="1340.7" cy="292.3" r="3.2"/><circle cx="1419.0" cy="292.3" r="3.2"/><circle cx="1338.3" cy="292.3" r="3.2"/><circle cx="1365.7" cy="292.4" r="3.2"/><circle cx="1378.8" cy="292.5" r="3.2"/><circle cx="1371.5" cy="292.7" r="3.2"/><circle cx="1413.3" cy="292.9" r="3.2"/><circle cx="1381.9" cy="292.9" r="3.2"/><circle cx="1388.3" cy="292.9" r="3.2"/><circle cx="1362.3" cy="293.0" r="3.2"/><circle cx="1355.5" cy="293.1" r="3.2"/><circle cx="1336.0" cy="293.1" r="3.2"/><circle cx="1419.9" cy="293.2" r="3.2"/><circle cx="1358.6" cy="293.2" r="3.2"/><circle cx="1376.6" cy="293.2" r="3.2"/><circle cx="1370.4" cy="293.3" r="3.2"/><circle cx="1352.7" cy="293.4" r="3.2"/><circle cx="1371.8" cy="293.5" r="3.2"/><circle cx="1371.5" cy="293.6" r="3.2"/><circle cx="1324.9" cy="293.6" r="3.2"/><circle cx="1397.2" cy="293.8" r="3.2"/><circle cx="1360.0" cy="293.8" r="3.2"/><circle cx="1339.8" cy="293.8" r="3.2"/><circle cx="1371.6" cy="294.0" r="3.2"/><circle cx="1364.3" cy="294.1" r="3.2"/><circle cx="1375.9" cy="294.1" r="3.2"/><circle cx="1419.4" cy="294.6" r="3.2"/><circle cx="1343.2" cy="294.7" r="3.2"/><circle cx="1369.9" cy="294.7" r="3.2"/><circle cx="1420.4" cy="294.7" r="3.2"/><circle cx="1419.1" cy="295.0" r="3.2"/><circle cx="1348.4" cy="295.2" r="3.2"/><circle cx="1434.8" cy="295.4" r="3.2"/><circle cx="1366.0" cy="295.4" r="3.2"/><circle cx="1412.0" cy="295.4" r="3.2"/><circle cx="1417.4" cy="295.4" r="3.2"/><circle cx="1374.1" cy="295.5" r="3.2"/><circle cx="1399.4" cy="295.6" r="3.2"/><circle cx="1333.1" cy="295.8" r="3.2"/><circle cx="1347.0" cy="295.9" r="3.2"/><circle cx="1367.6" cy="295.9" r="3.2"/><circle cx="1293.1" cy="296.0" r="3.2"/><circle cx="1350.0" cy="296.1" r="3.2"/><circle cx="1305.3" cy="296.1" r="3.2"/><circle cx="1381.5" cy="296.2" r="3.2"/><circle cx="1407.6" cy="296.3" r="3.2"/><circle cx="1361.0" cy="296.6" r="3.2"/><circle cx="1427.0" cy="296.6" r="3.2"/><circle cx="1341.8" cy="296.6" r="3.2"/><circle cx="1359.3" cy="296.8" r="3.2"/><circle cx="1347.4" cy="296.8" r="3.2"/><circle cx="1358.7" cy="296.8" r="3.2"/><circle cx="1441.8" cy="296.9" r="3.2"/><circle cx="1342.3" cy="297.1" r="3.2"/><circle cx="1321.9" cy="297.1" r="3.2"/><circle cx="1372.2" cy="297.3" r="3.2"/><circle cx="1432.6" cy="297.3" r="3.2"/><circle cx="1404.3" cy="297.3" r="3.2"/><circle cx="1334.1" cy="297.6" r="3.2"/><circle cx="1352.5" cy="297.7" r="3.2"/><circle cx="1339.5" cy="297.7" r="3.2"/><circle cx="1352.3" cy="297.9" r="3.2"/><circle cx="1361.8" cy="297.9" r="3.2"/><circle cx="1359.5" cy="298.0" r="3.2"/><circle cx="1346.2" cy="298.0" r="3.2"/><circle cx="1375.7" cy="298.1" r="3.2"/><circle cx="1359.2" cy="298.1" r="3.2"/><circle cx="1347.8" cy="298.4" r="3.2"/><circle cx="1388.8" cy="298.5" r="3.2"/><circle cx="1362.1" cy="298.5" r="3.2"/><circle cx="1369.7" cy="298.6" r="3.2"/><circle cx="1342.1" cy="298.7" r="3.2"/><circle cx="1392.9" cy="298.7" r="3.2"/><circle cx="1405.6" cy="298.9" r="3.2"/><circle cx="1395.8" cy="298.9" r="3.2"/><circle cx="1425.5" cy="298.9" r="3.2"/><circle cx="1355.5" cy="298.9" r="3.2"/><circle cx="1387.9" cy="299.0" r="3.2"/><circle cx="1396.0" cy="299.1" r="3.2"/><circle cx="1360.8" cy="299.1" r="3.2"/><circle cx="1390.5" cy="299.2" r="3.2"/><circle cx="1406.9" cy="299.4" r="3.2"/><circle cx="1362.1" cy="299.4" r="3.2"/><circle cx="1420.2" cy="299.5" r="3.2"/><circle cx="1340.2" cy="299.5" r="3.2"/><circle cx="1433.4" cy="299.7" r="3.2"/><circle cx="1395.3" cy="299.8" r="3.2"/><circle cx="1375.1" cy="299.8" r="3.2"/><circle cx="1419.6" cy="299.8" r="3.2"/><circle cx="1371.8" cy="299.8" r="3.2"/><circle cx="1404.3" cy="299.9" r="3.2"/><circle cx="1370.4" cy="300.1" r="3.2"/><circle cx="1433.7" cy="300.1" r="3.2"/><circle cx="1314.6" cy="300.2" r="3.2"/><circle cx="1317.7" cy="300.4" r="3.2"/><circle cx="1349.0" cy="300.4" r="3.2"/><circle cx="1342.7" cy="300.5" r="3.2"/><circle cx="1401.7" cy="300.6" r="3.2"/><circle cx="1368.1" cy="300.9" r="3.2"/><circle cx="1357.8" cy="301.1" r="3.2"/><circle cx="1379.0" cy="301.1" r="3.2"/><circle cx="1388.2" cy="301.1" r="3.2"/><circle cx="1437.3" cy="301.1" r="3.2"/><circle cx="1323.4" cy="301.2" r="3.2"/><circle cx="1418.7" cy="301.2" r="3.2"/><circle cx="1315.5" cy="301.3" r="3.2"/><circle cx="1327.2" cy="301.5" r="3.2"/><circle cx="1369.0" cy="301.6" r="3.2"/><circle cx="1388.1" cy="301.6" r="3.2"/><circle cx="1342.2" cy="301.9" r="3.2"/><circle cx="1375.7" cy="302.0" r="3.2"/><circle cx="1415.6" cy="302.0" r="3.2"/><circle cx="1368.1" cy="302.1" r="3.2"/><circle cx="1409.8" cy="302.1" r="3.2"/><circle cx="1370.3" cy="302.6" r="3.2"/><circle cx="1272.3" cy="302.8" r="3.2"/><circle cx="1363.6" cy="303.0" r="3.2"/><circle cx="1356.0" cy="303.0" r="3.2"/><circle cx="1356.3" cy="303.3" r="3.2"/><circle cx="1494.3" cy="303.5" r="3.2"/><circle cx="1371.2" cy="303.5" r="3.2"/><circle cx="1364.2" cy="303.6" r="3.2"/><circle cx="1371.2" cy="303.7" r="3.2"/><circle cx="1340.8" cy="303.7" r="3.2"/><circle cx="1370.5" cy="303.9" r="3.2"/><circle cx="1411.2" cy="303.9" r="3.2"/><circle cx="1365.9" cy="304.0" r="3.2"/><circle cx="1378.6" cy="304.0" r="3.2"/><circle cx="1336.8" cy="304.0" r="3.2"/><circle cx="1385.6" cy="304.3" r="3.2"/><circle cx="1372.8" cy="304.3" r="3.2"/><circle cx="1384.5" cy="304.4" r="3.2"/><circle cx="1305.9" cy="304.4" r="3.2"/><circle cx="1387.4" cy="304.5" r="3.2"/><circle cx="1341.5" cy="304.7" r="3.2"/><circle cx="1360.9" cy="304.7" r="3.2"/><circle cx="1384.9" cy="304.8" r="3.2"/><circle cx="1366.9" cy="305.0" r="3.2"/><circle cx="1342.9" cy="305.1" r="3.2"/><circle cx="1390.6" cy="305.1" r="3.2"/><circle cx="1376.2" cy="305.1" r="3.2"/><circle cx="1341.1" cy="305.1" r="3.2"/><circle cx="1309.2" cy="305.2" r="3.2"/><circle cx="1369.4" cy="305.3" r="3.2"/><circle cx="1337.2" cy="305.3" r="3.2"/><circle cx="1382.6" cy="305.5" r="3.2"/><circle cx="1335.3" cy="305.6" r="3.2"/><circle cx="1403.6" cy="305.6" r="3.2"/><circle cx="1349.6" cy="305.7" r="3.2"/><circle cx="1402.7" cy="305.7" r="3.2"/><circle cx="1443.8" cy="305.8" r="3.2"/><circle cx="1389.6" cy="306.0" r="3.2"/><circle cx="1431.2" cy="306.2" r="3.2"/><circle cx="1386.1" cy="306.3" r="3.2"/><circle cx="1391.0" cy="306.3" r="3.2"/><circle cx="1342.2" cy="306.3" r="3.2"/><circle cx="1336.7" cy="306.5" r="3.2"/><circle cx="1340.6" cy="306.6" r="3.2"/><circle cx="1373.3" cy="306.6" r="3.2"/><circle cx="1435.3" cy="306.6" r="3.2"/><circle cx="1428.3" cy="306.7" r="3.2"/><circle cx="1350.0" cy="306.7" r="3.2"/><circle cx="1432.8" cy="306.9" r="3.2"/><circle cx="1323.3" cy="307.2" r="3.2"/><circle cx="1432.0" cy="307.4" r="3.2"/><circle cx="1331.4" cy="307.5" r="3.2"/><circle cx="1400.7" cy="307.7" r="3.2"/><circle cx="1421.3" cy="307.9" r="3.2"/><circle cx="1360.2" cy="307.9" r="3.2"/><circle cx="1425.6" cy="307.9" r="3.2"/><circle cx="1365.0" cy="308.0" r="3.2"/><circle cx="1393.8" cy="308.4" r="3.2"/><circle cx="1379.6" cy="308.6" r="3.2"/><circle cx="1386.6" cy="308.6" r="3.2"/><circle cx="1326.3" cy="309.0" r="3.2"/><circle cx="1342.0" cy="309.3" r="3.2"/><circle cx="1380.8" cy="309.4" r="3.2"/><circle cx="1369.8" cy="309.5" r="3.2"/><circle cx="1386.6" cy="309.6" r="3.2"/><circle cx="1357.7" cy="309.9" r="3.2"/><circle cx="1432.9" cy="310.0" r="3.2"/><circle cx="1389.2" cy="310.0" r="3.2"/><circle cx="1326.4" cy="310.0" r="3.2"/><circle cx="1359.2" cy="310.0" r="3.2"/><circle cx="1366.9" cy="310.2" r="3.2"/><circle cx="1345.2" cy="310.4" r="3.2"/><circle cx="1380.2" cy="310.4" r="3.2"/><circle cx="1359.9" cy="310.4" r="3.2"/><circle cx="1359.9" cy="310.7" r="3.2"/><circle cx="1347.7" cy="310.8" r="3.2"/><circle cx="1396.1" cy="310.8" r="3.2"/><circle cx="1363.8" cy="311.0" r="3.2"/><circle cx="1296.5" cy="311.1" r="3.2"/><circle cx="1422.2" cy="311.2" r="3.2"/><circle cx="1391.0" cy="311.4" r="3.2"/><circle cx="1334.0" cy="311.8" r="3.2"/><circle cx="1308.8" cy="312.0" r="3.2"/><circle cx="1359.5" cy="312.0" r="3.2"/><circle cx="1313.9" cy="312.0" r="3.2"/><circle cx="1396.2" cy="312.3" r="3.2"/><circle cx="1335.2" cy="312.4" r="3.2"/><circle cx="1347.2" cy="312.6" r="3.2"/><circle cx="1429.4" cy="312.8" r="3.2"/><circle cx="1363.0" cy="312.8" r="3.2"/><circle cx="1302.1" cy="313.0" r="3.2"/><circle cx="1338.0" cy="313.1" r="3.2"/><circle cx="1325.2" cy="313.5" r="3.2"/><circle cx="1347.6" cy="313.5" r="3.2"/><circle cx="1376.6" cy="313.6" r="3.2"/><circle cx="1371.7" cy="313.6" r="3.2"/><circle cx="1342.6" cy="313.8" r="3.2"/><circle cx="1313.9" cy="314.2" r="3.2"/><circle cx="1397.7" cy="314.2" r="3.2"/><circle cx="1396.5" cy="314.2" r="3.2"/><circle cx="1325.8" cy="314.3" r="3.2"/><circle cx="1375.1" cy="314.3" r="3.2"/><circle cx="1403.0" cy="314.5" r="3.2"/><circle cx="1366.6" cy="314.8" r="3.2"/><circle cx="1363.9" cy="315.1" r="3.2"/><circle cx="1345.4" cy="315.1" r="3.2"/><circle cx="1400.4" cy="315.1" r="3.2"/><circle cx="1331.1" cy="315.1" r="3.2"/><circle cx="1400.1" cy="316.1" r="3.2"/><circle cx="1339.5" cy="316.5" r="3.2"/><circle cx="1331.5" cy="316.5" r="3.2"/><circle cx="1367.2" cy="316.6" r="3.2"/><circle cx="1271.0" cy="316.7" r="3.2"/><circle cx="1344.7" cy="317.0" r="3.2"/><circle cx="1359.8" cy="317.0" r="3.2"/><circle cx="1372.2" cy="317.2" r="3.2"/><circle cx="1311.8" cy="317.4" r="3.2"/><circle cx="1377.5" cy="317.5" r="3.2"/><circle cx="1353.2" cy="317.6" r="3.2"/><circle cx="1380.5" cy="317.6" r="3.2"/><circle cx="1357.2" cy="318.1" r="3.2"/><circle cx="1381.2" cy="318.4" r="3.2"/><circle cx="1332.7" cy="318.5" r="3.2"/><circle cx="1332.5" cy="318.6" r="3.2"/><circle cx="1335.9" cy="318.8" r="3.2"/><circle cx="1376.5" cy="318.8" r="3.2"/><circle cx="1389.4" cy="318.9" r="3.2"/><circle cx="1301.5" cy="319.1" r="3.2"/><circle cx="1385.0" cy="319.4" r="3.2"/><circle cx="1436.9" cy="319.5" r="3.2"/><circle cx="1342.7" cy="319.6" r="3.2"/><circle cx="1398.2" cy="320.6" r="3.2"/><circle cx="1355.8" cy="320.8" r="3.2"/><circle cx="1385.4" cy="321.2" r="3.2"/><circle cx="1346.7" cy="321.4" r="3.2"/><circle cx="1347.1" cy="321.5" r="3.2"/><circle cx="1360.1" cy="321.8" r="3.2"/><circle cx="1325.1" cy="322.2" r="3.2"/><circle cx="1386.8" cy="322.2" r="3.2"/><circle cx="1336.5" cy="322.3" r="3.2"/><circle cx="1387.7" cy="322.7" r="3.2"/><circle cx="1429.5" cy="322.9" r="3.2"/><circle cx="1333.7" cy="323.2" r="3.2"/><circle cx="1337.8" cy="323.2" r="3.2"/><circle cx="1332.4" cy="323.5" r="3.2"/><circle cx="1358.0" cy="323.9" r="3.2"/><circle cx="1342.1" cy="323.9" r="3.2"/><circle cx="1419.4" cy="324.1" r="3.2"/><circle cx="1434.1" cy="324.4" r="3.2"/><circle cx="1385.5" cy="324.4" r="3.2"/><circle cx="1381.4" cy="324.4" r="3.2"/><circle cx="1322.5" cy="324.9" r="3.2"/><circle cx="1396.0" cy="325.2" r="3.2"/><circle cx="1418.7" cy="325.4" r="3.2"/><circle cx="1374.9" cy="325.9" r="3.2"/><circle cx="1421.7" cy="326.1" r="3.2"/><circle cx="1378.9" cy="326.9" r="3.2"/><circle cx="1378.3" cy="327.4" r="3.2"/><circle cx="1356.3" cy="327.5" r="3.2"/><circle cx="1312.1" cy="327.6" r="3.2"/><circle cx="1414.9" cy="327.6" r="3.2"/><circle cx="1371.7" cy="327.6" r="3.2"/><circle cx="1397.3" cy="327.7" r="3.2"/><circle cx="1425.8" cy="328.2" r="3.2"/><circle cx="1391.2" cy="328.5" r="3.2"/><circle cx="1318.3" cy="329.2" r="3.2"/><circle cx="1383.5" cy="329.6" r="3.2"/><circle cx="1368.8" cy="329.7" r="3.2"/><circle cx="1344.7" cy="329.9" r="3.2"/><circle cx="1356.7" cy="330.0" r="3.2"/><circle cx="1334.3" cy="330.9" r="3.2"/><circle cx="1311.4" cy="331.0" r="3.2"/><circle cx="1403.0" cy="331.6" r="3.2"/><circle cx="1366.3" cy="332.7" r="3.2"/><circle cx="1411.8" cy="333.2" r="3.2"/><circle cx="1361.3" cy="333.8" r="3.2"/><circle cx="1372.8" cy="334.4" r="3.2"/><circle cx="1323.3" cy="334.6" r="3.2"/><circle cx="1378.3" cy="334.9" r="3.2"/><circle cx="1403.1" cy="337.0" r="3.2"/><circle cx="1376.6" cy="337.0" r="3.2"/><circle cx="1354.2" cy="337.0" r="3.2"/><circle cx="1338.1" cy="337.1" r="3.2"/><circle cx="1339.5" cy="338.7" r="3.2"/><circle cx="1389.0" cy="339.0" r="3.2"/><circle cx="1329.2" cy="339.1" r="3.2"/><circle cx="1371.9" cy="339.6" r="3.2"/><circle cx="1344.2" cy="340.8" r="3.2"/><circle cx="1323.9" cy="341.0" r="3.2"/><circle cx="1398.1" cy="341.1" r="3.2"/><circle cx="1333.9" cy="343.2" r="3.2"/><circle cx="1403.4" cy="344.7" r="3.2"/><circle cx="1381.6" cy="344.7" r="3.2"/><circle cx="1348.1" cy="345.3" r="3.2"/><circle cx="1374.4" cy="346.3" r="3.2"/><circle cx="1334.5" cy="346.3" r="3.2"/><circle cx="1396.1" cy="348.2" r="3.2"/><circle cx="1393.7" cy="348.8" r="3.2"/><circle cx="1346.3" cy="350.6" r="3.2"/><circle cx="1451.3" cy="351.6" r="3.2"/><circle cx="1366.0" cy="351.6" r="3.2"/><circle cx="1412.7" cy="352.5" r="3.2"/><circle cx="1389.0" cy="353.2" r="3.2"/><circle cx="1312.7" cy="354.1" r="3.2"/><circle cx="1369.7" cy="355.6" r="3.2"/><circle cx="1326.1" cy="360.9" r="3.2"/><circle cx="1282.2" cy="368.1" r="3.2"/><circle cx="1376.6" cy="369.7" r="3.2"/><circle cx="1380.0" cy="379.0" r="3.2"/><circle cx="1367.5" cy="419.8" r="3.2"/><circle cx="1341.7" cy="425.1" r="3.2"/></g>
<path d="M1185.5 258.1L1317.2 94L1548.4 253.4L1427.4 431.5Z" fill="#c30000" fill-opacity=".2"/>
<path d="M1151.5 398.2L1425.3 487.6M1425.3 487.6L1570.8 338.4M1570.8 338.4L1580.0 137.1" stroke="#2e2e2e" stroke-width="1.15" fill="none" stroke-linecap="square"/>
<path d="M1168.7 402.7L1164.1 406.6M1226.5 421.6L1222.0 425.6M1285.6 440.9L1281.2 445.0M1346.1 460.7L1341.8 464.8M1408.0 480.9L1403.8 485.1M1444.2 466.7L1449.9 468.5M1468.9 441.4L1474.6 443.2M1492.9 416.8L1498.6 418.5M1516.2 392.9L1521.9 394.6M1538.8 369.7L1544.5 371.4M1560.8 347.1L1566.5 348.8M1576.3 193.1L1582.1 194.6M1574.0 242.3L1579.8 243.9M1571.8 290.5L1577.6 292.1" stroke="#2e2e2e" stroke-width="1.15" fill="none"/>
<g font-family='"DejaVu Sans","Liberation Sans",sans-serif' font-size="18.8" fill="#000" text-anchor="middle">
<text x="1157.0" y="441.0">20</text>
<text x="1215.0" y="460.0">30</text>
<text x="1274.0" y="480.0">40</text>
<text x="1334.0" y="500.8">50</text>
<text x="1396.5" y="520.3">60</text>
<text x="1463.5" y="501.3">80</text>
<text x="1488.0" y="476.6">100</text>
<text x="1511.5" y="452.4">120</text>
<text x="1535.5" y="427.8">140</text>
<text x="1558.0" y="404.6">160</text>
<text x="1580.5" y="380.3">180</text>
</g>
<g font-family='"DejaVu Sans","Liberation Sans",sans-serif' font-size="18.8" fill="#000">
<text x="1584.3" y="204.3">0.00</text>
<text x="1574.9" y="254.1">−0.01</text>
<text x="1571.6" y="301.7">−0.02</text>
</g>
<text transform="translate(1250.4 525.3) rotate(18.6)" text-anchor="middle" font-family='"DejaVu Sans","Liberation Sans",sans-serif' font-size="21.9" fill="#000">Pulse Pressure (mmHg)</text>
<text transform="translate(1564.2 472.4) rotate(-46.3)" text-anchor="middle" font-family='"DejaVu Sans","Liberation Sans",sans-serif' font-size="21.9" fill="#000">Systolic Pressure (mmHg)</text>
<text transform="translate(1662.7 330) rotate(-87.5)" font-family='"DejaVu Sans","Liberation Sans",sans-serif' font-size="21.9" fill="#000">max|ΔPTT<tspan font-style="italic" font-size="15.33" dy="3.6">distal</tspan><tspan dy="-3.6">| (s)</tspan></text>
<text y="21.8" style="stroke-width:.3px" transform="matrix(1 0 0 1.055 0 -1.199)" font-family='"DejaVu Sans","Liberation Sans",sans-serif' font-size="21.9" fill="#000" xml:space="preserve"><tspan x="948.0" font-style="italic" y="21.8">max</tspan><tspan x="996.4" y="23.6">|</tspan><tspan x="1002.6" y="21.8">Δ</tspan><tspan x="1017.6" font-style="italic" y="21.8">PTT</tspan><tspan x="1057.9" font-style="italic" y="25.4" font-size="15.33">distal</tspan><tspan x="1100.4" y="23.6">|</tspan><tspan x="1111.4" y="21.8">=</tspan><tspan x="1139.1" y="21.8">−</tspan><tspan x="1162.0" y="21.8">0.00430</tspan><tspan x="1256.8" y="21.8">−</tspan><tspan x="1279.7" y="21.8">0.00050</tspan><tspan x="1375.4" y="21.8">*</tspan><tspan x="1390.4" font-style="italic" y="21.8">PP</tspan><tspan x="1421.0" y="21.8">−</tspan><tspan x="1444.5" y="21.8">0.00013</tspan><tspan x="1538.7" y="21.8">*</tspan><tspan x="1553.5" font-style="italic" y="21.8">SBP</tspan><tspan x="1595.4" y="21.8">;</tspan><tspan x="1639.6" font-style="italic" y="21.8">R</tspan><tspan x="1656.3" y="14.2" font-size="14.34">2</tspan><tspan x="1671.0" y="21.8">=</tspan><tspan x="1692.6" y="21.8">0.9237</tspan></text></g></svg></body></html>
